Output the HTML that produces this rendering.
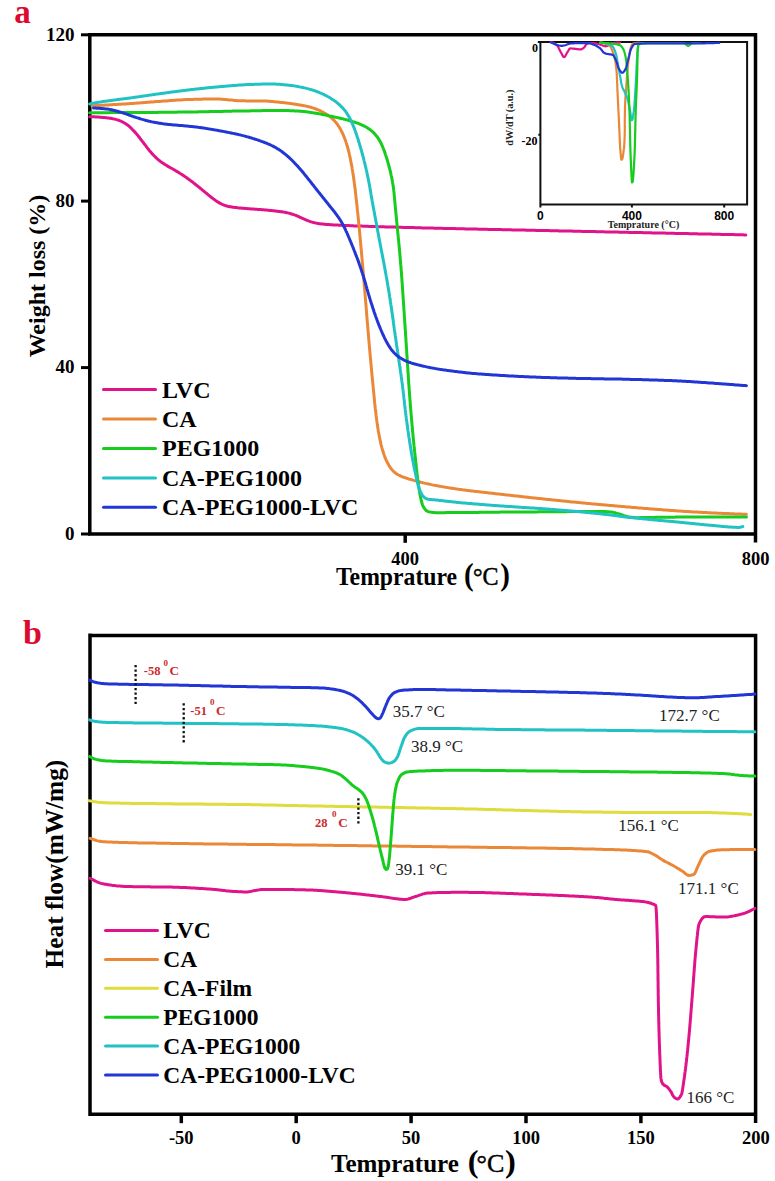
<!DOCTYPE html>
<html><head><meta charset="utf-8"><style>
html,body{margin:0;padding:0;background:#fff;}
body{width:775px;height:1181px;overflow:hidden;}
svg{display:block;}

</style></head><body>
<svg width="775" height="1181" viewBox="0 0 775 1181">
<rect width="775" height="1181" fill="#fff"/>
<text x="14.2" y="23" font-family="Liberation Serif" font-weight="bold" font-size="33" fill="#dc0a2e">a</text>
<path d="M89.8 34.8 H755.5 V542.5 M89.8 33 V534 H757.2" stroke="#000" stroke-width="3.5" fill="none"/>
<line x1="81" y1="34.8" x2="90" y2="34.8" stroke="#000" stroke-width="3"/>
<line x1="81" y1="201.1" x2="90" y2="201.1" stroke="#000" stroke-width="3"/>
<line x1="81" y1="367.6" x2="90" y2="367.6" stroke="#000" stroke-width="3"/>
<line x1="81" y1="534.0" x2="90" y2="534.0" stroke="#000" stroke-width="3"/>
<line x1="405.2" y1="534" x2="405.2" y2="542.8" stroke="#000" stroke-width="3.5"/>
<text x="74.6" y="41.0" font-family="Liberation Serif" font-weight="bold" font-size="19" text-anchor="end">120</text>
<text x="74.6" y="207.1" font-family="Liberation Serif" font-weight="bold" font-size="19" text-anchor="end">80</text>
<text x="74.6" y="373.0" font-family="Liberation Serif" font-weight="bold" font-size="19" text-anchor="end">40</text>
<text x="74.6" y="539.8" font-family="Liberation Serif" font-weight="bold" font-size="19" text-anchor="end">0</text>
<text x="405.2" y="564.5" font-family="Liberation Serif" font-weight="bold" font-size="18.5" text-anchor="middle">400</text>
<text x="755.7" y="564.5" font-family="Liberation Serif" font-weight="bold" font-size="18.5" text-anchor="middle">800</text>
<g transform="translate(0 585.4) scale(1 1.08)"><text x="336" y="0" font-family="Liberation Serif" font-weight="bold" font-size="23.7">Temprature</text><text x="464" y="-0.7" font-family="Liberation Serif" font-weight="bold" font-size="29">(</text><text x="473" y="0" font-family="Liberation Serif" font-size="24" stroke="#000" stroke-width="0.45">°C</text><text x="500.2" y="-0.7" font-family="Liberation Serif" font-weight="bold" font-size="29">)</text></g>
<text transform="translate(45.4 276) rotate(-90)" x="0" y="0" font-family="Liberation Serif" font-weight="bold" font-size="24" text-anchor="middle">Weight loss (%)</text>
<path d="M89.6 116.7 L90.6 116.7 L91.6 116.7 L92.6 116.8 L93.6 116.8 L94.6 116.8 L95.6 116.9 L96.6 117.0 L97.6 117.0 L98.6 117.1 L99.6 117.2 L100.6 117.2 L101.6 117.3 L102.6 117.4 L103.6 117.5 L104.6 117.6 L105.6 117.7 L106.6 117.8 L107.6 117.9 L108.6 118.0 L109.6 118.2 L110.6 118.3 L111.6 118.5 L112.6 118.7 L113.6 118.9 L114.6 119.1 L115.6 119.3 L116.5 119.6 L117.5 119.9 L118.5 120.2 L119.4 120.6 L120.4 120.9 L121.3 121.3 L122.2 121.8 L123.1 122.2 L124.0 122.7 L124.8 123.2 L125.7 123.8 L126.5 124.3 L127.4 124.9 L128.2 125.5 L129.0 126.2 L129.7 126.8 L130.5 127.5 L131.2 128.2 L131.9 128.9 L132.6 129.7 L133.3 130.4 L134.0 131.1 L134.7 131.9 L135.4 132.6 L136.1 133.4 L136.7 134.2 L137.4 134.9 L138.0 135.7 L138.6 136.5 L139.3 137.3 L139.9 138.2 L140.5 139.0 L141.1 139.8 L141.7 140.6 L142.4 141.4 L143.0 142.2 L143.6 143.0 L144.2 143.8 L144.8 144.6 L145.5 145.4 L146.1 146.2 L146.7 147.1 L147.3 147.9 L147.9 148.7 L148.6 149.5 L149.2 150.3 L149.8 151.1 L150.5 151.8 L151.2 152.6 L151.8 153.4 L152.5 154.1 L153.2 154.8 L153.9 155.6 L154.6 156.3 L155.3 157.0 L156.1 157.7 L156.8 158.4 L157.6 159.1 L158.3 159.8 L159.1 160.4 L159.9 161.0 L160.7 161.6 L161.5 162.2 L162.4 162.8 L163.2 163.4 L164.1 163.9 L164.9 164.5 L165.8 165.0 L166.6 165.5 L167.5 166.1 L168.4 166.6 L169.3 167.1 L170.1 167.6 L171.0 168.0 L171.9 168.5 L172.8 169.0 L173.7 169.5 L174.5 170.0 L175.4 170.6 L176.3 171.1 L177.2 171.6 L178.0 172.1 L178.9 172.6 L179.7 173.2 L180.6 173.7 L181.5 174.2 L182.3 174.8 L183.1 175.4 L184.0 175.9 L184.8 176.5 L185.7 177.1 L186.5 177.6 L187.3 178.2 L188.1 178.8 L188.9 179.4 L189.8 180.0 L190.6 180.6 L191.4 181.2 L192.2 181.8 L193.0 182.4 L193.8 183.1 L194.6 183.7 L195.4 184.3 L196.2 185.0 L197.0 185.6 L197.8 186.2 L198.6 186.9 L199.4 187.5 L200.1 188.1 L200.9 188.8 L201.7 189.4 L202.5 190.1 L203.3 190.7 L204.0 191.3 L204.8 192.0 L205.6 192.6 L206.4 193.3 L207.2 193.9 L207.9 194.6 L208.7 195.2 L209.5 195.9 L210.3 196.5 L211.1 197.1 L211.9 197.8 L212.7 198.4 L213.5 199.0 L214.3 199.5 L215.1 200.1 L215.9 200.7 L216.8 201.3 L217.6 201.9 L218.5 202.4 L219.4 202.9 L220.3 203.4 L221.2 203.8 L222.1 204.3 L223.0 204.7 L224.0 205.0 L224.9 205.4 L225.9 205.7 L226.8 206.0 L227.8 206.3 L228.8 206.5 L229.8 206.7 L230.8 206.8 L231.8 207.0 L232.8 207.2 L233.8 207.3 L234.8 207.4 L235.8 207.5 L236.8 207.6 L237.8 207.8 L238.8 207.9 L239.8 208.0 L240.8 208.1 L241.8 208.2 L242.8 208.3 L243.8 208.3 L244.8 208.4 L245.8 208.5 L246.8 208.6 L247.8 208.7 L248.8 208.7 L249.8 208.8 L250.8 208.9 L251.8 209.0 L252.8 209.0 L253.8 209.1 L254.8 209.2 L255.8 209.2 L256.8 209.3 L257.8 209.4 L258.8 209.4 L259.8 209.5 L260.8 209.6 L261.8 209.7 L262.8 209.8 L263.8 209.8 L264.8 209.9 L265.8 210.0 L266.8 210.1 L267.8 210.2 L268.8 210.3 L269.8 210.4 L270.8 210.5 L271.8 210.6 L272.8 210.7 L273.8 210.8 L274.8 210.9 L275.8 211.0 L276.8 211.2 L277.8 211.3 L278.8 211.4 L279.8 211.5 L280.8 211.7 L281.8 211.8 L282.8 212.0 L283.8 212.1 L284.8 212.3 L285.8 212.5 L286.8 212.7 L287.8 212.9 L288.7 213.1 L289.7 213.4 L290.7 213.7 L291.7 214.0 L292.6 214.3 L293.6 214.6 L294.5 214.9 L295.5 215.2 L296.4 215.6 L297.3 216.0 L298.3 216.4 L299.2 216.9 L300.1 217.3 L301.0 217.7 L301.9 218.1 L302.9 218.5 L303.8 218.9 L304.7 219.3 L305.6 219.7 L306.5 220.1 L307.5 220.5 L308.4 220.9 L309.3 221.2 L310.3 221.6 L311.3 221.9 L312.2 222.2 L313.2 222.4 L314.2 222.7 L315.2 222.9 L316.2 223.1 L317.1 223.3 L318.1 223.5 L319.1 223.7 L320.1 223.8 L321.1 223.9 L322.1 224.0 L323.1 224.1 L324.1 224.2 L325.1 224.3 L326.1 224.4 L327.1 224.5 L328.1 224.6 L329.1 224.6 L330.1 224.7 L331.1 224.8 L332.1 224.8 L333.1 224.9 L334.1 224.9 L335.1 225.0 L336.1 225.0 L337.1 225.1 L338.1 225.1 L339.1 225.2 L340.1 225.2 L341.1 225.3 L342.1 225.3 L343.1 225.4 L344.1 225.4 L345.1 225.5 L346.1 225.5 L347.1 225.6 L348.1 225.6 L349.1 225.6 L350.1 225.7 L351.1 225.7 L352.1 225.8 L353.1 225.8 L354.1 225.9 L355.1 225.9 L356.1 225.9 L357.1 226.0 L358.1 226.0 L359.1 226.0 L360.1 226.1 L361.1 226.1 L362.1 226.1 L363.1 226.2 L364.1 226.2 L365.1 226.2 L366.1 226.3 L367.1 226.3 L368.1 226.3 L369.1 226.4 L370.1 226.4 L371.1 226.4 L372.1 226.5 L373.1 226.5 L374.1 226.5 L375.1 226.6 L376.1 226.6 L377.1 226.6 L378.1 226.7 L379.1 226.7 L380.1 226.7 L381.1 226.7 L382.1 226.8 L383.1 226.8 L384.1 226.8 L385.1 226.9 L386.1 226.9 L387.1 226.9 L388.1 226.9 L389.1 227.0 L390.1 227.0 L391.1 227.0 L392.1 227.0 L393.1 227.1 L394.1 227.1 L395.1 227.1 L396.1 227.2 L397.1 227.2 L398.1 227.2 L399.1 227.2 L400.1 227.3 L401.1 227.3 L402.1 227.3 L403.1 227.4 L404.1 227.4 L405.1 227.4 L406.1 227.4 L407.1 227.5 L408.1 227.5 L409.1 227.5 L410.1 227.5 L411.1 227.6 L412.1 227.6 L413.1 227.6 L414.1 227.6 L415.1 227.7 L416.1 227.7 L417.1 227.7 L418.1 227.8 L419.1 227.8 L420.1 227.8 L421.1 227.8 L422.1 227.9 L423.1 227.9 L424.1 227.9 L425.1 227.9 L426.1 228.0 L427.1 228.0 L428.1 228.0 L429.1 228.0 L430.1 228.1 L431.1 228.1 L432.1 228.1 L433.1 228.1 L434.1 228.2 L435.1 228.2 L436.1 228.2 L437.1 228.2 L438.1 228.3 L439.1 228.3 L440.1 228.3 L441.1 228.3 L442.1 228.3 L443.1 228.4 L444.1 228.4 L445.1 228.4 L446.1 228.4 L447.1 228.5 L448.1 228.5 L449.1 228.5 L450.1 228.5 L451.1 228.6 L452.1 228.6 L453.1 228.6 L454.1 228.6 L455.1 228.6 L456.1 228.7 L457.1 228.7 L458.1 228.7 L459.1 228.7 L460.1 228.8 L461.1 228.8 L462.1 228.8 L463.1 228.8 L464.1 228.8 L465.1 228.9 L466.1 228.9 L467.1 228.9 L468.1 228.9 L469.1 229.0 L470.1 229.0 L471.1 229.0 L472.1 229.0 L473.1 229.0 L474.1 229.1 L475.1 229.1 L476.1 229.1 L477.1 229.1 L478.1 229.2 L479.1 229.2 L480.1 229.2 L481.1 229.2 L482.1 229.2 L483.1 229.3 L484.1 229.3 L485.1 229.3 L486.1 229.3 L487.1 229.3 L488.1 229.4 L489.1 229.4 L490.1 229.4 L491.1 229.4 L492.1 229.5 L493.1 229.5 L494.1 229.5 L495.1 229.5 L496.1 229.5 L497.1 229.6 L498.1 229.6 L499.1 229.6 L500.1 229.6 L501.1 229.6 L502.1 229.7 L503.1 229.7 L504.1 229.7 L505.1 229.7 L506.1 229.7 L507.1 229.8 L508.1 229.8 L509.1 229.8 L510.1 229.8 L511.1 229.8 L512.1 229.9 L513.1 229.9 L514.1 229.9 L515.1 229.9 L516.1 230.0 L517.1 230.0 L518.1 230.0 L519.1 230.0 L520.1 230.0 L521.1 230.1 L522.1 230.1 L523.1 230.1 L524.1 230.1 L525.1 230.1 L526.1 230.2 L527.1 230.2 L528.1 230.2 L529.1 230.2 L530.1 230.2 L531.1 230.3 L532.1 230.3 L533.1 230.3 L534.1 230.3 L535.1 230.3 L536.1 230.4 L537.1 230.4 L538.1 230.4 L539.1 230.4 L540.1 230.5 L541.1 230.5 L542.1 230.5 L543.1 230.5 L544.1 230.5 L545.1 230.6 L546.1 230.6 L547.1 230.6 L548.1 230.6 L549.1 230.6 L550.1 230.7 L551.1 230.7 L552.1 230.7 L553.1 230.7 L554.1 230.8 L555.1 230.8 L556.1 230.8 L557.1 230.8 L558.1 230.8 L559.1 230.9 L560.1 230.9 L561.1 230.9 L562.1 230.9 L563.1 231.0 L564.1 231.0 L565.1 231.0 L566.1 231.0 L567.1 231.0 L568.1 231.1 L569.1 231.1 L570.1 231.1 L571.1 231.1 L572.1 231.1 L573.1 231.2 L574.1 231.2 L575.1 231.2 L576.1 231.2 L577.1 231.3 L578.1 231.3 L579.1 231.3 L580.1 231.3 L581.1 231.3 L582.1 231.4 L583.1 231.4 L584.1 231.4 L585.1 231.4 L586.1 231.5 L587.1 231.5 L588.1 231.5 L589.1 231.5 L590.1 231.5 L591.1 231.6 L592.1 231.6 L593.1 231.6 L594.1 231.6 L595.1 231.6 L596.1 231.7 L597.1 231.7 L598.1 231.7 L599.1 231.7 L600.1 231.8 L601.1 231.8 L602.1 231.8 L603.1 231.8 L604.1 231.8 L605.1 231.9 L606.1 231.9 L607.1 231.9 L608.1 231.9 L609.1 231.9 L610.1 232.0 L611.1 232.0 L612.1 232.0 L613.1 232.0 L614.1 232.1 L615.1 232.1 L616.1 232.1 L617.1 232.1 L618.1 232.1 L619.1 232.2 L620.1 232.2 L621.1 232.2 L622.1 232.2 L623.1 232.2 L624.1 232.3 L625.1 232.3 L626.1 232.3 L627.1 232.3 L628.1 232.3 L629.1 232.4 L630.1 232.4 L631.1 232.4 L632.1 232.4 L633.1 232.5 L634.1 232.5 L635.1 232.5 L636.1 232.5 L637.1 232.5 L638.1 232.6 L639.1 232.6 L640.1 232.6 L641.1 232.6 L642.1 232.6 L643.1 232.7 L644.1 232.7 L645.1 232.7 L646.1 232.7 L647.1 232.8 L648.1 232.8 L649.1 232.8 L650.1 232.8 L651.1 232.8 L652.1 232.9 L653.1 232.9 L654.1 232.9 L655.1 232.9 L656.1 232.9 L657.1 233.0 L658.1 233.0 L659.1 233.0 L660.1 233.0 L661.1 233.1 L662.1 233.1 L663.1 233.1 L664.1 233.1 L665.1 233.1 L666.1 233.2 L667.1 233.2 L668.1 233.2 L669.1 233.2 L670.1 233.3 L671.1 233.3 L672.1 233.3 L673.1 233.3 L674.1 233.3 L675.1 233.4 L676.1 233.4 L677.1 233.4 L678.1 233.4 L679.1 233.4 L680.1 233.5 L681.1 233.5 L682.1 233.5 L683.1 233.5 L684.1 233.6 L685.1 233.6 L686.1 233.6 L687.1 233.6 L688.1 233.6 L689.1 233.7 L690.1 233.7 L691.1 233.7 L692.1 233.7 L693.1 233.8 L694.1 233.8 L695.1 233.8 L696.1 233.8 L697.1 233.8 L698.1 233.9 L699.1 233.9 L700.1 233.9 L701.1 233.9 L702.1 233.9 L703.1 234.0 L704.1 234.0 L705.1 234.0 L706.1 234.0 L707.1 234.1 L708.1 234.1 L709.1 234.1 L710.1 234.1 L711.1 234.1 L712.1 234.2 L713.1 234.2 L714.1 234.2 L715.1 234.2 L716.1 234.3 L717.1 234.3 L718.1 234.3 L719.1 234.3 L720.1 234.3 L721.1 234.4 L722.1 234.4 L723.1 234.4 L724.1 234.4 L725.1 234.4 L726.1 234.5 L727.1 234.5 L728.1 234.5 L729.1 234.5 L730.1 234.6 L731.1 234.6 L732.1 234.6 L733.1 234.6 L734.1 234.6 L735.1 234.7 L736.1 234.7 L737.1 234.7 L738.1 234.7 L739.1 234.8 L740.1 234.8 L741.1 234.8 L742.1 234.8 L743.1 234.8 L744.1 234.9 L745.1 234.9 L745.8 234.9" stroke="#e0138a" stroke-width="3.0" fill="none" stroke-linecap="round" stroke-linejoin="round"/>
<path d="M92.0 105.9 L93.0 105.8 L94.0 105.8 L95.0 105.7 L96.0 105.6 L97.0 105.6 L98.0 105.5 L99.0 105.5 L100.0 105.4 L101.0 105.3 L102.0 105.3 L103.0 105.2 L104.0 105.2 L105.0 105.1 L106.0 105.0 L107.0 105.0 L108.0 104.9 L109.0 104.9 L110.0 104.8 L111.0 104.7 L112.0 104.7 L113.0 104.6 L114.0 104.6 L115.0 104.5 L116.0 104.5 L117.0 104.4 L118.0 104.3 L119.0 104.3 L120.0 104.2 L121.0 104.2 L122.0 104.1 L123.0 104.1 L124.0 104.0 L125.0 103.9 L126.0 103.9 L127.0 103.8 L128.0 103.8 L129.0 103.7 L130.0 103.6 L131.0 103.6 L132.0 103.5 L133.0 103.4 L134.0 103.3 L135.0 103.3 L136.0 103.2 L137.0 103.1 L138.0 103.1 L139.0 103.0 L140.0 102.9 L141.0 102.8 L142.0 102.7 L143.0 102.7 L144.0 102.6 L145.0 102.5 L146.0 102.4 L147.0 102.3 L148.0 102.3 L149.0 102.2 L150.0 102.1 L151.0 102.0 L152.0 101.9 L153.0 101.9 L154.0 101.8 L155.0 101.7 L156.0 101.6 L157.0 101.6 L158.0 101.5 L159.0 101.4 L160.0 101.4 L161.0 101.3 L162.0 101.2 L163.0 101.1 L164.0 101.1 L165.0 101.0 L166.0 100.9 L167.0 100.9 L168.0 100.8 L169.0 100.7 L170.0 100.6 L171.0 100.6 L172.0 100.5 L173.0 100.4 L174.0 100.3 L175.0 100.3 L176.0 100.2 L177.0 100.1 L178.0 100.1 L179.0 100.0 L180.0 99.9 L181.0 99.9 L182.0 99.8 L183.0 99.7 L184.0 99.7 L185.0 99.6 L186.0 99.6 L187.0 99.5 L188.0 99.5 L189.0 99.5 L190.0 99.4 L191.0 99.4 L192.0 99.4 L193.0 99.4 L194.0 99.3 L195.0 99.3 L196.0 99.3 L197.0 99.3 L198.0 99.2 L199.0 99.2 L200.0 99.2 L201.0 99.2 L202.0 99.2 L203.0 99.1 L204.0 99.1 L205.0 99.1 L206.0 99.1 L207.0 99.1 L208.0 99.1 L209.0 99.1 L210.0 99.0 L211.0 99.0 L212.0 99.0 L213.0 99.0 L214.0 99.0 L215.0 99.0 L216.0 99.0 L217.0 99.0 L218.0 99.0 L219.0 99.1 L220.0 99.1 L221.0 99.2 L222.0 99.2 L223.0 99.3 L224.0 99.4 L225.0 99.5 L226.0 99.6 L227.0 99.7 L228.0 99.8 L229.0 99.9 L230.0 99.9 L231.0 100.0 L232.0 100.1 L233.0 100.2 L234.0 100.4 L235.0 100.5 L236.0 100.6 L237.0 100.7 L238.0 100.7 L239.0 100.7 L240.0 100.8 L241.0 100.8 L242.0 100.8 L243.0 100.8 L244.0 100.8 L245.0 100.8 L246.0 100.9 L247.0 100.9 L248.0 100.9 L249.0 100.9 L250.0 100.9 L251.0 100.9 L252.0 100.9 L253.0 100.9 L254.0 100.9 L255.0 100.9 L256.0 100.9 L257.0 100.9 L258.0 100.9 L259.0 100.9 L260.0 100.9 L261.0 100.9 L262.0 100.9 L263.0 100.9 L264.0 101.0 L265.0 101.0 L266.0 101.1 L267.0 101.1 L268.0 101.2 L269.0 101.3 L270.0 101.3 L271.0 101.4 L272.0 101.5 L273.0 101.6 L274.0 101.7 L275.0 101.8 L276.0 101.9 L277.0 102.0 L278.0 102.1 L279.0 102.2 L280.0 102.3 L281.0 102.4 L282.0 102.5 L283.0 102.6 L284.0 102.7 L285.0 102.8 L286.0 102.9 L287.0 103.1 L288.0 103.2 L289.0 103.3 L290.0 103.5 L291.0 103.6 L292.0 103.7 L293.0 103.9 L294.0 104.0 L295.0 104.2 L296.0 104.3 L297.0 104.5 L298.0 104.7 L299.0 104.8 L300.0 105.0 L301.0 105.2 L302.0 105.3 L303.0 105.5 L304.0 105.7 L305.0 105.9 L306.0 106.1 L307.0 106.3 L307.9 106.6 L308.9 106.8 L309.9 107.0 L310.9 107.3 L311.9 107.6 L312.8 107.9 L313.8 108.2 L314.7 108.5 L315.7 108.9 L316.6 109.3 L317.6 109.6 L318.5 110.0 L319.4 110.4 L320.3 110.8 L321.3 111.3 L322.2 111.7 L323.1 112.2 L323.9 112.7 L324.8 113.2 L325.7 113.7 L326.5 114.3 L327.4 114.8 L328.2 115.4 L329.0 116.0 L329.9 116.6 L330.7 117.2 L331.4 117.9 L332.2 118.6 L332.9 119.3 L333.7 120.0 L334.4 120.7 L335.0 121.5 L335.7 122.2 L336.3 123.0 L337.0 123.8 L337.6 124.7 L338.1 125.5 L338.7 126.4 L339.2 127.2 L339.8 128.1 L340.3 129.0 L340.8 129.9 L341.3 130.8 L341.7 131.7 L342.2 132.6 L342.6 133.5 L343.1 134.5 L343.5 135.4 L343.9 136.4 L344.3 137.3 L344.6 138.3 L345.0 139.2 L345.4 140.2 L345.7 141.1 L346.0 142.1 L346.3 143.1 L346.6 144.0 L346.9 145.0 L347.2 146.0 L347.5 147.0 L347.8 148.0 L348.1 149.1 L348.3 150.0 L348.6 151.1 L348.8 152.0 L349.1 153.0 L349.3 154.1 L349.5 155.1 L349.8 156.1 L350.0 157.1 L350.2 158.1 L350.4 159.2 L350.6 160.2 L350.8 161.2 L351.0 162.2 L351.2 163.3 L351.4 164.3 L351.6 165.3 L351.8 166.3 L352.0 167.3 L352.1 168.4 L352.3 169.5 L352.5 170.5 L352.7 171.5 L352.8 172.5 L353.0 173.6 L353.1 174.6 L353.3 175.7 L353.5 176.7 L353.6 177.9 L353.8 178.8 L353.9 179.9 L354.0 180.9 L354.2 181.9 L354.3 183.0 L354.5 184.1 L354.6 185.2 L354.7 186.3 L354.9 187.4 L355.0 188.6 L355.2 189.7 L355.3 190.7 L355.4 191.8 L355.5 192.8 L355.6 193.8 L355.8 194.8 L355.9 195.9 L356.0 196.9 L356.1 198.0 L356.2 199.0 L356.4 200.1 L356.5 201.2 L356.6 202.3 L356.7 203.4 L356.8 204.6 L357.0 205.7 L357.1 206.9 L357.2 208.1 L357.3 209.2 L357.4 210.4 L357.6 211.6 L357.7 212.6 L357.8 213.6 L357.9 214.6 L358.0 215.6 L358.1 216.6 L358.2 217.6 L358.3 218.7 L358.4 219.7 L358.5 220.7 L358.6 221.7 L358.7 222.7 L358.8 223.7 L358.9 224.8 L359.0 225.8 L359.1 226.8 L359.2 227.9 L359.3 228.9 L359.4 230.0 L359.5 231.0 L359.6 232.1 L359.7 233.1 L359.8 234.2 L359.9 235.3 L360.0 236.3 L360.1 237.4 L360.2 238.5 L360.3 239.6 L360.4 240.7 L360.5 241.7 L360.6 242.8 L360.7 243.9 L360.8 245.0 L360.9 246.1 L361.0 247.2 L361.1 248.3 L361.2 249.4 L361.3 250.5 L361.4 251.6 L361.5 252.8 L361.6 253.9 L361.7 255.0 L361.8 256.1 L361.9 257.3 L362.0 258.4 L362.1 259.5 L362.2 260.7 L362.3 261.8 L362.4 262.9 L362.5 264.1 L362.6 265.2 L362.7 266.4 L362.8 267.5 L362.9 268.7 L363.0 269.8 L363.1 271.0 L363.2 272.1 L363.3 273.3 L363.4 274.5 L363.5 275.6 L363.6 276.8 L363.7 278.0 L363.8 279.2 L363.9 280.3 L364.0 281.5 L364.1 282.7 L364.2 283.9 L364.3 285.1 L364.4 286.3 L364.5 287.5 L364.6 288.7 L364.7 289.9 L364.8 291.1 L364.9 292.3 L365.0 293.5 L365.1 294.7 L365.2 295.9 L365.3 297.1 L365.4 298.3 L365.5 299.6 L365.6 300.8 L365.7 302.0 L365.8 303.2 L365.9 304.5 L366.0 305.7 L366.1 307.0 L366.2 308.2 L366.3 309.4 L366.4 310.7 L366.5 311.9 L366.6 313.1 L366.7 314.4 L366.8 315.6 L366.9 316.8 L367.0 318.0 L367.1 319.2 L367.2 320.4 L367.3 321.6 L367.4 322.8 L367.5 324.0 L367.6 325.2 L367.7 326.4 L367.8 327.6 L367.9 328.8 L368.0 330.0 L368.1 331.2 L368.2 332.4 L368.3 333.5 L368.4 334.7 L368.5 335.9 L368.6 337.1 L368.7 338.2 L368.8 339.4 L368.9 340.6 L369.0 341.7 L369.1 342.9 L369.2 344.0 L369.3 345.2 L369.4 346.3 L369.5 347.5 L369.6 348.6 L369.7 349.7 L369.8 350.9 L369.9 352.0 L370.0 353.1 L370.1 354.2 L370.2 355.4 L370.3 356.5 L370.4 357.6 L370.5 358.7 L370.6 359.8 L370.7 360.9 L370.8 362.0 L370.9 363.1 L371.0 364.2 L371.1 365.3 L371.2 366.4 L371.3 367.5 L371.4 368.6 L371.5 369.7 L371.6 370.8 L371.7 371.8 L371.8 372.9 L371.9 374.0 L372.0 375.1 L372.1 376.1 L372.2 377.2 L372.3 378.2 L372.4 379.3 L372.5 380.3 L372.6 381.4 L372.7 382.4 L372.8 383.4 L372.9 384.5 L373.0 385.5 L373.1 386.5 L373.2 387.5 L373.3 388.6 L373.4 389.6 L373.5 390.6 L373.6 391.6 L373.7 392.7 L373.8 393.7 L373.9 394.7 L374.0 395.7 L374.1 396.7 L374.2 397.7 L374.3 398.7 L374.4 399.9 L374.5 401.1 L374.6 402.3 L374.7 403.4 L374.9 404.6 L375.0 405.7 L375.1 406.8 L375.2 407.9 L375.3 408.9 L375.5 410.0 L375.6 411.0 L375.7 412.1 L375.9 413.3 L376.0 414.4 L376.1 415.5 L376.3 416.6 L376.4 417.7 L376.6 418.8 L376.7 419.9 L376.8 420.9 L377.0 422.0 L377.1 423.0 L377.3 424.0 L377.4 425.1 L377.6 426.2 L377.7 427.3 L377.9 428.4 L378.1 429.4 L378.2 430.4 L378.4 431.5 L378.6 432.5 L378.8 433.5 L379.0 434.6 L379.2 435.7 L379.4 436.7 L379.6 437.7 L379.8 438.7 L380.0 439.7 L380.2 440.8 L380.4 441.8 L380.7 442.8 L380.9 443.9 L381.1 444.9 L381.4 445.9 L381.7 446.9 L381.9 447.9 L382.2 448.9 L382.5 449.8 L382.8 450.8 L383.1 451.8 L383.4 452.8 L383.7 453.8 L384.1 454.8 L384.4 455.7 L384.8 456.7 L385.1 457.6 L385.5 458.6 L385.9 459.5 L386.3 460.5 L386.8 461.4 L387.2 462.3 L387.7 463.2 L388.2 464.1 L388.7 465.0 L389.2 465.9 L389.8 466.7 L390.3 467.6 L390.9 468.4 L391.5 469.2 L392.2 470.0 L392.9 470.7 L393.6 471.4 L394.4 472.1 L395.2 472.8 L396.0 473.4 L396.8 473.9 L397.7 474.5 L398.6 475.0 L399.5 475.4 L400.4 475.9 L401.3 476.3 L402.2 476.7 L403.2 477.0 L404.1 477.4 L405.1 477.7 L406.1 478.0 L407.0 478.3 L408.0 478.7 L408.9 479.0 L409.9 479.3 L410.9 479.5 L411.8 479.8 L412.8 480.1 L413.8 480.4 L414.8 480.6 L415.8 480.9 L416.7 481.1 L417.7 481.4 L418.7 481.7 L419.7 481.9 L420.7 482.2 L421.6 482.4 L422.6 482.7 L423.6 482.9 L424.6 483.1 L425.6 483.4 L426.5 483.6 L427.5 483.8 L428.5 484.0 L429.5 484.2 L430.5 484.4 L431.4 484.6 L432.4 484.9 L433.4 485.1 L434.4 485.3 L435.4 485.5 L436.4 485.6 L437.4 485.8 L438.4 486.0 L439.4 486.2 L440.4 486.4 L441.4 486.6 L442.4 486.7 L443.4 486.9 L444.4 487.1 L445.4 487.2 L446.4 487.4 L447.4 487.6 L448.4 487.7 L449.4 487.9 L450.4 488.0 L451.4 488.2 L452.4 488.3 L453.4 488.5 L454.4 488.6 L455.4 488.8 L456.4 488.9 L457.4 489.1 L458.4 489.2 L459.4 489.4 L460.4 489.5 L461.4 489.6 L462.4 489.8 L463.4 489.9 L464.4 490.0 L465.4 490.2 L466.4 490.3 L467.4 490.4 L468.4 490.5 L469.4 490.7 L470.4 490.8 L471.4 490.9 L472.4 491.0 L473.4 491.1 L474.4 491.3 L475.4 491.4 L476.4 491.5 L477.4 491.6 L478.4 491.7 L479.4 491.8 L480.4 491.9 L481.4 492.1 L482.4 492.2 L483.4 492.3 L484.4 492.4 L485.4 492.5 L486.4 492.6 L487.4 492.7 L488.4 492.9 L489.4 493.0 L490.4 493.1 L491.4 493.2 L492.4 493.3 L493.4 493.4 L494.4 493.5 L495.4 493.7 L496.4 493.8 L497.4 493.9 L498.4 494.0 L499.4 494.1 L500.4 494.2 L501.4 494.3 L502.4 494.5 L503.4 494.6 L504.4 494.7 L505.4 494.8 L506.4 494.9 L507.4 495.0 L508.4 495.1 L509.4 495.2 L510.4 495.3 L511.4 495.5 L512.4 495.6 L513.4 495.7 L514.4 495.8 L515.4 495.9 L516.4 496.0 L517.4 496.1 L518.4 496.2 L519.4 496.3 L520.4 496.5 L521.4 496.6 L522.4 496.7 L523.4 496.8 L524.4 496.9 L525.4 497.0 L526.4 497.1 L527.4 497.2 L528.4 497.3 L529.4 497.4 L530.4 497.6 L531.4 497.7 L532.4 497.8 L533.4 497.9 L534.4 498.0 L535.4 498.1 L536.4 498.2 L537.4 498.3 L538.4 498.4 L539.4 498.5 L540.4 498.6 L541.4 498.7 L542.4 498.8 L543.4 498.9 L544.4 499.1 L545.4 499.2 L546.4 499.3 L547.4 499.4 L548.4 499.5 L549.4 499.6 L550.4 499.7 L551.4 499.8 L552.4 499.9 L553.4 500.0 L554.4 500.1 L555.4 500.2 L556.4 500.3 L557.4 500.4 L558.4 500.5 L559.4 500.6 L560.4 500.7 L561.4 500.8 L562.4 500.9 L563.4 501.0 L564.4 501.1 L565.4 501.2 L566.4 501.3 L567.4 501.5 L568.4 501.6 L569.4 501.7 L570.4 501.8 L571.4 501.9 L572.4 502.0 L573.4 502.1 L574.4 502.1 L575.4 502.2 L576.4 502.3 L577.4 502.4 L578.4 502.5 L579.4 502.6 L580.4 502.7 L581.4 502.8 L582.4 502.9 L583.4 503.0 L584.4 503.1 L585.4 503.2 L586.4 503.3 L587.4 503.4 L588.4 503.5 L589.4 503.6 L590.4 503.7 L591.4 503.8 L592.4 503.9 L593.4 503.9 L594.4 504.0 L595.4 504.1 L596.4 504.2 L597.4 504.3 L598.4 504.4 L599.4 504.5 L600.4 504.6 L601.4 504.7 L602.4 504.8 L603.4 504.8 L604.4 504.9 L605.4 505.0 L606.4 505.1 L607.4 505.2 L608.4 505.3 L609.4 505.4 L610.4 505.5 L611.4 505.6 L612.4 505.6 L613.4 505.7 L614.4 505.8 L615.4 505.9 L616.4 506.0 L617.4 506.1 L618.4 506.2 L619.4 506.2 L620.4 506.3 L621.4 506.4 L622.4 506.5 L623.4 506.6 L624.4 506.7 L625.4 506.8 L626.4 506.9 L627.4 506.9 L628.4 507.0 L629.4 507.1 L630.4 507.2 L631.4 507.3 L632.4 507.4 L633.4 507.5 L634.4 507.5 L635.4 507.6 L636.4 507.7 L637.4 507.8 L638.4 507.9 L639.4 508.0 L640.4 508.0 L641.4 508.1 L642.4 508.2 L643.4 508.3 L644.4 508.4 L645.4 508.5 L646.4 508.5 L647.4 508.6 L648.4 508.7 L649.4 508.8 L650.4 508.9 L651.4 508.9 L652.4 509.0 L653.4 509.1 L654.4 509.2 L655.4 509.3 L656.4 509.3 L657.4 509.4 L658.4 509.5 L659.4 509.6 L660.4 509.6 L661.4 509.7 L662.4 509.8 L663.4 509.9 L664.4 509.9 L665.4 510.0 L666.4 510.1 L667.4 510.2 L668.4 510.2 L669.4 510.3 L670.4 510.4 L671.4 510.5 L672.4 510.5 L673.4 510.6 L674.4 510.7 L675.4 510.8 L676.4 510.8 L677.4 510.9 L678.4 511.0 L679.4 511.0 L680.4 511.1 L681.4 511.2 L682.4 511.2 L683.4 511.3 L684.4 511.4 L685.4 511.4 L686.4 511.5 L687.4 511.6 L688.4 511.6 L689.4 511.7 L690.4 511.7 L691.4 511.8 L692.4 511.9 L693.4 511.9 L694.4 512.0 L695.4 512.0 L696.4 512.1 L697.4 512.1 L698.4 512.2 L699.4 512.2 L700.4 512.3 L701.4 512.3 L702.4 512.4 L703.4 512.5 L704.4 512.5 L705.4 512.6 L706.4 512.6 L707.4 512.7 L708.4 512.7 L709.4 512.8 L710.4 512.8 L711.4 512.9 L712.4 512.9 L713.4 513.0 L714.4 513.0 L715.4 513.1 L716.4 513.1 L717.4 513.2 L718.4 513.2 L719.4 513.3 L720.4 513.3 L721.4 513.3 L722.4 513.4 L723.4 513.4 L724.4 513.5 L725.4 513.5 L726.4 513.6 L727.4 513.6 L728.4 513.6 L729.4 513.7 L730.4 513.7 L731.4 513.8 L732.4 513.8 L733.4 513.8 L734.4 513.9 L735.4 513.9 L736.4 514.0 L737.4 514.0 L738.4 514.0 L739.4 514.1 L740.4 514.1 L741.4 514.1 L742.4 514.2 L743.4 514.2 L744.4 514.2 L745.4 514.3 L746.4 514.3" stroke="#ea8838" stroke-width="3.0" fill="none" stroke-linecap="round" stroke-linejoin="round"/>
<path d="M89.6 112.8 L90.6 112.8 L91.6 112.8 L92.6 112.8 L93.6 112.8 L94.6 112.8 L95.6 112.7 L96.6 112.7 L97.6 112.7 L98.6 112.7 L99.6 112.7 L100.6 112.7 L101.6 112.7 L102.6 112.7 L103.6 112.7 L104.6 112.7 L105.6 112.7 L106.6 112.7 L107.6 112.7 L108.6 112.7 L109.6 112.6 L110.6 112.6 L111.6 112.6 L112.6 112.6 L113.6 112.6 L114.6 112.6 L115.6 112.6 L116.6 112.6 L117.6 112.6 L118.6 112.6 L119.6 112.6 L120.6 112.6 L121.6 112.6 L122.6 112.6 L123.6 112.6 L124.6 112.6 L125.6 112.6 L126.6 112.6 L127.6 112.6 L128.6 112.5 L129.6 112.5 L130.6 112.5 L131.6 112.5 L132.6 112.5 L133.6 112.5 L134.6 112.5 L135.6 112.5 L136.6 112.5 L137.6 112.5 L138.6 112.5 L139.6 112.5 L140.6 112.5 L141.6 112.5 L142.6 112.5 L143.6 112.5 L144.6 112.5 L145.6 112.5 L146.6 112.4 L147.6 112.4 L148.6 112.4 L149.6 112.4 L150.6 112.4 L151.6 112.4 L152.6 112.4 L153.6 112.4 L154.6 112.4 L155.6 112.4 L156.6 112.4 L157.6 112.4 L158.6 112.3 L159.6 112.3 L160.6 112.3 L161.6 112.3 L162.6 112.3 L163.6 112.3 L164.6 112.3 L165.6 112.3 L166.6 112.3 L167.6 112.3 L168.6 112.2 L169.6 112.2 L170.6 112.2 L171.6 112.2 L172.6 112.2 L173.6 112.2 L174.6 112.2 L175.6 112.2 L176.6 112.2 L177.6 112.1 L178.6 112.1 L179.6 112.1 L180.6 112.1 L181.6 112.1 L182.6 112.1 L183.6 112.1 L184.6 112.1 L185.6 112.0 L186.6 112.0 L187.6 112.0 L188.6 112.0 L189.6 112.0 L190.6 112.0 L191.6 112.0 L192.6 112.0 L193.6 111.9 L194.6 111.9 L195.6 111.9 L196.6 111.9 L197.6 111.9 L198.6 111.8 L199.6 111.8 L200.6 111.8 L201.6 111.8 L202.6 111.8 L203.6 111.8 L204.6 111.7 L205.6 111.7 L206.6 111.7 L207.6 111.7 L208.6 111.7 L209.6 111.6 L210.6 111.6 L211.6 111.6 L212.6 111.6 L213.6 111.5 L214.6 111.5 L215.6 111.5 L216.6 111.5 L217.6 111.5 L218.6 111.4 L219.6 111.4 L220.6 111.4 L221.6 111.4 L222.6 111.4 L223.6 111.3 L224.6 111.3 L225.6 111.3 L226.6 111.3 L227.6 111.2 L228.6 111.2 L229.6 111.2 L230.6 111.2 L231.6 111.2 L232.6 111.1 L233.6 111.1 L234.6 111.1 L235.6 111.1 L236.6 111.1 L237.6 111.0 L238.6 111.0 L239.6 111.0 L240.6 111.0 L241.6 111.0 L242.6 111.0 L243.6 110.9 L244.6 110.9 L245.6 110.9 L246.6 110.9 L247.6 110.9 L248.6 110.9 L249.6 110.9 L250.6 110.8 L251.6 110.8 L252.6 110.8 L253.6 110.8 L254.6 110.8 L255.6 110.8 L256.6 110.7 L257.6 110.7 L258.6 110.7 L259.6 110.7 L260.6 110.7 L261.6 110.7 L262.6 110.6 L263.6 110.6 L264.6 110.6 L265.6 110.6 L266.6 110.6 L267.6 110.6 L268.6 110.6 L269.6 110.5 L270.6 110.5 L271.6 110.5 L272.6 110.5 L273.6 110.5 L274.6 110.5 L275.6 110.5 L276.6 110.5 L277.6 110.5 L278.6 110.5 L279.6 110.5 L280.6 110.5 L281.6 110.5 L282.6 110.5 L283.6 110.5 L284.6 110.5 L285.6 110.5 L286.6 110.6 L287.6 110.6 L288.6 110.6 L289.6 110.7 L290.6 110.7 L291.6 110.7 L292.6 110.8 L293.6 110.8 L294.6 110.9 L295.6 110.9 L296.6 111.0 L297.6 111.1 L298.6 111.1 L299.6 111.2 L300.6 111.2 L301.6 111.3 L302.6 111.4 L303.6 111.5 L304.6 111.6 L305.6 111.7 L306.6 111.8 L307.6 112.0 L308.6 112.1 L309.6 112.3 L310.6 112.4 L311.6 112.6 L312.6 112.7 L313.6 112.9 L314.6 113.0 L315.6 113.2 L316.6 113.3 L317.6 113.5 L318.6 113.7 L319.6 113.9 L320.6 114.1 L321.6 114.3 L322.6 114.5 L323.6 114.7 L324.6 114.9 L325.5 115.1 L326.5 115.3 L327.5 115.5 L328.5 115.7 L329.5 115.9 L330.4 116.1 L331.4 116.3 L332.4 116.5 L333.4 116.7 L334.4 117.0 L335.3 117.2 L336.3 117.4 L337.3 117.6 L338.3 117.8 L339.3 118.0 L340.2 118.3 L341.2 118.5 L342.2 118.7 L343.2 118.9 L344.2 119.2 L345.1 119.4 L346.1 119.7 L347.1 119.9 L348.1 120.2 L349.1 120.5 L350.0 120.8 L351.0 121.0 L352.0 121.3 L352.9 121.6 L353.9 121.9 L354.9 122.2 L355.8 122.6 L356.8 122.9 L357.7 123.2 L358.7 123.6 L359.6 124.0 L360.5 124.4 L361.5 124.8 L362.4 125.2 L363.3 125.6 L364.2 126.1 L365.1 126.5 L366.0 127.0 L366.9 127.5 L367.7 128.1 L368.6 128.6 L369.4 129.2 L370.2 129.8 L371.0 130.4 L371.8 131.1 L372.5 131.7 L373.3 132.4 L374.0 133.1 L374.7 133.9 L375.4 134.6 L376.0 135.4 L376.7 136.2 L377.3 137.0 L377.9 137.8 L378.4 138.7 L379.0 139.6 L379.5 140.4 L380.0 141.3 L380.5 142.2 L380.9 143.1 L381.4 144.0 L381.8 145.0 L382.3 145.9 L382.7 146.8 L383.0 147.7 L383.4 148.7 L383.8 149.7 L384.1 150.6 L384.5 151.6 L384.8 152.6 L385.2 153.6 L385.5 154.6 L385.8 155.5 L386.1 156.5 L386.5 157.5 L386.8 158.5 L387.1 159.5 L387.4 160.5 L387.6 161.5 L387.9 162.4 L388.2 163.4 L388.5 164.4 L388.8 165.4 L389.0 166.5 L389.3 167.5 L389.6 168.5 L389.8 169.5 L390.1 170.5 L390.3 171.5 L390.6 172.5 L390.8 173.6 L391.0 174.6 L391.2 175.6 L391.5 176.6 L391.7 177.7 L391.9 178.7 L392.1 179.7 L392.3 180.7 L392.5 181.7 L392.6 182.7 L392.8 183.8 L393.0 184.9 L393.2 186.0 L393.3 187.1 L393.5 188.1 L393.6 189.1 L393.7 190.2 L393.9 191.4 L394.0 192.4 L394.1 193.6 L394.2 194.8 L394.3 195.8 L394.4 196.9 L394.5 198.0 L394.6 199.1 L394.7 200.2 L394.8 201.3 L394.9 202.4 L395.0 203.5 L395.1 204.6 L395.2 205.7 L395.3 206.8 L395.4 207.8 L395.5 208.9 L395.6 209.9 L395.7 211.0 L395.8 212.0 L395.9 213.1 L396.0 214.1 L396.1 215.2 L396.2 216.2 L396.3 217.3 L396.4 218.3 L396.5 219.3 L396.6 220.4 L396.7 221.4 L396.8 222.4 L396.9 223.5 L397.0 224.5 L397.1 225.5 L397.2 226.5 L397.3 227.5 L397.4 228.5 L397.5 229.5 L397.6 230.5 L397.7 231.6 L397.8 232.6 L397.9 233.6 L398.0 234.6 L398.1 235.6 L398.2 236.6 L398.3 237.7 L398.4 238.7 L398.5 239.7 L398.6 240.7 L398.7 241.7 L398.8 242.8 L398.9 243.8 L399.0 244.8 L399.1 245.9 L399.2 246.9 L399.3 248.0 L399.4 249.0 L399.5 250.1 L399.6 251.2 L399.7 252.3 L399.8 253.4 L399.9 254.6 L400.0 255.7 L400.1 256.9 L400.2 258.1 L400.3 259.3 L400.4 260.5 L400.5 261.7 L400.6 262.9 L400.7 264.2 L400.8 265.2 L400.9 266.2 L401.0 267.2 L401.1 268.3 L401.1 269.3 L401.2 270.3 L401.3 271.4 L401.4 272.5 L401.5 273.5 L401.5 274.6 L401.6 275.7 L401.7 276.8 L401.8 277.9 L401.9 279.1 L401.9 280.2 L402.0 281.3 L402.1 282.5 L402.2 283.6 L402.3 284.8 L402.3 285.9 L402.4 287.1 L402.5 288.3 L402.6 289.4 L402.7 290.6 L402.7 291.8 L402.8 293.0 L402.9 294.1 L403.0 295.3 L403.1 296.5 L403.1 297.7 L403.2 298.8 L403.3 300.0 L403.4 301.2 L403.5 302.4 L403.5 303.6 L403.6 304.7 L403.7 305.9 L403.8 307.1 L403.9 308.3 L403.9 309.5 L404.0 310.7 L404.1 311.9 L404.2 313.1 L404.3 314.3 L404.3 315.5 L404.4 316.8 L404.5 318.0 L404.6 319.2 L404.7 320.4 L404.7 321.6 L404.8 322.8 L404.9 324.1 L405.0 325.3 L405.1 326.5 L405.1 327.7 L405.2 329.0 L405.3 330.2 L405.4 331.4 L405.5 332.6 L405.5 333.8 L405.6 335.1 L405.7 336.3 L405.8 337.5 L405.9 338.8 L405.9 340.0 L406.0 341.2 L406.1 342.5 L406.2 343.7 L406.3 344.9 L406.3 346.2 L406.4 347.4 L406.5 348.7 L406.6 349.9 L406.7 351.1 L406.7 352.4 L406.8 353.6 L406.9 354.9 L407.0 356.1 L407.1 357.3 L407.1 358.5 L407.2 359.8 L407.3 361.0 L407.4 362.2 L407.5 363.4 L407.5 364.7 L407.6 365.9 L407.7 367.1 L407.8 368.3 L407.9 369.6 L407.9 370.8 L408.0 372.1 L408.1 373.3 L408.2 374.5 L408.3 375.7 L408.3 377.0 L408.4 378.2 L408.5 379.4 L408.6 380.6 L408.7 381.8 L408.7 383.0 L408.8 384.2 L408.9 385.3 L409.0 386.5 L409.1 387.6 L409.1 388.7 L409.2 389.8 L409.3 390.9 L409.4 392.0 L409.5 393.1 L409.5 394.2 L409.6 395.2 L409.7 396.3 L409.8 397.3 L409.9 398.4 L409.9 399.4 L410.0 400.4 L410.1 401.5 L410.2 402.5 L410.3 403.5 L410.3 404.5 L410.4 405.5 L410.5 406.8 L410.6 408.0 L410.7 409.2 L410.8 410.4 L410.9 411.7 L411.0 412.9 L411.1 414.0 L411.2 415.2 L411.3 416.4 L411.4 417.6 L411.5 418.7 L411.6 419.9 L411.7 421.0 L411.8 422.2 L411.9 423.3 L412.0 424.4 L412.1 425.6 L412.2 426.7 L412.3 427.8 L412.4 428.9 L412.5 430.0 L412.6 431.0 L412.7 432.1 L412.8 433.2 L412.9 434.3 L413.0 435.3 L413.1 436.4 L413.2 437.4 L413.3 438.4 L413.4 439.5 L413.5 440.5 L413.6 441.5 L413.7 442.5 L413.8 443.5 L413.9 444.5 L414.0 445.7 L414.2 446.9 L414.3 448.1 L414.4 449.2 L414.5 450.4 L414.6 451.5 L414.8 452.7 L414.9 453.8 L415.0 455.0 L415.1 456.1 L415.2 457.3 L415.4 458.4 L415.5 459.5 L415.6 460.6 L415.7 461.7 L415.8 462.8 L416.0 463.9 L416.1 465.0 L416.2 466.1 L416.3 467.2 L416.4 468.2 L416.6 469.3 L416.7 470.3 L416.8 471.4 L416.9 472.4 L417.0 473.4 L417.2 474.5 L417.3 475.7 L417.5 476.8 L417.6 477.9 L417.7 479.0 L417.9 480.1 L418.0 481.2 L418.2 482.3 L418.3 483.4 L418.4 484.4 L418.6 485.5 L418.7 486.5 L418.9 487.5 L419.0 488.5 L419.2 489.6 L419.3 490.7 L419.5 491.7 L419.7 492.8 L419.8 493.8 L420.0 494.8 L420.3 495.9 L420.5 496.9 L420.7 497.9 L420.9 498.9 L421.2 500.0 L421.4 501.0 L421.7 502.0 L421.9 503.0 L422.2 504.0 L422.5 505.0 L422.9 506.0 L423.4 506.9 L424.0 507.7 L424.5 508.6 L425.2 509.3 L425.8 510.1 L426.6 510.8 L427.5 511.3 L428.4 511.7 L429.4 511.9 L430.4 512.1 L431.4 512.2 L432.4 512.4 L433.4 512.5 L434.4 512.6 L435.4 512.7 L436.4 512.7 L437.4 512.7 L438.4 512.7 L439.4 512.7 L440.4 512.7 L441.4 512.7 L442.4 512.7 L443.4 512.7 L444.4 512.7 L445.4 512.7 L446.4 512.6 L447.4 512.6 L448.4 512.6 L449.4 512.6 L450.4 512.6 L451.4 512.6 L452.4 512.6 L453.4 512.6 L454.4 512.6 L455.4 512.6 L456.4 512.6 L457.4 512.6 L458.4 512.5 L459.4 512.5 L460.4 512.5 L461.4 512.5 L462.4 512.5 L463.4 512.5 L464.4 512.5 L465.4 512.5 L466.4 512.5 L467.4 512.5 L468.4 512.5 L469.4 512.4 L470.4 512.4 L471.4 512.4 L472.4 512.4 L473.4 512.4 L474.4 512.4 L475.4 512.4 L476.4 512.4 L477.4 512.4 L478.4 512.4 L479.4 512.3 L480.4 512.3 L481.4 512.3 L482.4 512.3 L483.4 512.3 L484.4 512.3 L485.4 512.3 L486.4 512.3 L487.4 512.3 L488.4 512.3 L489.4 512.2 L490.4 512.2 L491.4 512.2 L492.4 512.2 L493.4 512.2 L494.4 512.2 L495.4 512.2 L496.4 512.2 L497.4 512.2 L498.4 512.2 L499.4 512.2 L500.4 512.1 L501.4 512.1 L502.4 512.1 L503.4 512.1 L504.4 512.1 L505.4 512.1 L506.4 512.1 L507.4 512.1 L508.4 512.1 L509.4 512.1 L510.4 512.1 L511.4 512.1 L512.4 512.0 L513.4 512.0 L514.4 512.0 L515.4 512.0 L516.4 512.0 L517.4 512.0 L518.4 512.0 L519.4 512.0 L520.4 512.0 L521.4 512.0 L522.4 512.0 L523.4 512.0 L524.4 511.9 L525.4 511.9 L526.4 511.9 L527.4 511.9 L528.4 511.9 L529.4 511.9 L530.4 511.9 L531.4 511.9 L532.4 511.9 L533.4 511.9 L534.4 511.9 L535.4 511.9 L536.4 511.9 L537.4 511.9 L538.4 511.8 L539.4 511.8 L540.4 511.8 L541.4 511.8 L542.4 511.8 L543.4 511.8 L544.4 511.8 L545.4 511.8 L546.4 511.8 L547.4 511.8 L548.4 511.8 L549.4 511.8 L550.4 511.8 L551.4 511.8 L552.4 511.8 L553.4 511.7 L554.4 511.7 L555.4 511.7 L556.4 511.7 L557.4 511.7 L558.4 511.7 L559.4 511.7 L560.4 511.7 L561.4 511.7 L562.4 511.7 L563.4 511.7 L564.4 511.7 L565.4 511.7 L566.4 511.7 L567.4 511.6 L568.4 511.6 L569.4 511.6 L570.4 511.6 L571.4 511.6 L572.4 511.6 L573.4 511.6 L574.4 511.6 L575.4 511.6 L576.4 511.6 L577.4 511.6 L578.4 511.6 L579.4 511.6 L580.4 511.6 L581.4 511.6 L582.4 511.6 L583.4 511.6 L584.4 511.5 L585.4 511.5 L586.4 511.5 L587.4 511.5 L588.4 511.5 L589.4 511.5 L590.4 511.5 L591.4 511.5 L592.4 511.5 L593.4 511.5 L594.4 511.5 L595.4 511.5 L596.4 511.5 L597.4 511.5 L598.4 511.5 L599.4 511.5 L600.4 511.5 L601.4 511.5 L602.4 511.5 L603.4 511.6 L604.4 511.6 L605.4 511.6 L606.4 511.7 L607.4 511.7 L608.4 511.8 L609.4 511.9 L610.4 511.9 L611.4 512.0 L612.4 512.2 L613.4 512.4 L614.4 512.6 L615.4 512.8 L616.3 513.1 L617.3 513.4 L618.3 513.6 L619.3 513.9 L620.2 514.2 L621.2 514.5 L622.1 514.9 L623.1 515.2 L624.0 515.6 L625.0 515.9 L625.9 516.3 L626.9 516.5 L627.9 516.8 L628.9 516.9 L629.9 517.1 L630.9 517.2 L631.9 517.3 L632.9 517.4 L633.9 517.5 L634.9 517.6 L635.9 517.7 L636.9 517.7 L637.9 517.7 L638.9 517.7 L639.9 517.6 L640.9 517.6 L641.9 517.6 L642.9 517.6 L643.9 517.6 L644.9 517.6 L645.9 517.6 L646.9 517.5 L647.9 517.5 L648.9 517.5 L649.9 517.5 L650.9 517.4 L651.9 517.4 L652.9 517.4 L653.9 517.4 L654.9 517.4 L655.9 517.3 L656.9 517.3 L657.9 517.3 L658.9 517.3 L659.9 517.3 L660.9 517.3 L661.9 517.3 L662.9 517.3 L663.9 517.2 L664.9 517.2 L665.9 517.2 L666.9 517.2 L667.9 517.2 L668.9 517.2 L669.9 517.2 L670.9 517.2 L671.9 517.2 L672.9 517.2 L673.9 517.2 L674.9 517.2 L675.9 517.1 L676.9 517.1 L677.9 517.1 L678.9 517.1 L679.9 517.1 L680.9 517.1 L681.9 517.1 L682.9 517.1 L683.9 517.1 L684.9 517.1 L685.9 517.1 L686.9 517.1 L687.9 517.1 L688.9 517.1 L689.9 517.1 L690.9 517.1 L691.9 517.0 L692.9 517.0 L693.9 517.0 L694.9 517.0 L695.9 517.0 L696.9 517.0 L697.9 517.0 L698.9 517.0 L699.9 517.0 L700.9 517.0 L701.9 517.0 L702.9 517.0 L703.9 517.0 L704.9 517.0 L705.9 517.0 L706.9 517.0 L707.9 517.0 L708.9 517.0 L709.9 517.0 L710.9 517.0 L711.9 517.0 L712.9 517.0 L713.9 517.0 L714.9 517.0 L715.9 517.0 L716.9 517.0 L717.9 517.0 L718.9 517.0 L719.9 517.0 L720.9 517.0 L721.9 517.0 L722.9 517.0 L723.9 517.0 L724.9 517.0 L725.9 517.0 L726.9 517.0 L727.9 517.0 L728.9 517.0 L729.9 517.0 L730.9 517.0 L731.9 517.0 L732.9 517.0 L733.9 517.0 L734.9 517.0 L735.9 517.0 L736.9 517.0 L737.9 517.0 L738.9 517.0 L739.9 517.0 L740.9 517.0 L741.9 517.0 L742.9 517.0 L743.9 517.0 L744.9 517.0 L745.9 517.0 L746.4 517.0" stroke="#16cc1c" stroke-width="3.0" fill="none" stroke-linecap="round" stroke-linejoin="round"/>
<path d="M89.6 103.9 L90.6 103.7 L91.6 103.5 L92.6 103.3 L93.6 103.1 L94.6 103.0 L95.6 102.8 L96.6 102.6 L97.6 102.4 L98.6 102.3 L99.6 102.1 L100.6 101.9 L101.6 101.8 L102.6 101.6 L103.6 101.5 L104.6 101.3 L105.6 101.2 L106.6 101.1 L107.6 100.9 L108.6 100.8 L109.6 100.7 L110.6 100.5 L111.6 100.4 L112.6 100.3 L113.6 100.1 L114.6 100.0 L115.6 99.9 L116.6 99.7 L117.6 99.6 L118.6 99.5 L119.6 99.3 L120.6 99.2 L121.6 99.1 L122.6 98.9 L123.6 98.8 L124.6 98.7 L125.6 98.6 L126.6 98.4 L127.6 98.3 L128.6 98.2 L129.6 98.0 L130.6 97.9 L131.6 97.8 L132.6 97.6 L133.6 97.5 L134.6 97.3 L135.6 97.2 L136.6 97.0 L137.6 96.9 L138.6 96.8 L139.6 96.6 L140.6 96.5 L141.6 96.3 L142.6 96.2 L143.6 96.0 L144.6 95.9 L145.6 95.7 L146.6 95.6 L147.6 95.4 L148.6 95.3 L149.6 95.1 L150.6 95.0 L151.6 94.9 L152.6 94.7 L153.6 94.6 L154.6 94.4 L155.6 94.3 L156.6 94.1 L157.6 94.0 L158.6 93.9 L159.6 93.7 L160.6 93.6 L161.6 93.5 L162.6 93.3 L163.6 93.2 L164.6 93.0 L165.6 92.9 L166.6 92.8 L167.6 92.6 L168.6 92.5 L169.6 92.4 L170.6 92.2 L171.6 92.1 L172.6 92.0 L173.6 91.8 L174.6 91.7 L175.6 91.6 L176.6 91.4 L177.6 91.3 L178.6 91.2 L179.6 91.0 L180.6 90.9 L181.6 90.8 L182.6 90.7 L183.6 90.5 L184.6 90.4 L185.6 90.3 L186.6 90.2 L187.6 90.0 L188.6 89.9 L189.6 89.8 L190.6 89.7 L191.6 89.6 L192.6 89.5 L193.6 89.4 L194.6 89.2 L195.6 89.1 L196.6 89.0 L197.6 88.9 L198.6 88.8 L199.6 88.7 L200.6 88.6 L201.6 88.5 L202.6 88.4 L203.6 88.3 L204.6 88.2 L205.6 88.0 L206.6 87.9 L207.6 87.8 L208.6 87.7 L209.6 87.6 L210.6 87.5 L211.6 87.4 L212.6 87.3 L213.6 87.2 L214.6 87.2 L215.6 87.1 L216.6 87.0 L217.6 86.9 L218.6 86.8 L219.6 86.7 L220.6 86.6 L221.6 86.5 L222.6 86.4 L223.6 86.4 L224.6 86.3 L225.6 86.2 L226.6 86.1 L227.6 86.0 L228.6 85.9 L229.6 85.8 L230.6 85.8 L231.6 85.7 L232.6 85.6 L233.6 85.5 L234.6 85.4 L235.6 85.4 L236.6 85.3 L237.6 85.2 L238.6 85.1 L239.6 85.1 L240.6 85.0 L241.6 84.9 L242.6 84.9 L243.6 84.8 L244.6 84.7 L245.6 84.7 L246.6 84.6 L247.6 84.6 L248.6 84.5 L249.6 84.5 L250.6 84.5 L251.6 84.4 L252.6 84.4 L253.6 84.4 L254.6 84.3 L255.6 84.3 L256.6 84.3 L257.6 84.2 L258.6 84.2 L259.6 84.2 L260.6 84.2 L261.6 84.1 L262.6 84.1 L263.6 84.1 L264.6 84.1 L265.6 84.0 L266.6 84.0 L267.6 84.0 L268.6 84.0 L269.6 84.0 L270.6 84.0 L271.6 84.0 L272.6 84.0 L273.6 84.0 L274.6 84.1 L275.6 84.1 L276.6 84.2 L277.6 84.2 L278.6 84.3 L279.6 84.3 L280.6 84.4 L281.6 84.5 L282.6 84.6 L283.6 84.7 L284.6 84.8 L285.6 84.9 L286.6 85.0 L287.6 85.1 L288.6 85.2 L289.6 85.3 L290.6 85.4 L291.6 85.5 L292.6 85.6 L293.6 85.8 L294.6 85.9 L295.6 86.1 L296.6 86.3 L297.6 86.5 L298.6 86.7 L299.6 86.9 L300.6 87.1 L301.6 87.3 L302.6 87.5 L303.6 87.7 L304.5 87.9 L305.5 88.1 L306.5 88.4 L307.5 88.6 L308.5 88.9 L309.4 89.2 L310.4 89.4 L311.4 89.7 L312.3 90.0 L313.3 90.3 L314.3 90.6 L315.2 91.0 L316.2 91.3 L317.1 91.7 L318.1 92.0 L319.0 92.4 L319.9 92.8 L320.9 93.2 L321.8 93.6 L322.7 94.0 L323.6 94.4 L324.5 94.9 L325.4 95.3 L326.3 95.8 L327.2 96.3 L328.1 96.8 L329.0 97.3 L329.9 97.8 L330.7 98.3 L331.6 98.9 L332.4 99.4 L333.3 100.0 L334.1 100.5 L334.9 101.1 L335.8 101.7 L336.6 102.4 L337.4 103.0 L338.1 103.7 L338.9 104.3 L339.7 105.0 L340.4 105.7 L341.1 106.4 L341.8 107.1 L342.5 107.8 L343.2 108.6 L343.9 109.3 L344.5 110.1 L345.2 110.9 L345.8 111.7 L346.3 112.5 L346.9 113.4 L347.5 114.3 L348.0 115.1 L348.5 116.0 L349.1 116.9 L349.6 117.8 L350.0 118.7 L350.5 119.6 L351.0 120.5 L351.4 121.5 L351.8 122.4 L352.2 123.3 L352.6 124.3 L353.0 125.2 L353.4 126.2 L353.8 127.1 L354.2 128.1 L354.5 129.1 L354.9 130.0 L355.3 131.0 L355.6 132.0 L355.9 132.9 L356.3 133.9 L356.6 134.9 L356.9 135.8 L357.2 136.8 L357.6 137.8 L357.9 138.8 L358.2 139.8 L358.5 140.8 L358.8 141.8 L359.1 142.8 L359.4 143.7 L359.7 144.7 L360.0 145.7 L360.3 146.7 L360.6 147.8 L360.9 148.7 L361.2 149.7 L361.5 150.7 L361.7 151.7 L362.0 152.7 L362.3 153.8 L362.6 154.8 L362.8 155.8 L363.1 156.8 L363.4 157.8 L363.6 158.8 L363.9 159.8 L364.1 160.8 L364.4 161.9 L364.7 162.9 L364.9 163.9 L365.1 164.9 L365.4 165.9 L365.6 166.9 L365.9 168.0 L366.1 169.0 L366.3 170.1 L366.6 171.0 L366.8 172.0 L367.0 173.1 L367.2 174.1 L367.4 175.2 L367.7 176.2 L367.9 177.2 L368.1 178.2 L368.3 179.2 L368.5 180.3 L368.7 181.3 L368.9 182.3 L369.1 183.4 L369.3 184.5 L369.5 185.5 L369.7 186.6 L369.9 187.7 L370.1 188.8 L370.2 189.8 L370.4 190.8 L370.6 191.8 L370.8 192.9 L371.0 193.9 L371.1 195.0 L371.3 196.0 L371.5 197.1 L371.7 198.1 L371.9 199.2 L372.0 200.2 L372.2 201.3 L372.4 202.3 L372.6 203.3 L372.8 204.3 L372.9 205.3 L373.1 206.3 L373.3 207.3 L373.5 208.2 L373.7 209.2 L373.9 210.3 L374.1 211.4 L374.3 212.5 L374.5 213.6 L374.7 214.7 L374.9 215.7 L375.1 216.8 L375.3 217.9 L375.5 219.0 L375.7 220.1 L375.9 221.1 L376.1 222.2 L376.3 223.3 L376.5 224.4 L376.7 225.5 L376.9 226.5 L377.1 227.6 L377.3 228.7 L377.5 229.8 L377.7 230.8 L377.9 231.9 L378.1 233.0 L378.3 234.0 L378.5 235.1 L378.7 236.2 L378.9 237.2 L379.1 238.3 L379.3 239.4 L379.5 240.4 L379.7 241.5 L379.9 242.5 L380.1 243.6 L380.3 244.7 L380.5 245.7 L380.7 246.7 L380.9 247.8 L381.1 248.8 L381.3 249.9 L381.5 250.9 L381.7 251.9 L381.9 253.0 L382.1 254.0 L382.3 255.0 L382.5 256.1 L382.7 257.1 L382.9 258.1 L383.1 259.2 L383.3 260.2 L383.5 261.2 L383.7 262.3 L383.9 263.3 L384.1 264.4 L384.3 265.5 L384.5 266.5 L384.7 267.6 L384.9 268.7 L385.1 269.8 L385.2 270.8 L385.4 271.8 L385.6 272.7 L385.8 273.7 L386.0 274.7 L386.1 275.7 L386.3 276.7 L386.5 277.7 L386.7 278.7 L386.9 279.7 L387.0 280.8 L387.2 281.8 L387.4 282.8 L387.6 283.9 L387.8 284.9 L387.9 286.0 L388.1 287.0 L388.3 288.1 L388.5 289.2 L388.7 290.3 L388.8 291.4 L389.0 292.4 L389.2 293.4 L389.3 294.4 L389.5 295.4 L389.6 296.4 L389.8 297.5 L390.0 298.5 L390.1 299.6 L390.3 300.6 L390.4 301.7 L390.6 302.7 L390.8 303.8 L390.9 304.9 L391.1 306.0 L391.2 307.1 L391.4 308.2 L391.6 309.2 L391.7 310.3 L391.9 311.4 L392.0 312.6 L392.2 313.7 L392.4 314.8 L392.5 315.8 L392.6 316.8 L392.8 317.8 L392.9 318.8 L393.1 319.8 L393.2 320.9 L393.3 321.9 L393.5 322.9 L393.6 323.9 L393.8 325.0 L393.9 326.0 L394.0 327.0 L394.2 328.0 L394.3 329.0 L394.5 330.0 L394.6 331.0 L394.8 332.1 L394.9 333.3 L395.1 334.4 L395.2 335.5 L395.4 336.6 L395.6 337.7 L395.7 338.8 L395.9 340.0 L396.0 341.1 L396.2 342.2 L396.4 343.3 L396.5 344.4 L396.7 345.5 L396.8 346.6 L397.0 347.7 L397.2 348.8 L397.3 349.9 L397.5 350.9 L397.6 352.0 L397.8 353.1 L398.0 354.2 L398.1 355.3 L398.3 356.4 L398.4 357.4 L398.6 358.5 L398.8 359.6 L398.9 360.6 L399.1 361.7 L399.2 362.7 L399.4 363.8 L399.6 364.9 L399.7 365.9 L399.9 367.0 L400.0 368.1 L400.2 369.2 L400.4 370.3 L400.5 371.4 L400.7 372.5 L400.8 373.5 L401.0 374.5 L401.1 375.5 L401.2 376.5 L401.4 377.6 L401.5 378.6 L401.7 379.6 L401.8 380.6 L401.9 381.7 L402.1 382.7 L402.2 383.8 L402.4 384.8 L402.5 385.9 L402.6 387.0 L402.8 388.1 L402.9 389.2 L403.1 390.3 L403.2 391.5 L403.3 392.5 L403.4 393.5 L403.6 394.6 L403.7 395.7 L403.8 396.7 L403.9 397.8 L404.0 398.9 L404.2 400.0 L404.3 401.1 L404.4 402.2 L404.5 403.3 L404.6 404.4 L404.8 405.5 L404.9 406.6 L405.0 407.6 L405.1 408.7 L405.2 409.7 L405.4 410.7 L405.5 411.9 L405.6 413.0 L405.8 414.1 L405.9 415.2 L406.1 416.3 L406.2 417.4 L406.3 418.5 L406.5 419.6 L406.6 420.6 L406.8 421.7 L406.9 422.7 L407.0 423.8 L407.2 424.8 L407.3 425.8 L407.5 426.9 L407.6 427.9 L407.7 428.9 L407.9 429.9 L408.0 431.0 L408.2 432.1 L408.4 433.2 L408.5 434.3 L408.7 435.4 L408.8 436.5 L409.0 437.5 L409.2 438.6 L409.3 439.6 L409.5 440.7 L409.6 441.7 L409.8 442.8 L410.0 443.8 L410.1 444.8 L410.3 445.8 L410.4 446.8 L410.6 447.8 L410.8 448.9 L411.0 450.0 L411.1 451.1 L411.3 452.1 L411.5 453.2 L411.7 454.2 L411.9 455.3 L412.0 456.3 L412.2 457.3 L412.4 458.3 L412.6 459.3 L412.8 460.4 L413.0 461.5 L413.2 462.5 L413.4 463.6 L413.6 464.6 L413.8 465.6 L414.0 466.6 L414.2 467.6 L414.4 468.6 L414.6 469.6 L414.8 470.7 L415.1 471.7 L415.3 472.8 L415.5 473.8 L415.7 474.9 L415.9 475.9 L416.2 477.0 L416.4 478.0 L416.6 479.1 L416.8 480.1 L417.0 481.0 L417.3 482.1 L417.5 483.1 L417.8 484.0 L418.1 485.0 L418.4 486.0 L418.7 487.0 L419.0 488.0 L419.4 488.9 L419.7 489.9 L420.1 490.9 L420.5 491.8 L420.9 492.8 L421.4 493.7 L421.9 494.6 L422.5 495.4 L423.2 496.2 L423.9 496.9 L424.6 497.6 L425.4 498.2 L426.3 498.7 L427.2 499.0 L428.2 499.2 L429.2 499.4 L430.2 499.5 L431.2 499.6 L432.2 499.7 L433.2 499.8 L434.2 499.8 L435.2 499.9 L436.2 500.0 L437.2 500.1 L438.2 500.2 L439.2 500.4 L440.2 500.5 L441.2 500.6 L442.2 500.7 L443.2 500.8 L444.2 500.9 L445.2 501.0 L446.2 501.2 L447.2 501.3 L448.2 501.4 L449.2 501.5 L450.2 501.6 L451.2 501.7 L452.2 501.8 L453.2 501.9 L454.2 502.0 L455.2 502.1 L456.2 502.3 L457.2 502.4 L458.2 502.5 L459.2 502.6 L460.2 502.7 L461.2 502.8 L462.2 502.9 L463.2 503.0 L464.2 503.0 L465.2 503.1 L466.2 503.2 L467.2 503.3 L468.2 503.4 L469.2 503.5 L470.2 503.6 L471.2 503.6 L472.2 503.7 L473.2 503.8 L474.2 503.9 L475.2 504.0 L476.2 504.0 L477.2 504.1 L478.2 504.2 L479.2 504.3 L480.2 504.4 L481.2 504.4 L482.2 504.5 L483.2 504.6 L484.2 504.7 L485.2 504.8 L486.2 504.8 L487.2 504.9 L488.2 505.0 L489.2 505.1 L490.2 505.2 L491.2 505.2 L492.2 505.3 L493.2 505.4 L494.2 505.5 L495.2 505.5 L496.2 505.6 L497.2 505.7 L498.2 505.8 L499.2 505.8 L500.2 505.9 L501.2 506.0 L502.2 506.0 L503.2 506.1 L504.2 506.2 L505.2 506.2 L506.2 506.3 L507.2 506.4 L508.2 506.4 L509.2 506.5 L510.2 506.6 L511.2 506.6 L512.2 506.7 L513.2 506.8 L514.2 506.8 L515.2 506.9 L516.2 507.0 L517.2 507.0 L518.2 507.1 L519.2 507.2 L520.2 507.2 L521.2 507.3 L522.2 507.4 L523.2 507.4 L524.2 507.5 L525.2 507.5 L526.2 507.6 L527.2 507.7 L528.2 507.7 L529.2 507.8 L530.2 507.9 L531.2 507.9 L532.2 508.0 L533.2 508.1 L534.2 508.1 L535.2 508.2 L536.2 508.3 L537.2 508.3 L538.2 508.4 L539.2 508.5 L540.2 508.6 L541.2 508.6 L542.2 508.7 L543.2 508.8 L544.2 508.8 L545.2 508.9 L546.2 509.0 L547.2 509.1 L548.2 509.1 L549.2 509.2 L550.2 509.3 L551.2 509.4 L552.2 509.5 L553.2 509.5 L554.2 509.6 L555.2 509.7 L556.2 509.8 L557.2 509.8 L558.2 509.9 L559.2 510.0 L560.2 510.1 L561.2 510.2 L562.2 510.2 L563.2 510.3 L564.2 510.4 L565.2 510.5 L566.2 510.6 L567.2 510.7 L568.2 510.7 L569.2 510.8 L570.2 510.9 L571.2 511.0 L572.2 511.1 L573.2 511.2 L574.2 511.3 L575.2 511.3 L576.2 511.4 L577.2 511.5 L578.2 511.6 L579.2 511.7 L580.2 511.8 L581.2 511.9 L582.2 512.0 L583.2 512.1 L584.2 512.2 L585.2 512.3 L586.2 512.4 L587.2 512.5 L588.2 512.6 L589.2 512.7 L590.2 512.8 L591.2 512.9 L592.2 513.0 L593.2 513.1 L594.2 513.2 L595.2 513.3 L596.2 513.4 L597.2 513.5 L598.2 513.6 L599.2 513.7 L600.2 513.8 L601.2 513.9 L602.2 514.0 L603.2 514.2 L604.2 514.3 L605.2 514.4 L606.2 514.5 L607.2 514.6 L608.2 514.7 L609.2 514.8 L610.2 515.0 L611.2 515.1 L612.2 515.2 L613.2 515.3 L614.2 515.5 L615.2 515.6 L616.2 515.7 L617.2 515.9 L618.2 516.0 L619.2 516.1 L620.2 516.3 L621.2 516.4 L622.2 516.5 L623.2 516.7 L624.2 516.8 L625.2 516.9 L626.2 517.0 L627.2 517.2 L628.2 517.3 L629.2 517.4 L630.2 517.5 L631.2 517.6 L632.2 517.7 L633.2 517.8 L634.2 517.9 L635.2 518.0 L636.2 518.1 L637.2 518.2 L638.2 518.3 L639.2 518.4 L640.2 518.5 L641.2 518.6 L642.2 518.7 L643.2 518.8 L644.2 518.9 L645.2 519.0 L646.2 519.1 L647.2 519.2 L648.2 519.3 L649.2 519.4 L650.2 519.5 L651.2 519.6 L652.2 519.7 L653.2 519.8 L654.2 519.9 L655.2 520.0 L656.2 520.1 L657.2 520.2 L658.2 520.3 L659.2 520.4 L660.2 520.4 L661.2 520.5 L662.2 520.6 L663.2 520.7 L664.2 520.8 L665.2 520.9 L666.2 521.0 L667.2 521.1 L668.2 521.2 L669.2 521.2 L670.2 521.3 L671.2 521.4 L672.2 521.5 L673.2 521.6 L674.2 521.7 L675.2 521.8 L676.2 521.9 L677.2 522.0 L678.2 522.1 L679.2 522.2 L680.2 522.3 L681.2 522.4 L682.2 522.5 L683.2 522.6 L684.2 522.7 L685.2 522.8 L686.2 522.9 L687.2 523.0 L688.2 523.1 L689.2 523.2 L690.2 523.3 L691.2 523.4 L692.2 523.5 L693.2 523.6 L694.2 523.7 L695.2 523.8 L696.2 523.9 L697.2 524.0 L698.2 524.1 L699.2 524.2 L700.2 524.3 L701.2 524.4 L702.2 524.5 L703.2 524.6 L704.2 524.7 L705.2 524.8 L706.2 524.9 L707.2 525.0 L708.2 525.1 L709.2 525.2 L710.2 525.3 L711.2 525.3 L712.2 525.4 L713.2 525.5 L714.2 525.6 L715.2 525.7 L716.2 525.8 L717.2 525.9 L718.2 526.0 L719.2 526.1 L720.2 526.2 L721.2 526.3 L722.2 526.4 L723.2 526.5 L724.2 526.6 L725.2 526.7 L726.2 526.8 L727.2 526.8 L728.2 526.9 L729.2 527.0 L730.2 527.1 L731.2 527.1 L732.2 527.2 L733.2 527.2 L734.2 527.3 L735.2 527.3 L736.2 527.3 L737.2 527.4 L738.2 527.4 L739.2 527.4 L740.2 527.2 L741.2 527.0 L742.2 526.7 L742.8 526.5" stroke="#20c2c4" stroke-width="3.0" fill="none" stroke-linecap="round" stroke-linejoin="round"/>
<path d="M93.5 108.1 L94.5 108.1 L95.5 108.1 L96.5 108.2 L97.5 108.2 L98.5 108.3 L99.5 108.3 L100.5 108.4 L101.5 108.5 L102.5 108.6 L103.5 108.7 L104.5 108.8 L105.5 108.9 L106.5 109.0 L107.5 109.1 L108.5 109.2 L109.5 109.4 L110.5 109.6 L111.5 109.7 L112.5 110.0 L113.5 110.2 L114.4 110.4 L115.4 110.7 L116.4 111.0 L117.4 111.2 L118.4 111.5 L119.3 111.8 L120.3 112.1 L121.3 112.4 L122.2 112.6 L123.2 113.0 L124.2 113.3 L125.1 113.6 L126.1 113.9 L127.0 114.3 L128.0 114.6 L129.0 115.0 L129.9 115.3 L130.9 115.7 L131.8 116.0 L132.8 116.4 L133.8 116.7 L134.7 117.0 L135.7 117.3 L136.6 117.6 L137.6 117.9 L138.6 118.2 L139.5 118.5 L140.5 118.8 L141.4 119.1 L142.4 119.4 L143.4 119.6 L144.3 119.9 L145.3 120.2 L146.3 120.5 L147.3 120.7 L148.3 121.0 L149.2 121.2 L150.2 121.4 L151.2 121.7 L152.2 121.9 L153.2 122.1 L154.2 122.3 L155.2 122.5 L156.2 122.6 L157.2 122.8 L158.2 123.0 L159.2 123.2 L160.2 123.3 L161.2 123.5 L162.2 123.6 L163.2 123.8 L164.2 123.9 L165.2 124.0 L166.2 124.2 L167.2 124.3 L168.2 124.4 L169.2 124.5 L170.2 124.6 L171.2 124.7 L172.2 124.8 L173.2 124.9 L174.2 125.0 L175.2 125.0 L176.2 125.1 L177.2 125.2 L178.2 125.3 L179.2 125.4 L180.2 125.5 L181.2 125.5 L182.2 125.6 L183.2 125.7 L184.2 125.8 L185.2 125.9 L186.2 126.0 L187.2 126.1 L188.2 126.2 L189.2 126.3 L190.2 126.4 L191.2 126.5 L192.2 126.6 L193.2 126.7 L194.2 126.8 L195.2 126.9 L196.2 127.0 L197.2 127.1 L198.2 127.3 L199.2 127.4 L200.2 127.5 L201.2 127.7 L202.2 127.8 L203.2 128.0 L204.2 128.1 L205.2 128.3 L206.2 128.4 L207.2 128.6 L208.2 128.8 L209.2 128.9 L210.2 129.1 L211.2 129.3 L212.2 129.4 L213.2 129.6 L214.2 129.8 L215.2 129.9 L216.2 130.1 L217.2 130.3 L218.2 130.5 L219.2 130.7 L220.2 130.9 L221.2 131.0 L222.2 131.2 L223.2 131.4 L224.2 131.6 L225.2 131.8 L226.2 132.0 L227.2 132.2 L228.2 132.4 L229.2 132.6 L230.2 132.8 L231.2 133.0 L232.2 133.2 L233.2 133.4 L234.2 133.6 L235.1 133.8 L236.1 134.0 L237.1 134.2 L238.1 134.4 L239.1 134.7 L240.0 134.9 L241.0 135.1 L242.0 135.4 L243.0 135.6 L244.0 135.9 L244.9 136.1 L245.9 136.4 L246.9 136.7 L247.9 136.9 L248.9 137.2 L249.8 137.5 L250.8 137.8 L251.8 138.1 L252.7 138.4 L253.7 138.7 L254.6 139.0 L255.6 139.3 L256.6 139.6 L257.5 139.9 L258.5 140.2 L259.4 140.6 L260.4 140.9 L261.4 141.3 L262.3 141.6 L263.2 142.0 L264.2 142.3 L265.1 142.7 L266.1 143.0 L267.0 143.4 L267.9 143.8 L268.9 144.2 L269.8 144.6 L270.7 145.0 L271.6 145.5 L272.5 145.9 L273.4 146.4 L274.3 146.9 L275.2 147.3 L276.1 147.8 L277.0 148.4 L277.8 148.9 L278.7 149.4 L279.5 150.0 L280.4 150.6 L281.2 151.1 L282.0 151.7 L282.8 152.3 L283.6 153.0 L284.4 153.6 L285.2 154.2 L286.0 154.9 L286.8 155.5 L287.5 156.2 L288.3 156.8 L289.0 157.5 L289.8 158.2 L290.5 158.9 L291.3 159.6 L292.0 160.3 L292.7 161.0 L293.4 161.7 L294.1 162.4 L294.8 163.2 L295.5 163.9 L296.2 164.7 L296.9 165.4 L297.6 166.1 L298.3 166.9 L299.0 167.7 L299.6 168.4 L300.3 169.2 L301.0 170.0 L301.6 170.7 L302.3 171.5 L302.9 172.3 L303.6 173.1 L304.2 173.9 L304.8 174.7 L305.5 175.5 L306.1 176.3 L306.8 177.1 L307.4 177.9 L308.0 178.7 L308.7 179.5 L309.3 180.3 L310.0 181.1 L310.6 181.9 L311.2 182.7 L311.8 183.5 L312.4 184.3 L313.1 185.1 L313.7 185.8 L314.3 186.6 L314.9 187.4 L315.5 188.2 L316.2 189.0 L316.8 189.8 L317.4 190.6 L318.1 191.4 L318.7 192.2 L319.4 193.0 L320.0 193.8 L320.6 194.6 L321.3 195.4 L321.9 196.2 L322.6 197.0 L323.2 197.8 L323.8 198.6 L324.5 199.4 L325.1 200.2 L325.8 201.0 L326.4 201.8 L327.0 202.6 L327.7 203.4 L328.3 204.2 L329.0 205.0 L329.6 205.8 L330.2 206.7 L330.9 207.4 L331.5 208.2 L332.2 209.0 L332.8 209.8 L333.4 210.6 L334.1 211.4 L334.7 212.2 L335.3 213.0 L335.9 213.8 L336.5 214.6 L337.1 215.5 L337.7 216.3 L338.3 217.1 L338.9 217.9 L339.4 218.8 L340.0 219.6 L340.5 220.5 L341.1 221.4 L341.6 222.3 L342.1 223.2 L342.6 224.1 L343.1 225.0 L343.6 225.9 L344.0 226.8 L344.5 227.7 L344.9 228.6 L345.4 229.5 L345.8 230.5 L346.2 231.4 L346.7 232.3 L347.1 233.3 L347.5 234.2 L347.9 235.1 L348.3 236.1 L348.7 237.0 L349.1 238.0 L349.5 238.9 L349.9 239.9 L350.3 240.8 L350.7 241.8 L351.1 242.7 L351.5 243.7 L351.8 244.6 L352.2 245.5 L352.6 246.5 L353.0 247.4 L353.4 248.4 L353.7 249.3 L354.1 250.3 L354.5 251.3 L354.9 252.2 L355.3 253.2 L355.6 254.2 L356.0 255.2 L356.4 256.1 L356.7 257.0 L357.1 258.0 L357.5 259.0 L357.8 259.9 L358.2 260.9 L358.5 261.9 L358.9 262.8 L359.2 263.8 L359.5 264.7 L359.9 265.7 L360.2 266.7 L360.6 267.7 L360.9 268.7 L361.2 269.6 L361.5 270.6 L361.8 271.6 L362.2 272.6 L362.5 273.6 L362.8 274.5 L363.1 275.5 L363.4 276.5 L363.7 277.5 L364.0 278.5 L364.3 279.5 L364.6 280.5 L364.9 281.5 L365.2 282.5 L365.5 283.5 L365.8 284.5 L366.1 285.6 L366.4 286.6 L366.7 287.6 L366.9 288.6 L367.2 289.5 L367.5 290.5 L367.8 291.5 L368.1 292.4 L368.3 293.4 L368.6 294.4 L368.9 295.4 L369.2 296.4 L369.5 297.4 L369.8 298.4 L370.1 299.4 L370.4 300.4 L370.7 301.3 L371.0 302.3 L371.3 303.3 L371.7 304.3 L372.0 305.3 L372.3 306.3 L372.6 307.3 L372.9 308.3 L373.3 309.2 L373.6 310.2 L373.9 311.2 L374.2 312.2 L374.6 313.2 L374.9 314.2 L375.3 315.1 L375.6 316.1 L375.9 317.0 L376.3 318.0 L376.7 319.0 L377.0 320.0 L377.4 321.0 L377.7 321.9 L378.1 322.9 L378.5 323.8 L378.8 324.8 L379.2 325.7 L379.6 326.7 L380.0 327.6 L380.4 328.6 L380.8 329.5 L381.2 330.5 L381.6 331.4 L382.0 332.3 L382.4 333.3 L382.8 334.2 L383.2 335.2 L383.7 336.1 L384.1 337.0 L384.5 337.9 L385.0 338.9 L385.5 339.8 L385.9 340.7 L386.4 341.6 L386.9 342.5 L387.4 343.4 L387.9 344.2 L388.4 345.1 L389.0 346.0 L389.5 346.9 L390.1 347.7 L390.6 348.6 L391.2 349.4 L391.9 350.2 L392.5 351.0 L393.2 351.7 L393.8 352.5 L394.5 353.2 L395.3 354.0 L396.0 354.7 L396.8 355.3 L397.5 356.0 L398.3 356.6 L399.2 357.2 L400.0 357.8 L400.9 358.3 L401.7 358.8 L402.6 359.3 L403.5 359.8 L404.4 360.3 L405.3 360.7 L406.2 361.1 L407.2 361.5 L408.1 361.9 L409.1 362.2 L410.0 362.5 L411.0 362.9 L411.9 363.2 L412.9 363.5 L413.9 363.8 L414.8 364.0 L415.8 364.3 L416.8 364.6 L417.8 364.8 L418.8 365.1 L419.7 365.3 L420.7 365.5 L421.7 365.8 L422.7 366.0 L423.7 366.2 L424.6 366.4 L425.6 366.6 L426.6 366.9 L427.6 367.1 L428.6 367.3 L429.5 367.5 L430.5 367.7 L431.5 367.9 L432.5 368.1 L433.5 368.2 L434.5 368.4 L435.5 368.6 L436.5 368.8 L437.5 368.9 L438.5 369.1 L439.5 369.3 L440.5 369.4 L441.5 369.6 L442.5 369.7 L443.5 369.9 L444.5 370.0 L445.5 370.1 L446.5 370.3 L447.5 370.4 L448.5 370.6 L449.5 370.7 L450.5 370.8 L451.5 371.0 L452.5 371.1 L453.5 371.2 L454.5 371.4 L455.5 371.5 L456.5 371.6 L457.5 371.7 L458.5 371.9 L459.5 372.0 L460.5 372.1 L461.5 372.2 L462.5 372.3 L463.5 372.4 L464.5 372.5 L465.5 372.7 L466.5 372.8 L467.5 372.9 L468.5 373.0 L469.5 373.1 L470.5 373.2 L471.5 373.3 L472.5 373.4 L473.5 373.5 L474.5 373.5 L475.5 373.6 L476.5 373.7 L477.5 373.8 L478.5 373.9 L479.5 374.0 L480.5 374.0 L481.5 374.1 L482.5 374.2 L483.5 374.3 L484.5 374.3 L485.5 374.4 L486.5 374.5 L487.5 374.5 L488.5 374.6 L489.5 374.7 L490.5 374.8 L491.5 374.8 L492.5 374.9 L493.5 375.0 L494.5 375.0 L495.5 375.1 L496.5 375.1 L497.5 375.2 L498.5 375.3 L499.5 375.3 L500.5 375.4 L501.5 375.5 L502.5 375.5 L503.5 375.6 L504.5 375.6 L505.5 375.7 L506.5 375.8 L507.5 375.8 L508.5 375.9 L509.5 375.9 L510.5 376.0 L511.5 376.0 L512.5 376.1 L513.5 376.1 L514.5 376.2 L515.5 376.2 L516.5 376.3 L517.5 376.3 L518.5 376.4 L519.5 376.4 L520.5 376.5 L521.5 376.5 L522.5 376.6 L523.5 376.6 L524.5 376.7 L525.5 376.7 L526.5 376.8 L527.5 376.8 L528.5 376.8 L529.5 376.9 L530.5 376.9 L531.5 377.0 L532.5 377.0 L533.5 377.1 L534.5 377.1 L535.5 377.1 L536.5 377.2 L537.5 377.2 L538.5 377.2 L539.5 377.3 L540.5 377.3 L541.5 377.4 L542.5 377.4 L543.5 377.4 L544.5 377.5 L545.5 377.5 L546.5 377.5 L547.5 377.6 L548.5 377.6 L549.5 377.6 L550.5 377.7 L551.5 377.7 L552.5 377.7 L553.5 377.8 L554.5 377.8 L555.5 377.8 L556.5 377.8 L557.5 377.9 L558.5 377.9 L559.5 377.9 L560.5 378.0 L561.5 378.0 L562.5 378.0 L563.5 378.0 L564.5 378.1 L565.5 378.1 L566.5 378.1 L567.5 378.1 L568.5 378.2 L569.5 378.2 L570.5 378.2 L571.5 378.2 L572.5 378.3 L573.5 378.3 L574.5 378.3 L575.5 378.3 L576.5 378.4 L577.5 378.4 L578.5 378.4 L579.5 378.4 L580.5 378.4 L581.5 378.5 L582.5 378.5 L583.5 378.5 L584.5 378.5 L585.5 378.5 L586.5 378.6 L587.5 378.6 L588.5 378.6 L589.5 378.6 L590.5 378.6 L591.5 378.7 L592.5 378.7 L593.5 378.7 L594.5 378.7 L595.5 378.7 L596.5 378.7 L597.5 378.7 L598.5 378.8 L599.5 378.8 L600.5 378.8 L601.5 378.8 L602.5 378.8 L603.5 378.8 L604.5 378.9 L605.5 378.9 L606.5 378.9 L607.5 378.9 L608.5 378.9 L609.5 378.9 L610.5 378.9 L611.5 379.0 L612.5 379.0 L613.5 379.0 L614.5 379.0 L615.5 379.0 L616.5 379.0 L617.5 379.1 L618.5 379.1 L619.5 379.1 L620.5 379.1 L621.5 379.1 L622.5 379.2 L623.5 379.2 L624.5 379.2 L625.5 379.2 L626.5 379.3 L627.5 379.3 L628.5 379.3 L629.5 379.3 L630.5 379.4 L631.5 379.4 L632.5 379.4 L633.5 379.4 L634.5 379.5 L635.5 379.5 L636.5 379.5 L637.5 379.5 L638.5 379.6 L639.5 379.6 L640.5 379.6 L641.5 379.6 L642.5 379.7 L643.5 379.7 L644.5 379.7 L645.5 379.7 L646.5 379.8 L647.5 379.8 L648.5 379.8 L649.5 379.9 L650.5 379.9 L651.5 379.9 L652.5 380.0 L653.5 380.0 L654.5 380.0 L655.5 380.1 L656.5 380.1 L657.5 380.1 L658.5 380.2 L659.5 380.2 L660.5 380.2 L661.5 380.3 L662.5 380.3 L663.5 380.3 L664.5 380.4 L665.5 380.4 L666.5 380.4 L667.5 380.5 L668.5 380.5 L669.5 380.6 L670.5 380.6 L671.5 380.6 L672.5 380.7 L673.5 380.7 L674.5 380.8 L675.5 380.8 L676.5 380.8 L677.5 380.9 L678.5 380.9 L679.5 381.0 L680.5 381.0 L681.5 381.1 L682.5 381.2 L683.5 381.2 L684.5 381.3 L685.5 381.3 L686.5 381.4 L687.5 381.5 L688.5 381.5 L689.5 381.6 L690.5 381.6 L691.5 381.7 L692.5 381.8 L693.5 381.8 L694.5 381.9 L695.5 382.0 L696.5 382.0 L697.5 382.1 L698.5 382.2 L699.5 382.2 L700.5 382.3 L701.5 382.4 L702.5 382.4 L703.5 382.5 L704.5 382.6 L705.5 382.6 L706.5 382.7 L707.5 382.8 L708.5 382.9 L709.5 382.9 L710.5 383.0 L711.5 383.1 L712.5 383.1 L713.5 383.2 L714.5 383.3 L715.5 383.4 L716.5 383.4 L717.5 383.5 L718.5 383.6 L719.5 383.7 L720.5 383.7 L721.5 383.8 L722.5 383.9 L723.5 384.0 L724.5 384.0 L725.5 384.1 L726.5 384.2 L727.5 384.3 L728.5 384.3 L729.5 384.4 L730.5 384.5 L731.5 384.6 L732.5 384.6 L733.5 384.7 L734.5 384.8 L735.5 384.9 L736.5 384.9 L737.5 385.0 L738.5 385.1 L739.5 385.2 L740.5 385.3 L741.5 385.3 L742.5 385.4 L743.5 385.5 L744.5 385.6 L745.5 385.6 L746.4 385.7" stroke="#2236d6" stroke-width="3.0" fill="none" stroke-linecap="round" stroke-linejoin="round"/>
<line x1="103.5" y1="389.5" x2="155.5" y2="389.5" stroke="#e0138a" stroke-width="3" stroke-linecap="round"/>
<text x="162" y="397.5" font-family="Liberation Serif" font-weight="bold" font-size="24">LVC</text>
<line x1="103.5" y1="418.9" x2="155.5" y2="418.9" stroke="#ea8838" stroke-width="3" stroke-linecap="round"/>
<text x="162" y="426.9" font-family="Liberation Serif" font-weight="bold" font-size="24">CA</text>
<line x1="103.5" y1="448.4" x2="155.5" y2="448.4" stroke="#16cc1c" stroke-width="3" stroke-linecap="round"/>
<text x="162" y="456.4" font-family="Liberation Serif" font-weight="bold" font-size="24">PEG1000</text>
<line x1="103.5" y1="477.9" x2="155.5" y2="477.9" stroke="#20c2c4" stroke-width="3" stroke-linecap="round"/>
<text x="162" y="485.9" font-family="Liberation Serif" font-weight="bold" font-size="24">CA-PEG1000</text>
<line x1="103.5" y1="507.3" x2="155.5" y2="507.3" stroke="#2236d6" stroke-width="3" stroke-linecap="round"/>
<text x="162" y="515.3" font-family="Liberation Serif" font-weight="bold" font-size="24">CA-PEG1000-LVC</text>
<path d="M537.8 42 H747.1 V204.6 H540.4 V207.5 M540.4 42 V204.6 M631.9 204.6 V207.4 M724.2 204.6 V207.4 M538.3 134.8 H540.4" stroke="#111" stroke-width="2" fill="none"/>
<path d="M550.6 42.2 L551.6 42.3 L552.6 42.6 L553.5 43.0 L554.4 43.5 L555.2 44.1 L556.0 44.7 L556.8 45.3 L557.5 46.1 L558.1 46.9 L558.6 47.8 L559.0 48.7 L559.5 49.6 L559.9 50.6 L560.4 51.5 L560.9 52.4 L561.4 53.2 L561.9 54.1 L562.3 55.1 L562.8 56.0 L563.4 56.8 L564.3 57.1 L565.1 56.4 L565.6 55.5 L566.0 54.6 L566.5 53.7 L567.0 52.8 L567.6 51.9 L568.1 51.1 L568.6 50.2 L569.1 49.3 L569.8 48.6 L570.8 48.4 L571.8 48.5 L572.8 48.6 L573.8 48.7 L574.8 48.8 L575.8 48.9 L576.8 49.1 L577.8 49.2 L578.8 49.3 L579.8 49.4 L580.8 49.4 L581.8 49.1 L582.7 48.6 L583.5 48.0 L584.3 47.3 L584.9 46.5 L585.4 45.6 L585.9 44.7 L586.7 44.1 L587.6 43.6 L588.5 43.2 L589.5 43.0 L590.5 43.0 L591.5 43.0 L592.5 43.1 L593.5 43.2 L594.5 43.3 L595.5 43.4 L596.5 43.6 L597.5 43.8 L598.4 44.0 L599.4 44.3 L600.4 44.7 L601.3 45.0 L602.3 45.3 L603.2 45.7 L604.2 46.0 L605.1 46.3 L606.1 46.2 L607.1 45.9 L608.0 45.5 L608.9 45.1 L609.8 44.5 L610.6 43.9 L611.4 43.4 L612.4 43.1 L613.4 43.0 L614.4 42.9 L615.4 42.8 L616.4 42.7 L617.4 42.7 L618.4 42.6 L619.4 42.6 L620.0 42.6" stroke="#e0138a" stroke-width="2.2" fill="none" stroke-linecap="round" stroke-linejoin="round"/>
<path d="M600.0 42.6 L601.0 42.6 L602.0 42.8 L603.0 42.9 L604.0 43.2 L604.9 43.5 L605.9 43.9 L606.8 44.3 L607.7 44.7 L608.6 45.2 L609.4 45.7 L610.2 46.4 L610.8 47.2 L611.3 48.1 L611.7 49.1 L612.1 50.0 L612.5 51.0 L612.8 51.9 L613.2 52.9 L613.5 53.9 L613.8 54.9 L614.1 55.9 L614.4 56.9 L614.6 57.9 L614.9 58.9 L615.1 59.9 L615.3 61.0 L615.5 62.0 L615.6 63.1 L615.8 64.2 L615.9 65.2 L616.1 66.4 L616.2 67.4 L616.3 68.5 L616.4 69.7 L616.5 70.7 L616.6 71.8 L616.7 73.1 L616.8 74.2 L616.8 75.3 L616.9 76.6 L616.9 77.9 L617.0 79.3 L617.1 80.7 L617.1 82.2 L617.2 83.6 L617.2 84.6 L617.3 85.7 L617.3 86.7 L617.3 87.7 L617.4 88.7 L617.4 90.2 L617.5 91.6 L617.6 93.0 L617.6 94.4 L617.7 95.7 L617.7 96.9 L617.8 98.1 L617.9 99.4 L617.9 100.6 L618.0 101.8 L618.0 103.0 L618.1 104.1 L618.2 105.3 L618.2 106.5 L618.3 107.7 L618.3 108.8 L618.4 110.0 L618.5 111.2 L618.5 112.3 L618.6 113.5 L618.6 114.7 L618.7 115.9 L618.8 117.1 L618.8 118.3 L618.9 119.5 L618.9 120.7 L619.0 121.9 L619.1 123.2 L619.1 124.5 L619.2 125.8 L619.2 127.2 L619.3 128.6 L619.4 130.0 L619.4 131.5 L619.5 132.9 L619.5 134.4 L619.6 135.8 L619.7 137.3 L619.7 138.7 L619.8 140.0 L619.8 141.4 L619.9 142.6 L620.0 143.9 L620.0 145.0 L620.1 146.1 L620.1 147.1 L620.2 148.3 L620.3 149.4 L620.4 150.6 L620.5 151.8 L620.6 153.0 L620.7 154.2 L620.8 155.3 L620.9 156.3 L621.0 157.4 L621.2 158.6 L621.3 159.7 L622.2 159.2 L622.5 158.2 L622.7 157.2 L622.9 156.2 L623.0 155.2 L623.2 154.1 L623.3 153.1 L623.5 152.0 L623.6 150.9 L623.7 149.9 L623.9 148.9 L624.0 147.9 L624.1 146.7 L624.2 145.6 L624.3 144.5 L624.4 143.5 L624.4 142.3 L624.5 140.9 L624.5 139.9 L624.6 138.7 L624.6 137.4 L624.7 136.0 L624.7 134.5 L624.7 132.8 L624.8 131.0 L624.8 124.8 L624.8 117.2 L624.9 114.9 L624.9 113.9 L624.9 111.9 L625.0 110.2 L625.0 108.5 L625.0 107.0 L625.1 105.6 L625.1 104.3 L625.2 103.1 L625.2 102.1 L625.3 100.6 L625.3 99.4 L625.4 98.3 L625.5 97.0 L625.5 96.0 L625.6 94.9 L625.7 93.9 L625.9 92.7 L626.0 91.6 L626.0 90.5 L626.1 89.3 L626.2 88.0 L626.3 86.7 L626.4 85.5 L626.4 84.2 L626.5 83.0 L626.6 81.8 L626.7 80.6 L626.8 79.5 L626.8 78.3 L626.9 77.2 L627.0 76.1 L627.1 75.0 L627.2 74.0 L627.2 73.0 L627.3 72.0 L627.4 70.8 L627.5 69.6 L627.6 68.5 L627.7 67.4 L627.8 66.4 L627.9 65.2 L628.1 64.1 L628.2 63.1 L628.3 62.1 L628.4 61.0 L628.6 59.9 L628.7 58.8 L628.9 57.8 L629.0 56.8 L629.2 55.7 L629.3 54.6 L629.5 53.6 L629.7 52.5 L629.8 51.6 L630.0 50.6 L630.3 49.6 L630.5 48.6 L630.8 47.6 L631.1 46.6 L631.5 45.6 L631.9 44.7 L632.5 43.9 L633.4 43.6 L634.4 43.3 L635.4 43.1 L636.4 43.0 L637.4 42.9 L638.4 42.8 L639.4 42.8 L640.0 42.8" stroke="#ea8838" stroke-width="2.2" fill="none" stroke-linecap="round" stroke-linejoin="round"/>
<path d="M600.0 42.8 L601.0 42.8 L602.0 42.9 L603.0 43.0 L604.0 43.1 L605.0 43.3 L606.0 43.5 L607.0 43.8 L607.9 44.1 L608.9 44.4 L609.8 44.8 L610.7 45.1 L611.7 45.6 L612.5 46.2 L613.1 47.0 L613.6 47.9 L614.0 48.8 L614.4 49.7 L614.8 50.7 L615.2 51.7 L615.5 52.6 L615.8 53.6 L616.1 54.6 L616.4 55.6 L616.6 56.6 L616.8 57.6 L617.0 58.6 L617.2 59.6 L617.3 60.7 L617.5 61.7 L617.7 62.8 L617.9 63.9 L618.1 65.0 L618.2 66.0 L618.4 67.1 L618.6 68.1 L618.8 69.1 L619.0 70.2 L619.2 71.2 L619.4 72.3 L619.6 73.3 L619.7 74.4 L619.9 75.4 L620.1 76.4 L620.3 77.5 L620.5 78.5 L620.6 79.5 L620.8 80.5 L621.0 81.6 L621.2 82.6 L621.4 83.7 L621.7 84.7 L621.9 85.6 L622.2 86.6 L622.5 87.6 L622.9 88.6 L623.4 89.5 L623.9 90.4 L624.4 91.3 L624.8 92.2 L625.2 93.1 L625.6 94.1 L626.1 95.0 L626.5 96.0 L626.8 96.9 L627.2 97.9 L627.5 98.9 L627.8 99.8 L628.0 100.9 L628.3 101.9 L628.5 102.9 L628.7 103.9 L628.9 104.9 L629.1 106.0 L629.3 107.0 L629.5 108.0 L629.7 109.0 L629.9 110.0 L630.1 111.1 L630.3 112.0 L630.5 113.1 L630.6 114.1 L630.7 115.1 L630.9 116.1 L631.0 117.2 L631.2 118.2 L631.4 119.3 L631.7 120.3 L632.4 119.6 L632.7 118.6 L632.9 117.6 L633.0 116.5 L633.2 115.4 L633.4 114.3 L633.5 113.3 L633.6 112.3 L633.8 111.2 L633.9 110.1 L634.0 109.1 L634.2 108.0 L634.3 106.9 L634.4 105.7 L634.5 104.5 L634.5 103.4 L634.6 102.3 L634.7 101.2 L634.8 100.0 L634.9 98.8 L634.9 97.5 L635.0 96.3 L635.1 95.0 L635.2 93.7 L635.3 92.3 L635.3 91.3 L635.4 90.3 L635.4 89.3 L635.5 88.3 L635.6 87.3 L635.6 86.2 L635.7 85.2 L635.7 84.2 L635.8 83.2 L635.9 82.2 L635.9 81.1 L636.0 79.9 L636.0 78.7 L636.1 77.4 L636.2 76.2 L636.2 74.8 L636.3 73.5 L636.3 72.2 L636.4 70.8 L636.5 69.5 L636.5 68.2 L636.6 66.9 L636.6 65.6 L636.7 64.3 L636.8 63.1 L636.8 62.0 L636.9 60.9 L636.9 59.8 L637.0 58.5 L637.1 57.4 L637.2 56.3 L637.3 55.2 L637.3 54.2 L637.4 53.1 L637.5 52.0 L637.6 51.0 L637.7 50.0 L637.8 48.8 L637.9 47.7 L638.0 46.6 L638.1 45.5 L638.4 44.5 L639.3 44.1 L640.2 43.7 L641.2 43.4 L642.2 43.2 L643.2 43.1 L644.2 43.0 L645.0 43.0" stroke="#20c2c4" stroke-width="2.2" fill="none" stroke-linecap="round" stroke-linejoin="round"/>
<path d="M600.0 42.8 L601.0 42.8 L602.0 42.8 L603.0 42.9 L604.0 42.9 L605.0 43.0 L606.0 43.1 L607.0 43.1 L608.0 43.2 L609.0 43.3 L610.0 43.4 L611.0 43.5 L612.0 43.7 L613.0 43.8 L614.0 43.9 L615.0 44.0 L616.0 44.2 L617.0 44.4 L618.0 44.6 L619.0 44.8 L619.9 45.2 L620.8 45.8 L621.5 46.5 L622.1 47.3 L622.7 48.1 L623.2 49.0 L623.7 49.9 L624.0 50.9 L624.4 51.8 L624.6 52.8 L624.9 53.8 L625.1 54.8 L625.4 55.9 L625.6 56.9 L625.8 57.9 L625.9 59.0 L626.1 60.0 L626.3 61.1 L626.4 62.2 L626.5 63.3 L626.7 64.4 L626.8 65.4 L626.9 66.5 L627.0 67.7 L627.1 68.8 L627.2 70.1 L627.2 71.1 L627.3 72.1 L627.4 73.2 L627.5 74.3 L627.6 75.4 L627.6 76.5 L627.7 77.6 L627.8 78.8 L627.9 79.9 L628.0 81.1 L628.0 82.3 L628.1 83.5 L628.2 84.7 L628.3 86.0 L628.4 87.3 L628.4 88.3 L628.5 89.3 L628.5 90.3 L628.6 91.4 L628.7 92.5 L628.7 93.7 L628.8 94.8 L628.8 96.0 L628.9 97.3 L629.0 98.5 L629.0 99.8 L629.1 101.2 L629.1 102.5 L629.2 104.0 L629.3 105.4 L629.3 106.9 L629.4 108.0 L629.4 109.0 L629.4 110.1 L629.5 111.3 L629.5 112.6 L629.6 114.0 L629.6 115.5 L629.6 117.0 L629.7 118.6 L629.7 120.3 L629.8 122.0 L629.8 123.7 L629.8 125.5 L629.9 127.3 L629.9 129.2 L630.0 131.0 L630.0 132.8 L630.0 134.7 L630.1 136.5 L630.1 138.3 L630.2 140.1 L630.2 141.8 L630.2 143.5 L630.3 145.2 L630.3 146.8 L630.4 148.3 L630.4 149.8 L630.4 151.2 L630.5 152.5 L630.5 153.7 L630.6 154.8 L630.6 156.3 L630.7 157.7 L630.7 159.1 L630.8 160.5 L630.9 161.9 L630.9 163.3 L631.0 164.7 L631.0 166.1 L631.1 167.4 L631.2 168.8 L631.2 170.1 L631.3 171.3 L631.3 172.5 L631.4 173.7 L631.5 174.8 L631.5 175.9 L631.6 176.9 L631.7 178.2 L631.7 179.4 L631.8 180.4 L631.9 181.5 L632.0 182.5 L632.8 181.7 L632.9 180.6 L633.0 179.4 L633.1 178.3 L633.2 177.1 L633.3 176.1 L633.4 175.0 L633.5 173.9 L633.6 172.6 L633.6 171.4 L633.7 170.1 L633.8 169.1 L633.8 168.1 L633.9 167.0 L634.0 166.0 L634.0 164.9 L634.1 163.8 L634.1 162.7 L634.2 161.6 L634.3 160.4 L634.3 159.3 L634.4 158.1 L634.4 157.0 L634.5 155.8 L634.6 154.5 L634.6 153.0 L634.7 152.0 L634.7 150.8 L634.7 149.6 L634.8 148.3 L634.8 146.9 L634.9 145.5 L634.9 144.0 L634.9 142.5 L635.0 140.9 L635.0 139.4 L635.1 137.7 L635.1 136.1 L635.1 134.4 L635.2 132.8 L635.2 131.1 L635.3 129.4 L635.3 127.7 L635.3 126.0 L635.4 124.4 L635.4 122.7 L635.5 121.1 L635.5 119.5 L635.5 117.9 L635.6 116.4 L635.6 115.0 L635.7 113.5 L635.7 112.2 L635.7 110.8 L635.8 109.6 L635.8 108.4 L635.9 107.3 L635.9 106.2 L635.9 105.1 L636.0 104.1 L636.0 103.1 L636.1 101.6 L636.1 100.2 L636.2 98.8 L636.3 97.5 L636.3 96.2 L636.4 94.9 L636.4 93.6 L636.5 92.3 L636.6 90.9 L636.6 89.6 L636.7 88.2 L636.7 86.8 L636.8 85.3 L636.8 84.3 L636.9 83.2 L636.9 82.1 L637.0 81.0 L637.0 79.8 L637.0 78.6 L637.1 77.3 L637.1 76.0 L637.2 74.5 L637.2 72.7 L637.2 70.8 L637.3 69.8 L637.3 68.7 L637.3 67.7 L637.3 66.6 L637.3 65.5 L637.4 64.4 L637.4 63.3 L637.4 62.3 L637.4 61.2 L637.4 60.2 L637.5 59.2 L637.5 57.2 L637.5 55.4 L637.6 53.9 L637.6 52.6 L637.7 51.6 L637.7 50.4 L637.8 49.3 L637.9 48.3 L638.1 47.2 L638.2 46.1 L638.4 45.0 L638.6 44.0 L639.6 43.7 L640.6 43.6 L641.6 43.5 L642.6 43.4 L643.6 43.3 L644.6 43.3 L645.6 43.3 L646.6 43.2 L647.6 43.2 L648.6 43.2 L649.6 43.2 L650.6 43.2 L651.6 43.2 L652.6 43.2 L653.6 43.2 L654.7 43.2 L655.7 43.2 L656.7 43.2 L657.7 43.2 L658.7 43.2 L659.8 43.2 L660.8 43.2 L661.8 43.2 L662.8 43.2 L663.8 43.2 L664.9 43.2 L665.9 43.2 L666.9 43.2 L667.9 43.2 L668.9 43.2 L670.0 43.2 L671.0 43.2 L672.0 43.2 L673.0 43.2 L674.0 43.2 L675.1 43.2 L676.1 43.2 L677.1 43.2 L678.1 43.2 L679.1 43.2 L680.2 43.2 L681.2 43.2 L682.2 43.2 L683.2 43.2 L684.2 43.2 L685.1 43.7 L685.9 44.3 L686.7 45.0 L687.5 45.6 L688.5 45.8 L689.4 45.3 L690.1 44.6 L690.8 43.9 L691.6 43.3 L692.6 43.2 L693.6 43.1 L694.6 43.1 L695.6 43.1 L696.6 43.0 L697.6 43.0 L698.6 43.0 L699.6 43.0 L700.0 43.0" stroke="#16cc1c" stroke-width="2.2" fill="none" stroke-linecap="round" stroke-linejoin="round"/>
<path d="M550.6 42.2 L551.5 42.7 L552.4 43.1 L553.3 43.5 L554.3 43.9 L555.2 44.3 L556.2 44.6 L557.1 44.9 L558.1 45.2 L559.1 45.5 L560.0 45.7 L561.0 45.8 L562.0 45.8 L563.0 45.6 L564.0 45.5 L565.0 45.3 L566.0 45.0 L566.9 44.6 L567.8 44.1 L568.8 43.8 L569.8 43.6 L570.8 43.5 L571.8 43.4 L572.8 43.3 L573.8 43.3 L574.8 43.2 L575.8 43.2 L576.8 43.2 L577.8 43.2 L578.8 43.2 L579.8 43.2 L580.8 43.2 L581.9 43.2 L582.9 43.2 L583.9 43.2 L584.9 43.2 L585.9 43.2 L587.0 43.2 L588.0 43.2 L589.0 43.3 L590.0 43.5 L590.9 43.7 L591.9 44.0 L592.9 44.4 L593.8 44.7 L594.7 45.1 L595.7 45.5 L596.6 46.0 L597.4 46.5 L598.3 47.0 L599.1 47.6 L600.0 48.2 L600.7 48.9 L601.4 49.7 L602.0 50.5 L602.6 51.3 L603.2 52.1 L604.0 52.8 L604.9 53.2 L605.8 53.6 L606.8 53.8 L607.8 54.0 L608.8 54.2 L609.8 54.3 L610.8 54.4 L611.8 54.6 L612.8 54.9 L613.5 55.5 L614.1 56.4 L614.5 57.3 L615.0 58.2 L615.4 59.2 L615.9 60.1 L616.3 61.0 L616.6 62.0 L616.9 63.0 L617.2 64.0 L617.5 65.0 L617.8 66.0 L618.1 67.0 L618.5 68.0 L618.9 68.9 L619.4 69.7 L620.0 70.6 L620.6 71.5 L621.2 72.2 L622.1 72.8 L623.1 72.5 L623.8 71.8 L624.4 71.0 L624.9 70.1 L625.4 69.2 L625.8 68.3 L626.2 67.3 L626.5 66.3 L626.7 65.3 L627.0 64.3 L627.2 63.3 L627.5 62.3 L627.7 61.2 L628.0 60.3 L628.3 59.2 L628.5 58.2 L628.8 57.3 L629.0 56.2 L629.3 55.2 L629.5 54.2 L629.7 53.2 L630.0 52.2 L630.3 51.2 L630.5 50.2 L630.9 49.3 L631.3 48.4 L631.8 47.5 L632.3 46.6 L632.8 45.8 L633.5 44.9 L634.2 44.2 L635.1 43.8 L636.1 43.8 L637.1 43.7 L638.1 43.7 L639.1 43.6 L640.1 43.6 L641.1 43.6 L642.1 43.5 L643.1 43.5 L644.1 43.5 L645.1 43.4 L646.1 43.4 L647.1 43.4 L648.1 43.4 L649.1 43.4 L650.1 43.4 L651.1 43.3 L652.1 43.3 L653.1 43.3 L654.1 43.3 L655.1 43.3 L656.1 43.3 L657.1 43.3 L658.1 43.3 L659.1 43.3 L660.1 43.3 L661.1 43.3 L662.1 43.3 L663.2 43.3 L664.2 43.3 L665.2 43.3 L666.2 43.3 L667.2 43.3 L668.3 43.3 L669.3 43.3 L670.3 43.3 L671.3 43.3 L672.3 43.3 L673.4 43.3 L674.4 43.3 L675.4 43.3 L676.4 43.3 L677.4 43.3 L678.5 43.3 L679.5 43.3 L680.5 43.3 L681.5 43.3 L682.5 43.3 L683.6 43.3 L684.6 43.3 L685.6 43.3 L686.6 43.3 L687.6 43.3 L688.7 43.3 L689.7 43.3 L690.7 43.3 L691.7 43.3 L692.7 43.3 L693.8 43.3 L694.8 43.3 L695.8 43.3 L696.8 43.3 L697.8 43.3 L698.9 43.3 L699.9 43.3 L700.9 43.3 L701.9 43.3 L702.9 43.3 L703.9 43.3 L704.9 43.3 L705.9 43.2 L706.9 43.2 L707.9 43.2 L708.9 43.2 L709.9 43.2 L710.9 43.1 L711.9 43.1 L712.9 43.1 L713.9 43.1 L714.9 43.0 L715.9 43.0 L716.9 43.0 L717.9 42.9 L718.9 42.9 L719.2 42.9" stroke="#2236d6" stroke-width="2.2" fill="none" stroke-linecap="round" stroke-linejoin="round"/>
<text x="538" y="51.5" font-family="Liberation Serif" font-weight="bold" font-size="12" text-anchor="end">0</text>
<text x="537.5" y="145" font-family="Liberation Serif" font-weight="bold" font-size="12" text-anchor="end">-20</text>
<text x="540.4" y="219.6" font-family="Liberation Sans" font-weight="bold" font-size="12" text-anchor="middle">0</text>
<text x="631.9" y="219.6" font-family="Liberation Sans" font-weight="bold" font-size="12" text-anchor="middle">400</text>
<text x="724.2" y="219.6" font-family="Liberation Sans" font-weight="bold" font-size="12" text-anchor="middle">800</text>
<text x="643.5" y="227.5" font-family="Liberation Serif" font-weight="bold" font-size="10" text-anchor="middle" fill="#222">Temprature (°C)</text>
<text transform="translate(512.6 117.6) rotate(-90)" font-family="Liberation Serif" font-weight="bold" font-size="10.2" text-anchor="middle" fill="#222">dW/dT (a.u.)</text>
<text x="23" y="644" font-family="Liberation Serif" font-weight="bold" font-size="34" fill="#dc0a2e">b</text>
<path d="M90 635.4 H755.6 V1123 M90 633.6 V1114.3 H757.3" stroke="#000" stroke-width="3.5" fill="none"/>
<line x1="181.3" y1="1114" x2="181.3" y2="1123.2" stroke="#000" stroke-width="3.5"/>
<text x="181.3" y="1144" font-family="Liberation Serif" font-weight="bold" font-size="18.5" text-anchor="middle">-50</text>
<line x1="296.2" y1="1114" x2="296.2" y2="1123.2" stroke="#000" stroke-width="3.5"/>
<text x="296.2" y="1144" font-family="Liberation Serif" font-weight="bold" font-size="18.5" text-anchor="middle">0</text>
<line x1="411.1" y1="1114" x2="411.1" y2="1123.2" stroke="#000" stroke-width="3.5"/>
<text x="411.1" y="1144" font-family="Liberation Serif" font-weight="bold" font-size="18.5" text-anchor="middle">50</text>
<line x1="526.0" y1="1114" x2="526.0" y2="1123.2" stroke="#000" stroke-width="3.5"/>
<text x="526.0" y="1144" font-family="Liberation Serif" font-weight="bold" font-size="18.5" text-anchor="middle">100</text>
<line x1="640.9" y1="1114" x2="640.9" y2="1123.2" stroke="#000" stroke-width="3.5"/>
<text x="640.9" y="1144" font-family="Liberation Serif" font-weight="bold" font-size="18.5" text-anchor="middle">150</text>
<text x="755.8" y="1144" font-family="Liberation Serif" font-weight="bold" font-size="18.5" text-anchor="middle">200</text>
<text x="331" y="1171.5" font-family="Liberation Serif" font-weight="bold" font-size="25">Temprature</text><text x="467.8" y="1171.5" font-family="Liberation Serif" font-weight="bold" font-size="32.5">(</text><text x="476.5" y="1172.3" font-family="Liberation Serif" font-size="26" stroke="#000" stroke-width="0.45">°C</text><text x="505" y="1171.5" font-family="Liberation Serif" font-weight="bold" font-size="32.5">)</text>
<text transform="translate(63 864.1) rotate(-90)" font-family="Liberation Serif" font-weight="bold" font-size="25.3" text-anchor="middle">Heat flow(mW/mg)</text>
<path d="M90.1 878.2 L91.0 878.7 L91.9 879.2 L92.7 879.7 L93.6 880.1 L94.5 880.6 L95.4 881.1 L96.3 881.5 L97.2 882.0 L98.2 882.4 L99.1 882.7 L100.1 883.1 L101.0 883.4 L102.0 883.6 L103.0 883.8 L104.0 884.0 L105.0 884.2 L106.0 884.3 L107.0 884.5 L108.0 884.7 L109.0 884.8 L110.0 885.0 L111.0 885.1 L112.0 885.3 L113.0 885.4 L114.0 885.5 L115.0 885.6 L116.0 885.8 L117.0 885.9 L118.0 886.0 L119.0 886.0 L120.0 886.1 L121.0 886.2 L122.0 886.3 L123.0 886.3 L124.0 886.4 L125.0 886.4 L126.0 886.5 L127.0 886.5 L128.0 886.5 L129.0 886.6 L130.0 886.6 L131.0 886.6 L132.0 886.6 L133.0 886.7 L134.0 886.7 L135.0 886.7 L136.0 886.7 L137.0 886.7 L138.0 886.7 L139.0 886.7 L140.0 886.8 L141.0 886.8 L142.0 886.8 L143.0 886.8 L144.0 886.8 L145.0 886.8 L146.0 886.8 L147.0 886.8 L148.0 886.8 L149.0 886.8 L150.0 886.8 L151.0 886.9 L152.0 886.9 L153.0 886.9 L154.0 886.9 L155.0 886.9 L156.0 886.9 L157.0 886.9 L158.0 886.9 L159.0 886.9 L160.0 886.9 L161.0 886.9 L162.0 887.0 L163.0 887.0 L164.0 887.0 L165.0 887.0 L166.0 887.0 L167.0 887.0 L168.0 887.0 L169.0 887.1 L170.0 887.1 L171.0 887.1 L172.0 887.1 L173.0 887.2 L174.0 887.2 L175.0 887.2 L176.0 887.2 L177.0 887.3 L178.0 887.3 L179.0 887.3 L180.0 887.4 L181.0 887.4 L182.0 887.5 L183.0 887.5 L184.0 887.5 L185.0 887.6 L186.0 887.6 L187.0 887.7 L188.0 887.7 L189.0 887.8 L190.0 887.8 L191.0 887.9 L192.0 887.9 L193.0 888.0 L194.0 888.1 L195.0 888.1 L196.0 888.2 L197.0 888.2 L198.0 888.3 L199.0 888.4 L200.0 888.4 L201.0 888.5 L202.0 888.6 L203.0 888.6 L204.0 888.7 L205.0 888.8 L206.0 888.8 L207.0 888.9 L208.0 889.0 L209.0 889.0 L210.0 889.1 L211.0 889.2 L212.0 889.2 L213.0 889.3 L214.0 889.4 L215.0 889.5 L216.0 889.6 L217.0 889.7 L218.0 889.8 L219.0 889.9 L220.0 890.0 L221.0 890.2 L222.0 890.3 L223.0 890.4 L224.0 890.5 L225.0 890.6 L226.0 890.8 L227.0 890.9 L228.0 891.0 L229.0 891.1 L230.0 891.2 L231.0 891.2 L232.0 891.3 L233.0 891.4 L234.0 891.4 L235.0 891.5 L236.0 891.5 L237.0 891.6 L238.0 891.7 L239.0 891.7 L240.0 891.8 L241.0 891.8 L242.0 891.8 L243.0 891.9 L244.0 891.9 L245.0 891.9 L246.0 891.9 L247.0 891.9 L248.0 891.9 L249.0 891.7 L250.0 891.6 L251.0 891.4 L252.0 891.2 L252.9 890.9 L253.9 890.7 L254.9 890.5 L255.9 890.4 L256.9 890.2 L257.9 890.1 L258.9 889.9 L259.9 889.7 L260.9 889.6 L261.9 889.5 L262.9 889.4 L263.9 889.4 L264.9 889.4 L265.9 889.4 L266.9 889.4 L267.9 889.4 L268.9 889.4 L269.9 889.4 L270.9 889.4 L271.9 889.4 L272.9 889.4 L273.9 889.4 L274.9 889.4 L275.9 889.4 L276.9 889.4 L277.9 889.4 L278.9 889.4 L279.9 889.5 L280.9 889.5 L281.9 889.5 L282.9 889.5 L283.9 889.5 L284.9 889.5 L285.9 889.5 L286.9 889.5 L287.9 889.6 L288.9 889.6 L289.9 889.6 L290.9 889.6 L291.9 889.6 L292.9 889.6 L293.9 889.6 L294.9 889.7 L295.9 889.7 L296.9 889.7 L297.9 889.7 L298.9 889.7 L299.9 889.7 L300.9 889.8 L301.9 889.8 L302.9 889.8 L303.9 889.8 L304.9 889.8 L305.9 889.9 L306.9 889.9 L307.9 889.9 L308.9 890.0 L309.9 890.0 L310.9 890.0 L311.9 890.1 L312.9 890.1 L313.9 890.2 L314.9 890.2 L315.9 890.3 L316.9 890.3 L317.9 890.4 L318.9 890.5 L319.9 890.5 L320.9 890.6 L321.9 890.7 L322.9 890.8 L323.9 890.8 L324.9 890.9 L325.9 891.0 L326.9 891.1 L327.9 891.2 L328.9 891.2 L329.9 891.3 L330.9 891.4 L331.9 891.5 L332.9 891.6 L333.9 891.7 L334.9 891.7 L335.9 891.8 L336.9 891.9 L337.9 892.0 L338.9 892.1 L339.9 892.2 L340.9 892.2 L341.9 892.3 L342.9 892.4 L343.9 892.5 L344.9 892.6 L345.9 892.7 L346.9 892.8 L347.9 892.9 L348.9 893.0 L349.9 893.1 L350.9 893.2 L351.9 893.3 L352.9 893.4 L353.9 893.5 L354.9 893.6 L355.9 893.7 L356.9 893.8 L357.9 893.9 L358.9 894.0 L359.9 894.1 L360.9 894.2 L361.9 894.3 L362.9 894.4 L363.9 894.6 L364.9 894.7 L365.9 894.8 L366.9 894.9 L367.9 895.0 L368.9 895.1 L369.9 895.2 L370.9 895.4 L371.9 895.5 L372.9 895.6 L373.9 895.7 L374.9 895.8 L375.9 895.9 L376.9 896.1 L377.9 896.2 L378.9 896.3 L379.9 896.4 L380.9 896.5 L381.9 896.6 L382.9 896.8 L383.9 896.9 L384.9 897.0 L385.9 897.2 L386.9 897.3 L387.9 897.5 L388.9 897.6 L389.9 897.8 L390.9 897.9 L391.9 898.1 L392.9 898.3 L393.9 898.4 L394.9 898.6 L395.9 898.7 L396.9 898.8 L397.9 899.0 L398.9 899.1 L399.9 899.2 L400.9 899.3 L401.9 899.3 L402.9 899.4 L403.9 899.4 L404.9 899.4 L405.9 899.4 L406.9 899.3 L407.9 899.1 L408.9 898.8 L409.8 898.5 L410.8 898.2 L411.7 897.8 L412.7 897.5 L413.6 897.1 L414.6 896.8 L415.5 896.5 L416.5 896.2 L417.5 895.9 L418.4 895.6 L419.4 895.2 L420.3 894.9 L421.3 894.6 L422.3 894.2 L423.2 893.9 L424.2 893.7 L425.2 893.4 L426.2 893.2 L427.2 893.1 L428.2 893.0 L429.2 892.9 L430.2 892.9 L431.2 892.9 L432.2 892.8 L433.2 892.8 L434.2 892.7 L435.2 892.7 L436.2 892.7 L437.2 892.6 L438.2 892.6 L439.2 892.6 L440.2 892.6 L441.2 892.5 L442.2 892.5 L443.2 892.5 L444.2 892.5 L445.2 892.4 L446.2 892.4 L447.2 892.4 L448.2 892.4 L449.2 892.4 L450.2 892.4 L451.2 892.3 L452.2 892.3 L453.2 892.3 L454.2 892.3 L455.2 892.3 L456.2 892.3 L457.2 892.3 L458.2 892.3 L459.2 892.3 L460.2 892.3 L461.2 892.3 L462.2 892.3 L463.2 892.3 L464.2 892.3 L465.2 892.3 L466.2 892.3 L467.2 892.3 L468.2 892.3 L469.2 892.4 L470.2 892.4 L471.2 892.4 L472.2 892.4 L473.2 892.4 L474.2 892.4 L475.2 892.4 L476.2 892.5 L477.2 892.5 L478.2 892.5 L479.2 892.5 L480.2 892.5 L481.2 892.6 L482.2 892.6 L483.2 892.6 L484.2 892.6 L485.2 892.7 L486.2 892.7 L487.2 892.7 L488.2 892.8 L489.2 892.8 L490.2 892.8 L491.2 892.8 L492.2 892.9 L493.2 892.9 L494.2 892.9 L495.2 893.0 L496.2 893.0 L497.2 893.0 L498.2 893.1 L499.2 893.1 L500.2 893.2 L501.2 893.2 L502.2 893.2 L503.2 893.3 L504.2 893.3 L505.2 893.3 L506.2 893.4 L507.2 893.4 L508.2 893.4 L509.2 893.5 L510.2 893.5 L511.2 893.6 L512.2 893.6 L513.2 893.6 L514.2 893.7 L515.2 893.7 L516.2 893.8 L517.2 893.8 L518.2 893.8 L519.2 893.9 L520.2 893.9 L521.2 894.0 L522.2 894.0 L523.2 894.0 L524.2 894.1 L525.2 894.1 L526.2 894.1 L527.2 894.2 L528.2 894.2 L529.2 894.3 L530.2 894.3 L531.2 894.3 L532.2 894.4 L533.2 894.4 L534.2 894.4 L535.2 894.5 L536.2 894.5 L537.2 894.5 L538.2 894.6 L539.2 894.6 L540.2 894.7 L541.2 894.7 L542.2 894.7 L543.2 894.8 L544.2 894.8 L545.2 894.8 L546.2 894.9 L547.2 894.9 L548.2 895.0 L549.2 895.0 L550.2 895.0 L551.2 895.1 L552.2 895.1 L553.2 895.2 L554.2 895.2 L555.2 895.2 L556.2 895.3 L557.2 895.3 L558.2 895.4 L559.2 895.4 L560.2 895.4 L561.2 895.5 L562.2 895.5 L563.2 895.6 L564.2 895.6 L565.2 895.7 L566.2 895.7 L567.2 895.8 L568.2 895.8 L569.2 895.9 L570.2 895.9 L571.2 896.0 L572.2 896.0 L573.2 896.1 L574.2 896.1 L575.2 896.2 L576.2 896.2 L577.2 896.3 L578.2 896.3 L579.2 896.4 L580.2 896.4 L581.2 896.5 L582.2 896.5 L583.2 896.6 L584.2 896.7 L585.2 896.7 L586.2 896.8 L587.2 896.8 L588.2 896.9 L589.2 897.0 L590.2 897.0 L591.2 897.1 L592.2 897.2 L593.2 897.2 L594.2 897.3 L595.2 897.4 L596.2 897.5 L597.2 897.6 L598.2 897.6 L599.2 897.7 L600.2 897.8 L601.2 897.9 L602.2 898.0 L603.2 898.1 L604.2 898.3 L605.2 898.4 L606.2 898.5 L607.2 898.6 L608.2 898.7 L609.2 898.8 L610.2 898.9 L611.2 899.0 L612.2 899.1 L613.2 899.2 L614.2 899.3 L615.2 899.4 L616.2 899.5 L617.2 899.6 L618.2 899.7 L619.2 899.7 L620.2 899.8 L621.2 899.9 L622.2 900.0 L623.2 900.0 L624.2 900.1 L625.2 900.2 L626.2 900.2 L627.2 900.3 L628.2 900.3 L629.2 900.4 L630.2 900.5 L631.2 900.6 L632.2 900.7 L633.2 900.8 L634.2 900.8 L635.2 900.9 L636.2 901.0 L637.2 901.0 L638.2 901.1 L639.2 901.2 L640.2 901.3 L641.2 901.4 L642.2 901.5 L643.2 901.6 L644.2 901.7 L645.2 901.9 L646.2 902.1 L647.2 902.3 L648.2 902.5 L649.1 902.7 L650.1 903.0 L651.1 903.3 L652.0 903.7 L653.0 904.0 L653.9 904.4 L654.8 904.9 L655.7 905.3 L655.9 906.4 L656.1 907.5 L656.1 908.6 L656.2 909.8 L656.3 910.8 L656.3 911.9 L656.4 913.0 L656.5 914.3 L656.5 915.7 L656.6 917.1 L656.6 918.6 L656.7 919.6 L656.7 920.7 L656.8 921.8 L656.8 922.9 L656.8 924.1 L656.9 925.2 L656.9 926.4 L657.0 927.7 L657.0 928.9 L657.0 930.2 L657.1 931.5 L657.1 932.8 L657.2 934.2 L657.2 935.5 L657.2 936.9 L657.3 938.3 L657.3 939.7 L657.4 941.2 L657.4 942.6 L657.4 944.1 L657.5 945.5 L657.5 947.0 L657.6 948.5 L657.6 950.0 L657.6 951.7 L657.7 953.6 L657.7 954.7 L657.7 955.9 L657.7 957.1 L657.8 958.4 L657.8 959.7 L657.8 961.1 L657.8 962.5 L657.8 963.9 L657.9 965.4 L657.9 967.0 L657.9 968.5 L657.9 970.1 L657.9 971.7 L658.0 973.3 L658.0 974.9 L658.0 976.6 L658.0 978.2 L658.0 979.8 L658.1 981.5 L658.1 983.1 L658.1 984.7 L658.1 986.3 L658.1 987.9 L658.2 989.5 L658.2 991.0 L658.2 992.5 L658.2 994.0 L658.2 995.4 L658.3 996.8 L658.3 998.1 L658.3 999.4 L658.3 1000.6 L658.3 1001.8 L658.4 1002.9 L658.4 1004.0 L658.4 1006.0 L658.5 1007.9 L658.5 1009.8 L658.5 1011.7 L658.6 1013.5 L658.6 1015.3 L658.7 1017.1 L658.7 1018.9 L658.7 1020.6 L658.8 1022.3 L658.8 1023.9 L658.9 1025.5 L658.9 1027.1 L658.9 1028.7 L659.0 1030.2 L659.0 1031.7 L659.1 1033.1 L659.1 1034.5 L659.1 1035.9 L659.2 1037.3 L659.2 1038.6 L659.3 1039.9 L659.3 1041.2 L659.3 1042.4 L659.4 1043.6 L659.4 1044.8 L659.5 1046.0 L659.5 1047.1 L659.5 1048.1 L659.6 1049.2 L659.6 1050.2 L659.7 1051.3 L659.7 1052.3 L659.7 1053.3 L659.8 1054.3 L659.8 1055.4 L659.9 1056.4 L659.9 1057.4 L659.9 1058.4 L660.0 1059.4 L660.0 1060.4 L660.1 1061.9 L660.1 1063.4 L660.2 1064.8 L660.3 1066.2 L660.3 1067.5 L660.4 1068.8 L660.4 1070.1 L660.5 1071.3 L660.6 1072.5 L660.6 1073.6 L660.7 1074.6 L660.8 1075.8 L660.8 1077.0 L660.9 1078.2 L661.1 1079.3 L661.3 1080.3 L661.6 1081.3 L661.9 1082.3 L662.4 1083.3 L662.9 1084.1 L663.6 1084.8 L664.5 1085.4 L665.4 1085.8 L666.3 1086.3 L667.1 1086.9 L667.8 1087.6 L668.5 1088.3 L669.1 1089.1 L669.7 1090.0 L670.3 1090.8 L670.9 1091.6 L671.4 1092.5 L671.9 1093.4 L672.3 1094.4 L672.8 1095.3 L673.3 1096.1 L673.9 1096.9 L674.7 1097.6 L675.5 1098.2 L676.4 1098.7 L677.3 1099.0 L678.3 1098.7 L679.1 1098.1 L679.7 1097.3 L680.3 1096.4 L680.8 1095.6 L681.3 1094.7 L681.7 1093.7 L682.0 1092.7 L682.2 1091.6 L682.4 1090.5 L682.6 1089.4 L682.7 1088.4 L682.9 1087.4 L683.0 1086.3 L683.2 1085.2 L683.4 1084.1 L683.5 1082.9 L683.7 1081.8 L683.8 1080.7 L684.0 1079.7 L684.2 1078.6 L684.3 1077.5 L684.5 1076.4 L684.6 1075.4 L684.8 1074.3 L684.9 1073.3 L685.0 1072.2 L685.2 1071.2 L685.3 1070.1 L685.5 1068.9 L685.6 1067.8 L685.7 1066.7 L685.9 1065.5 L686.0 1064.5 L686.1 1063.5 L686.2 1062.5 L686.4 1061.5 L686.5 1060.4 L686.6 1059.4 L686.7 1058.3 L686.8 1057.2 L687.0 1056.2 L687.1 1055.1 L687.2 1054.0 L687.3 1052.8 L687.4 1051.7 L687.6 1050.5 L687.7 1049.4 L687.8 1048.2 L687.9 1047.2 L688.0 1046.2 L688.1 1045.1 L688.2 1044.1 L688.3 1043.1 L688.4 1042.1 L688.5 1041.0 L688.6 1040.0 L688.7 1038.9 L688.8 1037.8 L688.9 1036.7 L689.0 1035.7 L689.1 1034.6 L689.2 1033.5 L689.3 1032.4 L689.4 1031.3 L689.5 1030.2 L689.6 1029.0 L689.7 1027.9 L689.8 1026.7 L689.9 1025.5 L690.0 1024.3 L690.1 1023.1 L690.2 1021.9 L690.3 1020.7 L690.4 1019.5 L690.5 1018.2 L690.6 1017.2 L690.7 1016.2 L690.7 1015.2 L690.8 1014.2 L690.9 1013.2 L691.0 1012.2 L691.1 1011.1 L691.1 1010.1 L691.2 1009.1 L691.3 1008.1 L691.4 1007.1 L691.5 1006.0 L691.5 1005.0 L691.6 1004.0 L691.7 1003.0 L691.8 1001.9 L691.9 1000.9 L691.9 999.9 L692.0 998.9 L692.1 997.9 L692.2 996.9 L692.3 995.9 L692.3 994.9 L692.4 993.8 L692.5 992.8 L692.6 991.8 L692.7 990.8 L692.7 989.7 L692.8 988.7 L692.9 987.6 L693.0 986.6 L693.1 985.5 L693.1 984.4 L693.2 983.4 L693.3 982.3 L693.4 981.2 L693.5 980.1 L693.5 979.0 L693.6 978.0 L693.7 976.9 L693.8 975.8 L693.9 974.7 L693.9 973.6 L694.0 972.6 L694.1 971.5 L694.2 970.4 L694.3 969.4 L694.3 968.3 L694.4 967.3 L694.5 966.3 L694.6 965.2 L694.7 964.2 L694.7 963.2 L694.8 962.2 L694.9 961.0 L695.0 959.7 L695.1 958.5 L695.2 957.4 L695.3 956.2 L695.4 955.1 L695.5 954.0 L695.6 952.9 L695.7 951.8 L695.8 950.8 L695.9 949.8 L696.0 948.8 L696.1 947.8 L696.2 946.8 L696.3 945.8 L696.4 944.7 L696.5 943.7 L696.6 942.6 L696.7 941.6 L696.8 940.6 L696.9 939.6 L697.0 938.5 L697.1 937.5 L697.2 936.4 L697.4 935.2 L697.5 934.1 L697.6 933.0 L697.7 931.9 L697.8 930.9 L698.0 929.8 L698.1 928.7 L698.3 927.6 L698.4 926.6 L698.6 925.6 L698.9 924.5 L699.2 923.6 L699.7 922.7 L700.1 921.7 L700.6 920.9 L701.1 920.0 L701.7 919.2 L702.3 918.4 L703.0 917.7 L703.8 917.0 L704.8 916.7 L705.8 916.6 L706.8 916.6 L707.8 916.6 L708.8 916.6 L709.8 916.7 L710.8 916.7 L711.8 916.7 L712.8 916.8 L713.8 916.8 L714.8 916.8 L715.8 916.9 L716.8 916.9 L717.8 917.0 L718.8 917.0 L719.8 917.0 L720.8 917.0 L721.8 917.1 L722.8 917.1 L723.8 917.1 L724.8 917.1 L725.8 917.0 L726.8 917.0 L727.8 916.9 L728.8 916.8 L729.8 916.6 L730.8 916.5 L731.8 916.3 L732.8 916.1 L733.8 915.9 L734.7 915.7 L735.7 915.5 L736.7 915.3 L737.7 915.1 L738.7 914.8 L739.6 914.6 L740.6 914.3 L741.6 914.1 L742.6 913.8 L743.6 913.5 L744.5 913.2 L745.5 912.9 L746.4 912.5 L747.4 912.1 L748.3 911.7 L749.2 911.3 L750.1 910.9 L751.0 910.4 L751.9 909.9 L752.8 909.5 L753.7 909.0 L754.6 908.5 L754.8 908.4" stroke="#e0138a" stroke-width="3.0" fill="none" stroke-linecap="round" stroke-linejoin="round"/>
<path d="M90.1 838.4 L91.1 838.7 L92.0 839.0 L93.0 839.3 L93.9 839.7 L94.9 840.0 L95.9 840.3 L96.8 840.6 L97.8 840.9 L98.8 841.1 L99.8 841.3 L100.8 841.5 L101.8 841.6 L102.8 841.7 L103.8 841.7 L104.8 841.8 L105.8 841.8 L106.8 841.9 L107.8 841.9 L108.8 842.0 L109.8 842.0 L110.8 842.1 L111.8 842.1 L112.8 842.2 L113.8 842.2 L114.8 842.2 L115.8 842.3 L116.8 842.3 L117.8 842.3 L118.8 842.4 L119.8 842.4 L120.8 842.4 L121.8 842.5 L122.8 842.5 L123.8 842.5 L124.8 842.6 L125.8 842.6 L126.8 842.6 L127.8 842.6 L128.8 842.7 L129.8 842.7 L130.8 842.7 L131.8 842.7 L132.8 842.8 L133.8 842.8 L134.8 842.8 L135.8 842.8 L136.8 842.8 L137.8 842.9 L138.8 842.9 L139.8 842.9 L140.8 842.9 L141.8 842.9 L142.8 843.0 L143.8 843.0 L144.8 843.0 L145.8 843.0 L146.8 843.0 L147.8 843.0 L148.8 843.0 L149.8 843.1 L150.8 843.1 L151.8 843.1 L152.8 843.1 L153.8 843.1 L154.8 843.1 L155.8 843.1 L156.8 843.2 L157.8 843.2 L158.8 843.2 L159.8 843.2 L160.8 843.2 L161.8 843.2 L162.8 843.2 L163.8 843.2 L164.8 843.3 L165.8 843.3 L166.8 843.3 L167.8 843.3 L168.8 843.3 L169.8 843.3 L170.8 843.4 L171.8 843.4 L172.8 843.4 L173.8 843.4 L174.8 843.4 L175.8 843.4 L176.8 843.5 L177.8 843.5 L178.8 843.5 L179.8 843.5 L180.8 843.5 L181.8 843.5 L182.8 843.6 L183.8 843.6 L184.8 843.6 L185.8 843.6 L186.8 843.6 L187.8 843.6 L188.8 843.6 L189.8 843.7 L190.8 843.7 L191.8 843.7 L192.8 843.7 L193.8 843.7 L194.8 843.7 L195.8 843.7 L196.8 843.8 L197.8 843.8 L198.8 843.8 L199.8 843.8 L200.8 843.8 L201.8 843.8 L202.8 843.8 L203.8 843.9 L204.8 843.9 L205.8 843.9 L206.8 843.9 L207.8 843.9 L208.8 843.9 L209.8 843.9 L210.8 843.9 L211.8 844.0 L212.8 844.0 L213.8 844.0 L214.8 844.0 L215.8 844.0 L216.8 844.0 L217.8 844.0 L218.8 844.0 L219.8 844.1 L220.8 844.1 L221.8 844.1 L222.8 844.1 L223.8 844.1 L224.8 844.1 L225.8 844.1 L226.8 844.1 L227.8 844.1 L228.8 844.2 L229.8 844.2 L230.8 844.2 L231.8 844.2 L232.8 844.2 L233.8 844.2 L234.8 844.2 L235.8 844.2 L236.8 844.2 L237.8 844.3 L238.8 844.3 L239.8 844.3 L240.8 844.3 L241.8 844.3 L242.8 844.3 L243.8 844.3 L244.8 844.3 L245.8 844.3 L246.8 844.4 L247.8 844.4 L248.8 844.4 L249.8 844.4 L250.8 844.4 L251.8 844.4 L252.8 844.4 L253.8 844.4 L254.8 844.4 L255.8 844.4 L256.8 844.5 L257.8 844.5 L258.8 844.5 L259.8 844.5 L260.8 844.5 L261.8 844.5 L262.8 844.5 L263.8 844.5 L264.8 844.5 L265.8 844.6 L266.8 844.6 L267.8 844.6 L268.8 844.6 L269.8 844.6 L270.8 844.6 L271.8 844.6 L272.8 844.6 L273.8 844.6 L274.8 844.6 L275.8 844.7 L276.8 844.7 L277.8 844.7 L278.8 844.7 L279.8 844.7 L280.8 844.7 L281.8 844.7 L282.8 844.7 L283.8 844.7 L284.8 844.8 L285.8 844.8 L286.8 844.8 L287.8 844.8 L288.8 844.8 L289.8 844.8 L290.8 844.8 L291.8 844.8 L292.8 844.9 L293.8 844.9 L294.8 844.9 L295.8 844.9 L296.8 844.9 L297.8 844.9 L298.8 844.9 L299.8 844.9 L300.8 844.9 L301.8 845.0 L302.8 845.0 L303.8 845.0 L304.8 845.0 L305.8 845.0 L306.8 845.0 L307.8 845.0 L308.8 845.0 L309.8 845.1 L310.8 845.1 L311.8 845.1 L312.8 845.1 L313.8 845.1 L314.8 845.1 L315.8 845.1 L316.8 845.1 L317.8 845.2 L318.8 845.2 L319.8 845.2 L320.8 845.2 L321.8 845.2 L322.8 845.2 L323.8 845.2 L324.8 845.2 L325.8 845.3 L326.8 845.3 L327.8 845.3 L328.8 845.3 L329.8 845.3 L330.8 845.3 L331.8 845.3 L332.8 845.3 L333.8 845.4 L334.8 845.4 L335.8 845.4 L336.8 845.4 L337.8 845.4 L338.8 845.4 L339.8 845.4 L340.8 845.4 L341.8 845.5 L342.8 845.5 L343.8 845.5 L344.8 845.5 L345.8 845.5 L346.8 845.5 L347.8 845.5 L348.8 845.5 L349.8 845.6 L350.8 845.6 L351.8 845.6 L352.8 845.6 L353.8 845.6 L354.8 845.6 L355.8 845.6 L356.8 845.6 L357.8 845.7 L358.8 845.7 L359.8 845.7 L360.8 845.7 L361.8 845.7 L362.8 845.7 L363.8 845.7 L364.8 845.8 L365.8 845.8 L366.8 845.8 L367.8 845.8 L368.8 845.8 L369.8 845.8 L370.8 845.8 L371.8 845.8 L372.8 845.9 L373.8 845.9 L374.8 845.9 L375.8 845.9 L376.8 845.9 L377.8 845.9 L378.8 845.9 L379.8 845.9 L380.8 846.0 L381.8 846.0 L382.8 846.0 L383.8 846.0 L384.8 846.0 L385.8 846.0 L386.8 846.0 L387.8 846.0 L388.8 846.1 L389.8 846.1 L390.8 846.1 L391.8 846.1 L392.8 846.1 L393.8 846.1 L394.8 846.1 L395.8 846.1 L396.8 846.2 L397.8 846.2 L398.8 846.2 L399.8 846.2 L400.8 846.2 L401.8 846.2 L402.8 846.2 L403.8 846.3 L404.8 846.3 L405.8 846.3 L406.8 846.3 L407.8 846.3 L408.8 846.3 L409.8 846.3 L410.8 846.3 L411.8 846.4 L412.8 846.4 L413.8 846.4 L414.8 846.4 L415.8 846.4 L416.8 846.4 L417.8 846.4 L418.8 846.5 L419.8 846.5 L420.8 846.5 L421.8 846.5 L422.8 846.5 L423.8 846.5 L424.8 846.5 L425.8 846.6 L426.8 846.6 L427.8 846.6 L428.8 846.6 L429.8 846.6 L430.8 846.6 L431.8 846.6 L432.8 846.7 L433.8 846.7 L434.8 846.7 L435.8 846.7 L436.8 846.7 L437.8 846.7 L438.8 846.7 L439.8 846.7 L440.8 846.8 L441.8 846.8 L442.8 846.8 L443.8 846.8 L444.8 846.8 L445.8 846.8 L446.8 846.8 L447.8 846.9 L448.8 846.9 L449.8 846.9 L450.8 846.9 L451.8 846.9 L452.8 846.9 L453.8 846.9 L454.8 847.0 L455.8 847.0 L456.8 847.0 L457.8 847.0 L458.8 847.0 L459.8 847.0 L460.8 847.0 L461.8 847.0 L462.8 847.1 L463.8 847.1 L464.8 847.1 L465.8 847.1 L466.8 847.1 L467.8 847.1 L468.8 847.1 L469.8 847.1 L470.8 847.2 L471.8 847.2 L472.8 847.2 L473.8 847.2 L474.8 847.2 L475.8 847.2 L476.8 847.2 L477.8 847.2 L478.8 847.3 L479.8 847.3 L480.8 847.3 L481.8 847.3 L482.8 847.3 L483.8 847.3 L484.8 847.3 L485.8 847.3 L486.8 847.3 L487.8 847.4 L488.8 847.4 L489.8 847.4 L490.8 847.4 L491.8 847.4 L492.8 847.4 L493.8 847.4 L494.8 847.4 L495.8 847.5 L496.8 847.5 L497.8 847.5 L498.8 847.5 L499.8 847.5 L500.8 847.5 L501.8 847.5 L502.8 847.5 L503.8 847.6 L504.8 847.6 L505.8 847.6 L506.8 847.6 L507.8 847.6 L508.8 847.6 L509.8 847.6 L510.8 847.6 L511.8 847.7 L512.8 847.7 L513.8 847.7 L514.8 847.7 L515.8 847.7 L516.8 847.7 L517.8 847.7 L518.8 847.8 L519.8 847.8 L520.8 847.8 L521.8 847.8 L522.8 847.8 L523.8 847.8 L524.8 847.8 L525.8 847.8 L526.8 847.9 L527.8 847.9 L528.8 847.9 L529.8 847.9 L530.8 847.9 L531.8 847.9 L532.8 847.9 L533.8 848.0 L534.8 848.0 L535.8 848.0 L536.8 848.0 L537.8 848.0 L538.8 848.0 L539.8 848.1 L540.8 848.1 L541.8 848.1 L542.8 848.1 L543.8 848.1 L544.8 848.1 L545.8 848.1 L546.8 848.2 L547.8 848.2 L548.8 848.2 L549.8 848.2 L550.8 848.2 L551.8 848.2 L552.8 848.3 L553.8 848.3 L554.8 848.3 L555.8 848.3 L556.8 848.3 L557.8 848.4 L558.8 848.4 L559.8 848.4 L560.8 848.4 L561.8 848.4 L562.8 848.4 L563.8 848.5 L564.8 848.5 L565.8 848.5 L566.8 848.5 L567.8 848.5 L568.8 848.6 L569.8 848.6 L570.8 848.6 L571.8 848.6 L572.8 848.6 L573.8 848.7 L574.8 848.7 L575.8 848.7 L576.8 848.7 L577.8 848.7 L578.8 848.8 L579.8 848.8 L580.8 848.8 L581.8 848.8 L582.8 848.9 L583.8 848.9 L584.8 848.9 L585.8 848.9 L586.8 848.9 L587.8 849.0 L588.8 849.0 L589.8 849.0 L590.8 849.0 L591.8 849.1 L592.8 849.1 L593.8 849.1 L594.8 849.1 L595.8 849.2 L596.8 849.2 L597.8 849.2 L598.8 849.2 L599.8 849.3 L600.8 849.3 L601.8 849.3 L602.8 849.4 L603.8 849.4 L604.8 849.4 L605.8 849.4 L606.8 849.5 L607.8 849.5 L608.8 849.5 L609.8 849.5 L610.8 849.6 L611.8 849.6 L612.8 849.6 L613.8 849.6 L614.8 849.7 L615.8 849.7 L616.8 849.7 L617.8 849.8 L618.8 849.8 L619.8 849.8 L620.8 849.9 L621.8 849.9 L622.8 850.0 L623.8 850.0 L624.8 850.0 L625.8 850.1 L626.8 850.1 L627.8 850.2 L628.8 850.2 L629.8 850.3 L630.8 850.3 L631.8 850.4 L632.8 850.5 L633.8 850.5 L634.8 850.6 L635.8 850.7 L636.8 850.7 L637.8 850.8 L638.8 850.9 L639.8 851.0 L640.8 851.1 L641.8 851.1 L642.8 851.2 L643.8 851.3 L644.8 851.4 L645.8 851.5 L646.8 851.7 L647.8 851.8 L648.7 852.0 L649.7 852.4 L650.6 852.8 L651.6 853.2 L652.5 853.7 L653.3 854.2 L654.2 854.7 L655.1 855.1 L656.0 855.6 L656.8 856.1 L657.7 856.7 L658.5 857.3 L659.3 857.9 L660.2 858.5 L661.0 859.0 L661.9 859.6 L662.7 860.1 L663.6 860.6 L664.5 861.1 L665.4 861.6 L666.3 862.0 L667.2 862.5 L668.1 862.9 L669.0 863.4 L669.9 863.9 L670.8 864.4 L671.7 864.8 L672.6 865.3 L673.4 865.8 L674.3 866.3 L675.2 866.8 L676.1 867.3 L677.0 867.9 L677.8 868.4 L678.7 868.9 L679.6 869.4 L680.4 869.9 L681.3 870.5 L682.1 871.0 L683.0 871.5 L683.8 872.2 L684.5 872.8 L685.3 873.5 L686.1 874.1 L686.9 874.7 L687.8 875.2 L688.8 875.4 L689.8 875.4 L690.8 875.2 L691.8 875.0 L692.7 874.7 L693.7 874.4 L694.5 873.8 L695.1 872.9 L695.5 872.0 L695.9 871.1 L696.3 870.1 L696.7 869.2 L697.1 868.2 L697.5 867.3 L697.9 866.4 L698.3 865.4 L698.8 864.5 L699.2 863.6 L699.6 862.7 L700.1 861.8 L700.5 860.9 L700.9 859.9 L701.4 859.0 L701.8 858.1 L702.3 857.2 L702.9 856.4 L703.5 855.6 L704.2 854.8 L704.9 854.2 L705.7 853.5 L706.5 852.9 L707.3 852.3 L708.2 851.8 L709.1 851.4 L710.1 851.2 L711.1 851.0 L712.1 850.8 L713.1 850.7 L714.1 850.5 L715.1 850.4 L716.1 850.2 L717.1 850.1 L718.1 850.0 L719.1 849.9 L720.1 849.9 L721.1 849.8 L722.1 849.8 L723.1 849.7 L724.1 849.7 L725.1 849.7 L726.1 849.7 L727.1 849.7 L728.1 849.7 L729.1 849.7 L730.1 849.6 L731.1 849.6 L732.1 849.6 L733.1 849.6 L734.1 849.6 L735.1 849.6 L736.1 849.6 L737.1 849.6 L738.1 849.6 L739.1 849.6 L740.1 849.5 L741.1 849.5 L742.1 849.5 L743.1 849.5 L744.1 849.5 L745.1 849.5 L746.1 849.5 L747.1 849.5 L748.1 849.5 L749.1 849.5 L750.1 849.5 L751.1 849.5 L752.1 849.5 L753.1 849.5 L754.1 849.5 L754.8 849.5" stroke="#ea8838" stroke-width="3.0" fill="none" stroke-linecap="round" stroke-linejoin="round"/>
<path d="M89.1 800.7 L90.1 800.9 L91.1 801.1 L92.1 801.3 L93.1 801.4 L94.1 801.6 L95.1 801.8 L96.1 802.0 L97.1 802.1 L98.1 802.3 L99.1 802.4 L100.1 802.5 L101.1 802.6 L102.1 802.6 L103.1 802.7 L104.1 802.7 L105.1 802.7 L106.1 802.8 L107.1 802.8 L108.1 802.8 L109.1 802.9 L110.1 802.9 L111.1 802.9 L112.1 803.0 L113.1 803.0 L114.1 803.0 L115.1 803.0 L116.1 803.1 L117.1 803.1 L118.1 803.1 L119.1 803.1 L120.1 803.2 L121.1 803.2 L122.1 803.2 L123.1 803.2 L124.1 803.2 L125.1 803.3 L126.1 803.3 L127.1 803.3 L128.1 803.3 L129.1 803.3 L130.1 803.3 L131.1 803.4 L132.1 803.4 L133.1 803.4 L134.1 803.4 L135.1 803.4 L136.1 803.4 L137.1 803.4 L138.1 803.5 L139.1 803.5 L140.1 803.5 L141.1 803.5 L142.1 803.5 L143.1 803.5 L144.1 803.5 L145.1 803.5 L146.1 803.5 L147.1 803.6 L148.1 803.6 L149.1 803.6 L150.1 803.6 L151.1 803.6 L152.1 803.6 L153.1 803.6 L154.1 803.6 L155.1 803.6 L156.1 803.7 L157.1 803.7 L158.1 803.7 L159.1 803.7 L160.1 803.7 L161.1 803.7 L162.1 803.7 L163.1 803.7 L164.1 803.7 L165.1 803.8 L166.1 803.8 L167.1 803.8 L168.1 803.8 L169.1 803.8 L170.1 803.8 L171.1 803.8 L172.1 803.8 L173.1 803.9 L174.1 803.9 L175.1 803.9 L176.1 803.9 L177.1 803.9 L178.1 803.9 L179.1 803.9 L180.1 803.9 L181.1 803.9 L182.1 804.0 L183.1 804.0 L184.1 804.0 L185.1 804.0 L186.1 804.0 L187.1 804.0 L188.1 804.0 L189.1 804.0 L190.1 804.0 L191.1 804.0 L192.1 804.0 L193.1 804.1 L194.1 804.1 L195.1 804.1 L196.1 804.1 L197.1 804.1 L198.1 804.1 L199.1 804.1 L200.1 804.1 L201.1 804.1 L202.1 804.1 L203.1 804.1 L204.1 804.2 L205.1 804.2 L206.1 804.2 L207.1 804.2 L208.1 804.2 L209.1 804.2 L210.1 804.2 L211.1 804.2 L212.1 804.2 L213.1 804.2 L214.1 804.2 L215.1 804.2 L216.1 804.3 L217.1 804.3 L218.1 804.3 L219.1 804.3 L220.1 804.3 L221.1 804.3 L222.1 804.3 L223.1 804.3 L224.1 804.3 L225.1 804.3 L226.1 804.3 L227.1 804.4 L228.1 804.4 L229.1 804.4 L230.1 804.4 L231.1 804.4 L232.1 804.4 L233.1 804.4 L234.1 804.4 L235.1 804.4 L236.1 804.5 L237.1 804.5 L238.1 804.5 L239.1 804.5 L240.1 804.5 L241.1 804.5 L242.1 804.5 L243.1 804.5 L244.1 804.6 L245.1 804.6 L246.1 804.6 L247.1 804.6 L248.1 804.6 L249.1 804.6 L250.1 804.6 L251.1 804.7 L252.1 804.7 L253.1 804.7 L254.1 804.7 L255.1 804.7 L256.1 804.8 L257.1 804.8 L258.1 804.8 L259.1 804.8 L260.1 804.8 L261.1 804.8 L262.1 804.9 L263.1 804.9 L264.1 804.9 L265.1 804.9 L266.1 805.0 L267.1 805.0 L268.1 805.0 L269.1 805.0 L270.1 805.0 L271.1 805.1 L272.1 805.1 L273.1 805.1 L274.1 805.1 L275.1 805.1 L276.1 805.2 L277.1 805.2 L278.1 805.2 L279.1 805.2 L280.1 805.3 L281.1 805.3 L282.1 805.3 L283.1 805.3 L284.1 805.4 L285.1 805.4 L286.1 805.4 L287.1 805.4 L288.1 805.4 L289.1 805.5 L290.1 805.5 L291.1 805.5 L292.1 805.5 L293.1 805.6 L294.1 805.6 L295.1 805.6 L296.1 805.6 L297.1 805.6 L298.1 805.7 L299.1 805.7 L300.1 805.7 L301.1 805.7 L302.1 805.7 L303.1 805.8 L304.1 805.8 L305.1 805.8 L306.1 805.8 L307.1 805.8 L308.1 805.9 L309.1 805.9 L310.1 805.9 L311.1 805.9 L312.1 805.9 L313.1 806.0 L314.1 806.0 L315.1 806.0 L316.1 806.0 L317.1 806.0 L318.1 806.0 L319.1 806.1 L320.1 806.1 L321.1 806.1 L322.1 806.1 L323.1 806.1 L324.1 806.2 L325.1 806.2 L326.1 806.2 L327.1 806.2 L328.1 806.2 L329.1 806.3 L330.1 806.3 L331.1 806.3 L332.1 806.3 L333.1 806.3 L334.1 806.3 L335.1 806.4 L336.1 806.4 L337.1 806.4 L338.1 806.4 L339.1 806.4 L340.1 806.5 L341.1 806.5 L342.1 806.5 L343.1 806.5 L344.1 806.5 L345.1 806.6 L346.1 806.6 L347.1 806.6 L348.1 806.6 L349.1 806.6 L350.1 806.6 L351.1 806.7 L352.1 806.7 L353.1 806.7 L354.1 806.7 L355.1 806.7 L356.1 806.8 L357.1 806.8 L358.1 806.8 L359.1 806.8 L360.1 806.8 L361.1 806.8 L362.1 806.9 L363.1 806.9 L364.1 806.9 L365.1 806.9 L366.1 806.9 L367.1 807.0 L368.1 807.0 L369.1 807.0 L370.1 807.0 L371.1 807.0 L372.1 807.0 L373.1 807.1 L374.1 807.1 L375.1 807.1 L376.1 807.1 L377.1 807.1 L378.1 807.2 L379.1 807.2 L380.1 807.2 L381.1 807.2 L382.1 807.2 L383.1 807.2 L384.1 807.3 L385.1 807.3 L386.1 807.3 L387.1 807.3 L388.1 807.3 L389.1 807.4 L390.1 807.4 L391.1 807.4 L392.1 807.4 L393.1 807.4 L394.1 807.4 L395.1 807.5 L396.1 807.5 L397.1 807.5 L398.1 807.5 L399.1 807.5 L400.1 807.6 L401.1 807.6 L402.1 807.6 L403.1 807.6 L404.1 807.6 L405.1 807.7 L406.1 807.7 L407.1 807.7 L408.1 807.7 L409.1 807.7 L410.1 807.7 L411.1 807.8 L412.1 807.8 L413.1 807.8 L414.1 807.8 L415.1 807.8 L416.1 807.9 L417.1 807.9 L418.1 807.9 L419.1 807.9 L420.1 807.9 L421.1 808.0 L422.1 808.0 L423.1 808.0 L424.1 808.0 L425.1 808.0 L426.1 808.1 L427.1 808.1 L428.1 808.1 L429.1 808.1 L430.1 808.1 L431.1 808.2 L432.1 808.2 L433.1 808.2 L434.1 808.2 L435.1 808.2 L436.1 808.3 L437.1 808.3 L438.1 808.3 L439.1 808.3 L440.1 808.3 L441.1 808.4 L442.1 808.4 L443.1 808.4 L444.1 808.4 L445.1 808.4 L446.1 808.5 L447.1 808.5 L448.1 808.5 L449.1 808.5 L450.1 808.5 L451.1 808.6 L452.1 808.6 L453.1 808.6 L454.1 808.6 L455.1 808.6 L456.1 808.7 L457.1 808.7 L458.1 808.7 L459.1 808.7 L460.1 808.7 L461.1 808.8 L462.1 808.8 L463.1 808.8 L464.1 808.8 L465.1 808.9 L466.1 808.9 L467.1 808.9 L468.1 808.9 L469.1 809.0 L470.1 809.0 L471.1 809.0 L472.1 809.0 L473.1 809.0 L474.1 809.1 L475.1 809.1 L476.1 809.1 L477.1 809.1 L478.1 809.2 L479.1 809.2 L480.1 809.2 L481.1 809.2 L482.1 809.3 L483.1 809.3 L484.1 809.3 L485.1 809.4 L486.1 809.4 L487.1 809.4 L488.1 809.4 L489.1 809.5 L490.1 809.5 L491.1 809.5 L492.1 809.5 L493.1 809.6 L494.1 809.6 L495.1 809.6 L496.1 809.7 L497.1 809.7 L498.1 809.7 L499.1 809.7 L500.1 809.8 L501.1 809.8 L502.1 809.8 L503.1 809.9 L504.1 809.9 L505.1 809.9 L506.1 809.9 L507.1 810.0 L508.1 810.0 L509.1 810.0 L510.1 810.0 L511.1 810.1 L512.1 810.1 L513.1 810.1 L514.1 810.2 L515.1 810.2 L516.1 810.2 L517.1 810.3 L518.1 810.3 L519.1 810.3 L520.1 810.3 L521.1 810.4 L522.1 810.4 L523.1 810.4 L524.1 810.5 L525.1 810.5 L526.1 810.5 L527.1 810.5 L528.1 810.6 L529.1 810.6 L530.1 810.6 L531.1 810.6 L532.1 810.7 L533.1 810.7 L534.1 810.7 L535.1 810.8 L536.1 810.8 L537.1 810.8 L538.1 810.8 L539.1 810.9 L540.1 810.9 L541.1 810.9 L542.1 811.0 L543.1 811.0 L544.1 811.0 L545.1 811.0 L546.1 811.1 L547.1 811.1 L548.1 811.1 L549.1 811.1 L550.1 811.2 L551.1 811.2 L552.1 811.2 L553.1 811.2 L554.1 811.3 L555.1 811.3 L556.1 811.3 L557.1 811.3 L558.1 811.4 L559.1 811.4 L560.1 811.4 L561.1 811.4 L562.1 811.5 L563.1 811.5 L564.1 811.5 L565.1 811.5 L566.1 811.5 L567.1 811.6 L568.1 811.6 L569.1 811.6 L570.1 811.6 L571.1 811.7 L572.1 811.7 L573.1 811.7 L574.1 811.7 L575.1 811.7 L576.1 811.8 L577.1 811.8 L578.1 811.8 L579.1 811.8 L580.1 811.8 L581.1 811.8 L582.1 811.9 L583.1 811.9 L584.1 811.9 L585.1 811.9 L586.1 811.9 L587.1 812.0 L588.1 812.0 L589.1 812.0 L590.1 812.0 L591.1 812.0 L592.1 812.0 L593.1 812.0 L594.1 812.1 L595.1 812.1 L596.1 812.1 L597.1 812.1 L598.1 812.1 L599.1 812.1 L600.1 812.1 L601.1 812.1 L602.1 812.1 L603.1 812.2 L604.1 812.2 L605.1 812.2 L606.1 812.2 L607.1 812.2 L608.1 812.2 L609.1 812.2 L610.1 812.2 L611.1 812.2 L612.1 812.3 L613.1 812.3 L614.1 812.3 L615.1 812.3 L616.1 812.3 L617.1 812.3 L618.1 812.3 L619.1 812.3 L620.1 812.3 L621.1 812.4 L622.1 812.4 L623.1 812.4 L624.1 812.4 L625.1 812.4 L626.1 812.4 L627.1 812.4 L628.1 812.4 L629.1 812.4 L630.1 812.4 L631.1 812.4 L632.1 812.5 L633.1 812.5 L634.1 812.5 L635.1 812.5 L636.1 812.5 L637.1 812.5 L638.1 812.5 L639.1 812.5 L640.1 812.5 L641.1 812.5 L642.1 812.5 L643.1 812.5 L644.1 812.5 L645.1 812.6 L646.1 812.6 L647.1 812.6 L648.1 812.6 L649.1 812.6 L650.1 812.6 L651.1 812.6 L652.1 812.6 L653.1 812.6 L654.1 812.6 L655.1 812.6 L656.1 812.6 L657.1 812.6 L658.1 812.6 L659.1 812.6 L660.1 812.6 L661.1 812.6 L662.1 812.6 L663.1 812.6 L664.1 812.6 L665.1 812.6 L666.1 812.6 L667.1 812.6 L668.1 812.6 L669.1 812.6 L670.1 812.6 L671.1 812.6 L672.1 812.6 L673.1 812.5 L674.1 812.5 L675.1 812.5 L676.1 812.5 L677.1 812.5 L678.1 812.5 L679.1 812.5 L680.1 812.5 L681.1 812.5 L682.1 812.5 L683.1 812.5 L684.1 812.4 L685.1 812.4 L686.1 812.4 L687.1 812.4 L688.1 812.4 L689.1 812.4 L690.1 812.4 L691.1 812.4 L692.1 812.4 L693.1 812.4 L694.1 812.4 L695.1 812.4 L696.1 812.4 L697.1 812.4 L698.1 812.4 L699.1 812.4 L700.1 812.4 L701.1 812.5 L702.1 812.5 L703.1 812.5 L704.1 812.5 L705.1 812.5 L706.1 812.5 L707.1 812.5 L708.1 812.6 L709.1 812.6 L710.1 812.6 L711.1 812.6 L712.1 812.7 L713.1 812.7 L714.1 812.7 L715.1 812.7 L716.1 812.8 L717.1 812.8 L718.1 812.8 L719.1 812.9 L720.1 812.9 L721.1 812.9 L722.1 813.0 L723.1 813.0 L724.1 813.1 L725.1 813.1 L726.1 813.1 L727.1 813.2 L728.1 813.2 L729.1 813.3 L730.1 813.3 L731.1 813.3 L732.1 813.4 L733.1 813.4 L734.1 813.5 L735.1 813.5 L736.1 813.6 L737.1 813.6 L738.1 813.7 L739.1 813.7 L740.1 813.8 L741.1 813.8 L742.1 813.9 L743.1 814.0 L744.1 814.0 L745.1 814.1 L746.1 814.1 L747.1 814.2 L748.1 814.2 L749.1 814.3 L750.1 814.4 L750.7 814.4" stroke="#e0dc3c" stroke-width="3.0" fill="none" stroke-linecap="round" stroke-linejoin="round"/>
<path d="M89.6 756.5 L90.5 757.0 L91.4 757.5 L92.3 758.0 L93.2 758.4 L94.1 758.8 L95.1 759.1 L96.1 759.4 L97.0 759.6 L98.0 759.8 L99.0 760.0 L100.0 760.2 L101.0 760.4 L102.0 760.5 L103.0 760.7 L104.0 760.8 L105.0 760.8 L106.0 760.9 L107.0 761.0 L108.0 761.0 L109.0 761.0 L110.0 761.1 L111.0 761.1 L112.0 761.2 L113.0 761.2 L114.0 761.2 L115.0 761.3 L116.0 761.3 L117.0 761.3 L118.0 761.4 L119.0 761.4 L120.0 761.4 L121.0 761.4 L122.0 761.4 L123.0 761.5 L124.0 761.5 L125.0 761.5 L126.0 761.5 L127.0 761.5 L128.0 761.6 L129.0 761.6 L130.0 761.6 L131.0 761.6 L132.0 761.6 L133.0 761.7 L134.0 761.7 L135.0 761.7 L136.0 761.7 L137.0 761.8 L138.0 761.8 L139.0 761.8 L140.0 761.8 L141.0 761.9 L142.0 761.9 L143.0 761.9 L144.0 761.9 L145.0 762.0 L146.0 762.0 L147.0 762.0 L148.0 762.0 L149.0 762.1 L150.0 762.1 L151.0 762.1 L152.0 762.1 L153.0 762.2 L154.0 762.2 L155.0 762.2 L156.0 762.2 L157.0 762.3 L158.0 762.3 L159.0 762.3 L160.0 762.3 L161.0 762.4 L162.0 762.4 L163.0 762.4 L164.0 762.4 L165.0 762.5 L166.0 762.5 L167.0 762.5 L168.0 762.5 L169.0 762.5 L170.0 762.6 L171.0 762.6 L172.0 762.6 L173.0 762.6 L174.0 762.7 L175.0 762.7 L176.0 762.7 L177.0 762.7 L178.0 762.7 L179.0 762.8 L180.0 762.8 L181.0 762.8 L182.0 762.8 L183.0 762.9 L184.0 762.9 L185.0 762.9 L186.0 762.9 L187.0 762.9 L188.0 763.0 L189.0 763.0 L190.0 763.0 L191.0 763.0 L192.0 763.0 L193.0 763.1 L194.0 763.1 L195.0 763.1 L196.0 763.1 L197.0 763.1 L198.0 763.2 L199.0 763.2 L200.0 763.2 L201.0 763.2 L202.0 763.3 L203.0 763.3 L204.0 763.3 L205.0 763.3 L206.0 763.3 L207.0 763.4 L208.0 763.4 L209.0 763.4 L210.0 763.4 L211.0 763.4 L212.0 763.5 L213.0 763.5 L214.0 763.5 L215.0 763.5 L216.0 763.5 L217.0 763.6 L218.0 763.6 L219.0 763.6 L220.0 763.6 L221.0 763.6 L222.0 763.7 L223.0 763.7 L224.0 763.7 L225.0 763.7 L226.0 763.7 L227.0 763.8 L228.0 763.8 L229.0 763.8 L230.0 763.8 L231.0 763.8 L232.0 763.9 L233.0 763.9 L234.0 763.9 L235.0 763.9 L236.0 763.9 L237.0 764.0 L238.0 764.0 L239.0 764.0 L240.0 764.0 L241.0 764.0 L242.0 764.1 L243.0 764.1 L244.0 764.1 L245.0 764.1 L246.0 764.1 L247.0 764.2 L248.0 764.2 L249.0 764.2 L250.0 764.2 L251.0 764.2 L252.0 764.3 L253.0 764.3 L254.0 764.3 L255.0 764.3 L256.0 764.3 L257.0 764.3 L258.0 764.4 L259.0 764.4 L260.0 764.4 L261.0 764.4 L262.0 764.4 L263.0 764.4 L264.0 764.5 L265.0 764.5 L266.0 764.5 L267.0 764.5 L268.0 764.5 L269.0 764.5 L270.0 764.6 L271.0 764.6 L272.0 764.6 L273.0 764.6 L274.0 764.7 L275.0 764.7 L276.0 764.7 L277.0 764.7 L278.0 764.8 L279.0 764.8 L280.0 764.8 L281.0 764.9 L282.0 764.9 L283.0 764.9 L284.0 765.0 L285.0 765.0 L286.0 765.1 L287.0 765.2 L288.0 765.2 L289.0 765.3 L290.0 765.4 L291.0 765.5 L292.0 765.5 L293.0 765.6 L294.0 765.7 L295.0 765.8 L296.0 765.9 L297.0 766.0 L298.0 766.1 L299.0 766.2 L300.0 766.2 L301.0 766.3 L302.0 766.4 L303.0 766.5 L304.0 766.6 L305.0 766.7 L306.0 766.8 L307.0 766.9 L308.0 767.0 L309.0 767.1 L310.0 767.2 L311.0 767.4 L312.0 767.5 L313.0 767.6 L314.0 767.7 L315.0 767.9 L316.0 768.0 L317.0 768.1 L318.0 768.3 L319.0 768.4 L320.0 768.6 L321.0 768.7 L322.0 768.9 L323.0 769.1 L324.0 769.3 L325.0 769.5 L325.9 769.8 L326.9 770.0 L327.9 770.3 L328.9 770.5 L329.9 770.8 L330.8 771.1 L331.8 771.4 L332.8 771.6 L333.7 772.0 L334.7 772.3 L335.6 772.6 L336.6 773.0 L337.5 773.4 L338.4 773.8 L339.3 774.2 L340.2 774.7 L341.1 775.3 L341.9 775.8 L342.7 776.5 L343.5 777.1 L344.3 777.8 L345.0 778.4 L345.8 779.1 L346.5 779.7 L347.3 780.4 L348.0 781.1 L348.8 781.8 L349.5 782.5 L350.2 783.2 L351.0 783.9 L351.7 784.6 L352.5 785.3 L353.3 785.9 L354.1 786.5 L355.0 787.1 L355.8 787.7 L356.6 788.2 L357.5 788.8 L358.3 789.4 L359.1 790.0 L359.9 790.7 L360.7 791.3 L361.4 792.0 L362.2 792.7 L362.8 793.4 L363.4 794.3 L364.0 795.1 L364.5 796.0 L365.0 796.9 L365.5 797.8 L365.9 798.7 L366.4 799.6 L366.8 800.5 L367.2 801.5 L367.6 802.5 L367.9 803.5 L368.3 804.4 L368.6 805.4 L368.9 806.4 L369.3 807.4 L369.6 808.4 L369.9 809.3 L370.2 810.3 L370.5 811.4 L370.8 812.3 L371.1 813.3 L371.4 814.3 L371.7 815.3 L372.0 816.3 L372.3 817.3 L372.6 818.3 L372.9 819.3 L373.1 820.3 L373.4 821.3 L373.7 822.3 L373.9 823.3 L374.2 824.3 L374.4 825.3 L374.7 826.4 L375.0 827.4 L375.2 828.4 L375.4 829.4 L375.7 830.3 L375.9 831.3 L376.2 832.3 L376.4 833.3 L376.6 834.3 L376.9 835.3 L377.1 836.4 L377.4 837.4 L377.6 838.5 L377.8 839.5 L378.1 840.6 L378.3 841.6 L378.6 842.6 L378.8 843.7 L379.0 844.7 L379.3 845.7 L379.5 846.7 L379.8 847.8 L380.0 848.8 L380.2 849.8 L380.5 850.9 L380.7 851.9 L381.0 852.9 L381.2 853.9 L381.4 854.9 L381.7 855.9 L381.9 857.0 L382.2 858.0 L382.5 859.0 L382.7 860.0 L383.0 861.1 L383.2 862.1 L383.4 863.1 L383.7 864.1 L383.9 865.2 L384.2 866.1 L384.5 867.1 L384.9 868.1 L385.5 868.9 L386.3 869.5 L387.2 869.1 L387.6 868.1 L388.0 867.2 L388.3 866.2 L388.4 865.1 L388.6 864.0 L388.7 862.9 L388.9 861.8 L389.0 860.7 L389.1 859.7 L389.2 858.6 L389.4 857.6 L389.5 856.4 L389.6 855.3 L389.7 854.2 L389.8 853.1 L389.9 852.0 L390.0 850.8 L390.1 849.6 L390.2 848.4 L390.3 847.2 L390.4 846.2 L390.5 845.1 L390.5 844.1 L390.6 843.1 L390.7 842.0 L390.8 841.0 L390.9 840.0 L390.9 838.9 L391.0 837.9 L391.1 836.9 L391.2 835.9 L391.3 834.8 L391.3 833.8 L391.4 832.7 L391.5 831.6 L391.6 830.5 L391.7 829.4 L391.7 828.3 L391.8 827.1 L391.9 826.0 L392.0 824.9 L392.1 823.8 L392.1 822.7 L392.2 821.6 L392.3 820.5 L392.4 819.5 L392.5 818.4 L392.5 817.4 L392.6 816.2 L392.7 814.9 L392.8 813.7 L392.9 812.7 L393.0 811.7 L393.1 810.7 L393.2 809.7 L393.2 808.7 L393.3 807.4 L393.4 806.2 L393.5 805.0 L393.6 803.9 L393.7 802.7 L393.8 801.6 L393.9 800.6 L394.0 799.6 L394.2 798.4 L394.3 797.4 L394.4 796.3 L394.6 795.2 L394.7 794.1 L394.9 793.1 L395.1 792.1 L395.2 791.0 L395.4 790.0 L395.6 788.9 L395.8 787.9 L396.0 786.9 L396.3 785.8 L396.5 784.8 L396.8 783.8 L397.1 782.8 L397.5 781.8 L397.9 780.8 L398.2 779.9 L398.7 779.0 L399.1 778.0 L399.6 777.1 L400.1 776.3 L400.7 775.5 L401.4 774.7 L402.2 774.1 L403.1 773.6 L404.0 773.1 L404.9 772.6 L405.8 772.3 L406.8 772.0 L407.8 771.9 L408.8 771.8 L409.8 771.6 L410.8 771.6 L411.8 771.5 L412.8 771.4 L413.8 771.3 L414.8 771.3 L415.8 771.2 L416.8 771.2 L417.8 771.1 L418.8 771.1 L419.8 771.0 L420.8 771.0 L421.8 771.0 L422.8 770.9 L423.8 770.9 L424.8 770.9 L425.8 770.8 L426.8 770.8 L427.8 770.8 L428.8 770.7 L429.8 770.7 L430.8 770.7 L431.8 770.6 L432.8 770.6 L433.8 770.6 L434.8 770.6 L435.8 770.5 L436.8 770.5 L437.8 770.5 L438.8 770.5 L439.8 770.4 L440.8 770.4 L441.8 770.4 L442.8 770.4 L443.8 770.3 L444.8 770.3 L445.8 770.3 L446.8 770.3 L447.8 770.3 L448.8 770.3 L449.8 770.3 L450.8 770.2 L451.8 770.2 L452.8 770.2 L453.8 770.2 L454.8 770.2 L455.8 770.2 L456.8 770.2 L457.8 770.2 L458.8 770.2 L459.8 770.2 L460.8 770.2 L461.8 770.2 L462.8 770.2 L463.8 770.2 L464.8 770.2 L465.8 770.2 L466.8 770.2 L467.8 770.2 L468.8 770.2 L469.8 770.2 L470.8 770.2 L471.8 770.2 L472.8 770.3 L473.8 770.3 L474.8 770.3 L475.8 770.3 L476.8 770.3 L477.8 770.3 L478.8 770.3 L479.8 770.3 L480.8 770.4 L481.8 770.4 L482.8 770.4 L483.8 770.4 L484.8 770.4 L485.8 770.4 L486.8 770.4 L487.8 770.4 L488.8 770.5 L489.8 770.5 L490.8 770.5 L491.8 770.5 L492.8 770.5 L493.8 770.5 L494.8 770.5 L495.8 770.6 L496.8 770.6 L497.8 770.6 L498.8 770.6 L499.8 770.6 L500.8 770.6 L501.8 770.6 L502.8 770.6 L503.8 770.6 L504.8 770.6 L505.8 770.7 L506.8 770.7 L507.8 770.7 L508.8 770.7 L509.8 770.7 L510.8 770.7 L511.8 770.7 L512.8 770.7 L513.8 770.7 L514.8 770.7 L515.8 770.8 L516.8 770.8 L517.8 770.8 L518.8 770.8 L519.8 770.8 L520.8 770.8 L521.8 770.8 L522.8 770.8 L523.8 770.8 L524.8 770.8 L525.8 770.8 L526.8 770.9 L527.8 770.9 L528.8 770.9 L529.8 770.9 L530.8 770.9 L531.8 770.9 L532.8 770.9 L533.8 770.9 L534.8 770.9 L535.8 770.9 L536.8 770.9 L537.8 771.0 L538.8 771.0 L539.8 771.0 L540.8 771.0 L541.8 771.0 L542.8 771.0 L543.8 771.0 L544.8 771.0 L545.8 771.0 L546.8 771.0 L547.8 771.0 L548.8 771.1 L549.8 771.1 L550.8 771.1 L551.8 771.1 L552.8 771.1 L553.8 771.1 L554.8 771.1 L555.8 771.1 L556.8 771.1 L557.8 771.1 L558.8 771.2 L559.8 771.2 L560.8 771.2 L561.8 771.2 L562.8 771.2 L563.8 771.2 L564.8 771.2 L565.8 771.2 L566.8 771.2 L567.8 771.2 L568.8 771.2 L569.8 771.3 L570.8 771.3 L571.8 771.3 L572.8 771.3 L573.8 771.3 L574.8 771.3 L575.8 771.3 L576.8 771.3 L577.8 771.3 L578.8 771.3 L579.8 771.4 L580.8 771.4 L581.8 771.4 L582.8 771.4 L583.8 771.4 L584.8 771.4 L585.8 771.4 L586.8 771.4 L587.8 771.4 L588.8 771.4 L589.8 771.5 L590.8 771.5 L591.8 771.5 L592.8 771.5 L593.8 771.5 L594.8 771.5 L595.8 771.5 L596.8 771.5 L597.8 771.5 L598.8 771.5 L599.8 771.6 L600.8 771.6 L601.8 771.6 L602.8 771.6 L603.8 771.6 L604.8 771.6 L605.8 771.6 L606.8 771.6 L607.8 771.6 L608.8 771.6 L609.8 771.7 L610.8 771.7 L611.8 771.7 L612.8 771.7 L613.8 771.7 L614.8 771.7 L615.8 771.7 L616.8 771.7 L617.8 771.7 L618.8 771.7 L619.8 771.8 L620.8 771.8 L621.8 771.8 L622.8 771.8 L623.8 771.8 L624.8 771.8 L625.8 771.8 L626.8 771.8 L627.8 771.8 L628.8 771.8 L629.8 771.9 L630.8 771.9 L631.8 771.9 L632.8 771.9 L633.8 771.9 L634.8 771.9 L635.8 771.9 L636.8 771.9 L637.8 771.9 L638.8 771.9 L639.8 772.0 L640.8 772.0 L641.8 772.0 L642.8 772.0 L643.8 772.0 L644.8 772.0 L645.8 772.0 L646.8 772.0 L647.8 772.0 L648.8 772.1 L649.8 772.1 L650.8 772.1 L651.8 772.1 L652.8 772.1 L653.8 772.1 L654.8 772.1 L655.8 772.1 L656.8 772.1 L657.8 772.2 L658.8 772.2 L659.8 772.2 L660.8 772.2 L661.8 772.2 L662.8 772.2 L663.8 772.2 L664.8 772.3 L665.8 772.3 L666.8 772.3 L667.8 772.3 L668.8 772.3 L669.8 772.3 L670.8 772.3 L671.8 772.3 L672.8 772.4 L673.8 772.4 L674.8 772.4 L675.8 772.4 L676.8 772.4 L677.8 772.4 L678.8 772.5 L679.8 772.5 L680.8 772.5 L681.8 772.5 L682.8 772.5 L683.8 772.5 L684.8 772.6 L685.8 772.6 L686.8 772.6 L687.8 772.6 L688.8 772.6 L689.8 772.6 L690.8 772.7 L691.8 772.7 L692.8 772.7 L693.8 772.7 L694.8 772.7 L695.8 772.8 L696.8 772.8 L697.8 772.8 L698.8 772.8 L699.8 772.8 L700.8 772.9 L701.8 772.9 L702.8 772.9 L703.8 772.9 L704.8 773.0 L705.8 773.0 L706.8 773.0 L707.8 773.0 L708.8 773.1 L709.8 773.1 L710.8 773.1 L711.8 773.2 L712.8 773.2 L713.8 773.2 L714.8 773.3 L715.8 773.3 L716.8 773.3 L717.8 773.4 L718.8 773.4 L719.8 773.4 L720.8 773.5 L721.8 773.5 L722.8 773.6 L723.8 773.6 L724.8 773.7 L725.8 773.7 L726.8 773.8 L727.8 773.9 L728.8 774.0 L729.8 774.1 L730.8 774.2 L731.8 774.4 L732.8 774.5 L733.8 774.6 L734.8 774.8 L735.8 774.9 L736.8 775.0 L737.8 775.1 L738.8 775.2 L739.8 775.4 L740.8 775.5 L741.8 775.5 L742.8 775.6 L743.8 775.7 L744.8 775.7 L745.8 775.8 L746.8 775.8 L747.8 775.8 L748.8 775.9 L749.8 775.9 L750.8 775.9 L751.8 776.0 L752.8 776.0 L753.8 776.0 L754.8 776.0" stroke="#16cc1c" stroke-width="3.0" fill="none" stroke-linecap="round" stroke-linejoin="round"/>
<path d="M89.6 719.9 L90.6 720.2 L91.5 720.5 L92.5 720.8 L93.5 721.1 L94.4 721.3 L95.4 721.5 L96.4 721.6 L97.4 721.7 L98.4 721.8 L99.4 721.9 L100.4 722.0 L101.4 722.1 L102.4 722.2 L103.4 722.2 L104.4 722.3 L105.4 722.3 L106.4 722.4 L107.4 722.4 L108.4 722.4 L109.4 722.4 L110.4 722.5 L111.4 722.5 L112.4 722.5 L113.4 722.5 L114.4 722.6 L115.4 722.6 L116.4 722.6 L117.4 722.6 L118.4 722.6 L119.4 722.7 L120.4 722.7 L121.4 722.7 L122.4 722.7 L123.4 722.7 L124.4 722.7 L125.4 722.8 L126.4 722.8 L127.4 722.8 L128.4 722.8 L129.4 722.8 L130.4 722.8 L131.4 722.8 L132.4 722.8 L133.4 722.9 L134.4 722.9 L135.4 722.9 L136.4 722.9 L137.4 722.9 L138.4 722.9 L139.4 722.9 L140.4 722.9 L141.4 722.9 L142.4 723.0 L143.4 723.0 L144.4 723.0 L145.4 723.0 L146.4 723.0 L147.4 723.0 L148.4 723.0 L149.4 723.0 L150.4 723.0 L151.4 723.0 L152.4 723.0 L153.4 723.1 L154.4 723.1 L155.4 723.1 L156.4 723.1 L157.4 723.1 L158.4 723.1 L159.4 723.1 L160.4 723.1 L161.4 723.1 L162.4 723.1 L163.4 723.2 L164.4 723.2 L165.4 723.2 L166.4 723.2 L167.4 723.2 L168.4 723.2 L169.4 723.2 L170.4 723.2 L171.4 723.2 L172.4 723.2 L173.4 723.3 L174.4 723.3 L175.4 723.3 L176.4 723.3 L177.4 723.3 L178.4 723.3 L179.4 723.3 L180.4 723.3 L181.4 723.3 L182.4 723.3 L183.4 723.4 L184.4 723.4 L185.4 723.4 L186.4 723.4 L187.4 723.4 L188.4 723.4 L189.4 723.4 L190.4 723.4 L191.4 723.4 L192.4 723.4 L193.4 723.4 L194.4 723.5 L195.4 723.5 L196.4 723.5 L197.4 723.5 L198.4 723.5 L199.4 723.5 L200.4 723.5 L201.4 723.5 L202.4 723.5 L203.4 723.5 L204.4 723.5 L205.4 723.5 L206.4 723.5 L207.4 723.6 L208.4 723.6 L209.4 723.6 L210.4 723.6 L211.4 723.6 L212.4 723.6 L213.4 723.6 L214.4 723.6 L215.4 723.6 L216.4 723.6 L217.4 723.6 L218.4 723.6 L219.4 723.7 L220.4 723.7 L221.4 723.7 L222.4 723.7 L223.4 723.7 L224.4 723.7 L225.4 723.7 L226.4 723.7 L227.4 723.7 L228.4 723.7 L229.4 723.7 L230.4 723.8 L231.4 723.8 L232.4 723.8 L233.4 723.8 L234.4 723.8 L235.4 723.8 L236.4 723.8 L237.4 723.8 L238.4 723.8 L239.4 723.9 L240.4 723.9 L241.4 723.9 L242.4 723.9 L243.4 723.9 L244.4 723.9 L245.4 723.9 L246.4 723.9 L247.4 723.9 L248.4 724.0 L249.4 724.0 L250.4 724.0 L251.4 724.0 L252.4 724.0 L253.4 724.0 L254.4 724.0 L255.4 724.0 L256.4 724.1 L257.4 724.1 L258.4 724.1 L259.4 724.1 L260.4 724.1 L261.4 724.1 L262.4 724.1 L263.4 724.2 L264.4 724.2 L265.4 724.2 L266.4 724.2 L267.4 724.2 L268.4 724.2 L269.4 724.2 L270.4 724.3 L271.4 724.3 L272.4 724.3 L273.4 724.3 L274.4 724.3 L275.4 724.4 L276.4 724.4 L277.4 724.4 L278.4 724.4 L279.4 724.4 L280.4 724.5 L281.4 724.5 L282.4 724.5 L283.4 724.5 L284.4 724.5 L285.4 724.6 L286.4 724.6 L287.4 724.6 L288.4 724.7 L289.4 724.7 L290.4 724.7 L291.4 724.7 L292.4 724.8 L293.4 724.8 L294.4 724.8 L295.4 724.9 L296.4 724.9 L297.4 724.9 L298.4 725.0 L299.4 725.0 L300.4 725.0 L301.4 725.1 L302.4 725.1 L303.4 725.2 L304.4 725.2 L305.4 725.2 L306.4 725.3 L307.4 725.3 L308.4 725.4 L309.4 725.4 L310.4 725.5 L311.4 725.5 L312.4 725.6 L313.4 725.6 L314.4 725.7 L315.4 725.7 L316.4 725.8 L317.4 725.9 L318.4 725.9 L319.4 726.0 L320.4 726.0 L321.4 726.1 L322.4 726.2 L323.4 726.2 L324.4 726.3 L325.4 726.4 L326.4 726.5 L327.4 726.7 L328.4 726.8 L329.4 726.9 L330.4 727.0 L331.4 727.1 L332.4 727.2 L333.4 727.4 L334.4 727.5 L335.4 727.6 L336.4 727.7 L337.4 727.9 L338.4 728.0 L339.4 728.2 L340.4 728.3 L341.4 728.5 L342.4 728.7 L343.4 728.9 L344.4 729.2 L345.4 729.4 L346.4 729.7 L347.3 730.0 L348.3 730.3 L349.2 730.6 L350.2 731.0 L351.1 731.3 L352.1 731.7 L353.0 732.0 L354.0 732.4 L354.9 732.8 L355.8 733.3 L356.7 733.7 L357.6 734.2 L358.4 734.7 L359.3 735.2 L360.2 735.8 L361.0 736.3 L361.9 736.9 L362.7 737.4 L363.5 738.0 L364.3 738.6 L365.1 739.3 L365.9 739.9 L366.7 740.6 L367.5 741.2 L368.2 741.9 L368.9 742.6 L369.7 743.3 L370.4 744.0 L371.1 744.7 L371.8 745.5 L372.5 746.2 L373.2 747.0 L373.8 747.8 L374.5 748.6 L375.1 749.4 L375.7 750.2 L376.3 751.0 L376.9 751.8 L377.4 752.7 L377.9 753.5 L378.5 754.4 L379.0 755.3 L379.5 756.2 L380.0 757.1 L380.6 757.9 L381.2 758.7 L381.9 759.5 L382.5 760.3 L383.2 761.0 L384.0 761.7 L384.9 762.2 L385.8 762.5 L386.8 762.8 L387.8 763.1 L388.8 763.2 L389.8 763.1 L390.8 762.9 L391.7 762.6 L392.6 762.1 L393.5 761.7 L394.4 761.1 L395.1 760.4 L395.7 759.6 L396.3 758.7 L396.9 757.9 L397.4 757.0 L397.8 756.1 L398.2 755.1 L398.5 754.2 L398.9 753.2 L399.2 752.2 L399.5 751.2 L399.8 750.3 L400.1 749.3 L400.5 748.3 L400.8 747.3 L401.2 746.3 L401.5 745.4 L401.9 744.4 L402.2 743.4 L402.6 742.4 L402.9 741.4 L403.3 740.4 L403.6 739.5 L404.0 738.5 L404.5 737.6 L405.0 736.7 L405.5 735.9 L406.1 735.0 L406.7 734.2 L407.3 733.4 L408.0 732.7 L408.8 732.0 L409.6 731.4 L410.5 730.9 L411.4 730.5 L412.3 730.0 L413.3 729.7 L414.2 729.4 L415.2 729.1 L416.2 728.9 L417.2 728.7 L418.2 728.5 L419.2 728.4 L420.2 728.4 L421.2 728.4 L422.2 728.4 L423.2 728.4 L424.2 728.4 L425.2 728.4 L426.2 728.4 L427.2 728.4 L428.2 728.4 L429.2 728.4 L430.2 728.4 L431.2 728.4 L432.2 728.4 L433.2 728.4 L434.2 728.4 L435.2 728.4 L436.2 728.4 L437.2 728.4 L438.2 728.4 L439.2 728.4 L440.2 728.5 L441.2 728.5 L442.2 728.5 L443.2 728.5 L444.2 728.5 L445.2 728.5 L446.2 728.5 L447.2 728.5 L448.2 728.5 L449.2 728.5 L450.2 728.5 L451.2 728.5 L452.2 728.6 L453.2 728.6 L454.2 728.6 L455.2 728.6 L456.2 728.6 L457.2 728.6 L458.2 728.6 L459.2 728.6 L460.2 728.6 L461.2 728.7 L462.2 728.7 L463.2 728.7 L464.2 728.7 L465.2 728.7 L466.2 728.7 L467.2 728.7 L468.2 728.8 L469.2 728.8 L470.2 728.8 L471.2 728.8 L472.2 728.9 L473.2 728.9 L474.2 728.9 L475.2 728.9 L476.2 728.9 L477.2 729.0 L478.2 729.0 L479.2 729.0 L480.2 729.0 L481.2 729.1 L482.2 729.1 L483.2 729.1 L484.2 729.1 L485.2 729.1 L486.2 729.2 L487.2 729.2 L488.2 729.2 L489.2 729.2 L490.2 729.3 L491.2 729.3 L492.2 729.3 L493.2 729.3 L494.2 729.3 L495.2 729.4 L496.2 729.4 L497.2 729.4 L498.2 729.4 L499.2 729.4 L500.2 729.4 L501.2 729.4 L502.2 729.4 L503.2 729.5 L504.2 729.5 L505.2 729.5 L506.2 729.5 L507.2 729.5 L508.2 729.5 L509.2 729.5 L510.2 729.5 L511.2 729.6 L512.2 729.6 L513.2 729.6 L514.2 729.6 L515.2 729.6 L516.2 729.6 L517.2 729.6 L518.2 729.6 L519.2 729.6 L520.2 729.6 L521.2 729.7 L522.2 729.7 L523.2 729.7 L524.2 729.7 L525.2 729.7 L526.2 729.7 L527.2 729.7 L528.2 729.7 L529.2 729.7 L530.2 729.7 L531.2 729.7 L532.2 729.8 L533.2 729.8 L534.2 729.8 L535.2 729.8 L536.2 729.8 L537.2 729.8 L538.2 729.8 L539.2 729.8 L540.2 729.8 L541.2 729.8 L542.2 729.8 L543.2 729.8 L544.2 729.8 L545.2 729.9 L546.2 729.9 L547.2 729.9 L548.2 729.9 L549.2 729.9 L550.2 729.9 L551.2 729.9 L552.2 729.9 L553.2 729.9 L554.2 729.9 L555.2 729.9 L556.2 729.9 L557.2 729.9 L558.2 729.9 L559.2 730.0 L560.2 730.0 L561.2 730.0 L562.2 730.0 L563.2 730.0 L564.2 730.0 L565.2 730.0 L566.2 730.0 L567.2 730.0 L568.2 730.0 L569.2 730.0 L570.2 730.0 L571.2 730.0 L572.2 730.1 L573.2 730.1 L574.2 730.1 L575.2 730.1 L576.2 730.1 L577.2 730.1 L578.2 730.1 L579.2 730.1 L580.2 730.1 L581.2 730.1 L582.2 730.1 L583.2 730.1 L584.2 730.1 L585.2 730.2 L586.2 730.2 L587.2 730.2 L588.2 730.2 L589.2 730.2 L590.2 730.2 L591.2 730.2 L592.2 730.2 L593.2 730.2 L594.2 730.2 L595.2 730.2 L596.2 730.2 L597.2 730.3 L598.2 730.3 L599.2 730.3 L600.2 730.3 L601.2 730.3 L602.2 730.3 L603.2 730.3 L604.2 730.3 L605.2 730.3 L606.2 730.3 L607.2 730.4 L608.2 730.4 L609.2 730.4 L610.2 730.4 L611.2 730.4 L612.2 730.4 L613.2 730.4 L614.2 730.4 L615.2 730.4 L616.2 730.4 L617.2 730.5 L618.2 730.5 L619.2 730.5 L620.2 730.5 L621.2 730.5 L622.2 730.5 L623.2 730.5 L624.2 730.5 L625.2 730.5 L626.2 730.6 L627.2 730.6 L628.2 730.6 L629.2 730.6 L630.2 730.6 L631.2 730.6 L632.2 730.6 L633.2 730.6 L634.2 730.6 L635.2 730.7 L636.2 730.7 L637.2 730.7 L638.2 730.7 L639.2 730.7 L640.2 730.7 L641.2 730.7 L642.2 730.7 L643.2 730.7 L644.2 730.8 L645.2 730.8 L646.2 730.8 L647.2 730.8 L648.2 730.8 L649.2 730.8 L650.2 730.8 L651.2 730.8 L652.2 730.8 L653.2 730.8 L654.2 730.9 L655.2 730.9 L656.2 730.9 L657.2 730.9 L658.2 730.9 L659.2 730.9 L660.2 730.9 L661.2 730.9 L662.2 730.9 L663.2 731.0 L664.2 731.0 L665.2 731.0 L666.2 731.0 L667.2 731.0 L668.2 731.0 L669.2 731.0 L670.2 731.0 L671.2 731.0 L672.2 731.1 L673.2 731.1 L674.2 731.1 L675.2 731.1 L676.2 731.1 L677.2 731.1 L678.2 731.1 L679.2 731.1 L680.2 731.1 L681.2 731.1 L682.2 731.2 L683.2 731.2 L684.2 731.2 L685.2 731.2 L686.2 731.2 L687.2 731.2 L688.2 731.2 L689.2 731.2 L690.2 731.2 L691.2 731.2 L692.2 731.2 L693.2 731.3 L694.2 731.3 L695.2 731.3 L696.2 731.3 L697.2 731.3 L698.2 731.3 L699.2 731.3 L700.2 731.3 L701.2 731.3 L702.2 731.3 L703.2 731.4 L704.2 731.4 L705.2 731.4 L706.2 731.4 L707.2 731.4 L708.2 731.4 L709.2 731.4 L710.2 731.4 L711.2 731.4 L712.2 731.4 L713.2 731.4 L714.2 731.5 L715.2 731.5 L716.2 731.5 L717.2 731.5 L718.2 731.5 L719.2 731.5 L720.2 731.5 L721.2 731.5 L722.2 731.5 L723.2 731.5 L724.2 731.5 L725.2 731.5 L726.2 731.6 L727.2 731.6 L728.2 731.6 L729.2 731.6 L730.2 731.6 L731.2 731.6 L732.2 731.6 L733.2 731.6 L734.2 731.6 L735.2 731.6 L736.2 731.6 L737.2 731.7 L738.2 731.7 L739.2 731.7 L740.2 731.7 L741.2 731.7 L742.2 731.7 L743.2 731.7 L744.2 731.7 L745.2 731.7 L746.2 731.7 L747.2 731.7 L748.2 731.7 L749.2 731.8 L750.2 731.8 L751.2 731.8 L752.2 731.8 L753.2 731.8 L754.2 731.8 L754.8 731.8" stroke="#20c2c4" stroke-width="3.0" fill="none" stroke-linecap="round" stroke-linejoin="round"/>
<path d="M89.6 680.1 L90.5 680.5 L91.4 681.0 L92.4 681.4 L93.3 681.7 L94.3 682.1 L95.2 682.3 L96.2 682.5 L97.2 682.7 L98.2 682.9 L99.2 683.1 L100.2 683.2 L101.2 683.4 L102.2 683.5 L103.2 683.6 L104.2 683.7 L105.2 683.7 L106.2 683.8 L107.2 683.8 L108.2 683.9 L109.2 683.9 L110.2 683.9 L111.2 684.0 L112.2 684.0 L113.2 684.0 L114.2 684.1 L115.2 684.1 L116.2 684.1 L117.2 684.1 L118.2 684.2 L119.2 684.2 L120.2 684.2 L121.2 684.2 L122.2 684.2 L123.2 684.3 L124.2 684.3 L125.2 684.3 L126.2 684.3 L127.2 684.3 L128.2 684.3 L129.2 684.4 L130.2 684.4 L131.2 684.4 L132.2 684.4 L133.2 684.4 L134.2 684.4 L135.2 684.5 L136.2 684.5 L137.2 684.5 L138.2 684.5 L139.2 684.5 L140.2 684.5 L141.2 684.6 L142.2 684.6 L143.2 684.6 L144.2 684.6 L145.2 684.6 L146.2 684.6 L147.2 684.6 L148.2 684.6 L149.2 684.7 L150.2 684.7 L151.2 684.7 L152.2 684.7 L153.2 684.7 L154.2 684.7 L155.2 684.7 L156.2 684.8 L157.2 684.8 L158.2 684.8 L159.2 684.8 L160.2 684.8 L161.2 684.8 L162.2 684.8 L163.2 684.9 L164.2 684.9 L165.2 684.9 L166.2 684.9 L167.2 684.9 L168.2 684.9 L169.2 685.0 L170.2 685.0 L171.2 685.0 L172.2 685.0 L173.2 685.0 L174.2 685.1 L175.2 685.1 L176.2 685.1 L177.2 685.1 L178.2 685.1 L179.2 685.2 L180.2 685.2 L181.2 685.2 L182.2 685.2 L183.2 685.2 L184.2 685.3 L185.2 685.3 L186.2 685.3 L187.2 685.3 L188.2 685.3 L189.2 685.4 L190.2 685.4 L191.2 685.4 L192.2 685.4 L193.2 685.5 L194.2 685.5 L195.2 685.5 L196.2 685.5 L197.2 685.6 L198.2 685.6 L199.2 685.6 L200.2 685.6 L201.2 685.7 L202.2 685.7 L203.2 685.7 L204.2 685.7 L205.2 685.7 L206.2 685.8 L207.2 685.8 L208.2 685.8 L209.2 685.8 L210.2 685.9 L211.2 685.9 L212.2 685.9 L213.2 685.9 L214.2 686.0 L215.2 686.0 L216.2 686.0 L217.2 686.0 L218.2 686.1 L219.2 686.1 L220.2 686.1 L221.2 686.1 L222.2 686.1 L223.2 686.2 L224.2 686.2 L225.2 686.2 L226.2 686.2 L227.2 686.3 L228.2 686.3 L229.2 686.3 L230.2 686.3 L231.2 686.4 L232.2 686.4 L233.2 686.4 L234.2 686.4 L235.2 686.4 L236.2 686.5 L237.2 686.5 L238.2 686.5 L239.2 686.5 L240.2 686.5 L241.2 686.6 L242.2 686.6 L243.2 686.6 L244.2 686.6 L245.2 686.6 L246.2 686.6 L247.2 686.7 L248.2 686.7 L249.2 686.7 L250.2 686.7 L251.2 686.7 L252.2 686.7 L253.2 686.8 L254.2 686.8 L255.2 686.8 L256.2 686.8 L257.2 686.8 L258.2 686.8 L259.2 686.9 L260.2 686.9 L261.2 686.9 L262.2 686.9 L263.2 686.9 L264.2 686.9 L265.2 686.9 L266.2 687.0 L267.2 687.0 L268.2 687.0 L269.2 687.0 L270.2 687.0 L271.2 687.0 L272.2 687.1 L273.2 687.1 L274.2 687.1 L275.2 687.1 L276.2 687.1 L277.2 687.1 L278.2 687.2 L279.2 687.2 L280.2 687.2 L281.2 687.2 L282.2 687.2 L283.2 687.2 L284.2 687.3 L285.2 687.3 L286.2 687.3 L287.2 687.3 L288.2 687.3 L289.2 687.3 L290.2 687.3 L291.2 687.4 L292.2 687.4 L293.2 687.4 L294.2 687.4 L295.2 687.4 L296.2 687.4 L297.2 687.4 L298.2 687.4 L299.2 687.5 L300.2 687.5 L301.2 687.5 L302.2 687.5 L303.2 687.5 L304.2 687.5 L305.2 687.5 L306.2 687.6 L307.2 687.6 L308.2 687.6 L309.2 687.6 L310.2 687.6 L311.2 687.7 L312.2 687.7 L313.2 687.7 L314.2 687.7 L315.2 687.8 L316.2 687.8 L317.2 687.8 L318.2 687.8 L319.2 687.9 L320.2 687.9 L321.2 688.0 L322.2 688.0 L323.2 688.0 L324.2 688.1 L325.2 688.2 L326.2 688.3 L327.2 688.4 L328.2 688.5 L329.2 688.6 L330.2 688.8 L331.2 688.9 L332.2 689.0 L333.2 689.2 L334.2 689.3 L335.2 689.5 L336.2 689.7 L337.2 689.9 L338.2 690.1 L339.2 690.3 L340.2 690.5 L341.2 690.7 L342.1 691.0 L343.1 691.2 L344.1 691.5 L345.0 691.9 L346.0 692.2 L346.9 692.6 L347.9 693.0 L348.8 693.4 L349.7 693.8 L350.6 694.2 L351.5 694.7 L352.4 695.2 L353.3 695.7 L354.1 696.3 L354.9 696.9 L355.8 697.5 L356.6 698.1 L357.4 698.7 L358.2 699.3 L358.9 700.0 L359.7 700.6 L360.5 701.3 L361.2 702.0 L361.9 702.7 L362.7 703.4 L363.4 704.2 L364.1 704.9 L364.8 705.6 L365.5 706.3 L366.2 707.1 L366.9 707.8 L367.5 708.6 L368.2 709.4 L368.9 710.1 L369.5 710.9 L370.2 711.7 L370.8 712.4 L371.5 713.2 L372.2 713.9 L372.9 714.7 L373.6 715.5 L374.3 716.2 L375.0 716.9 L375.7 717.6 L376.6 718.2 L377.5 718.6 L378.5 718.8 L379.5 718.4 L380.3 717.9 L380.9 717.0 L381.4 716.2 L381.8 715.3 L382.2 714.3 L382.7 713.4 L383.1 712.5 L383.5 711.5 L383.8 710.6 L384.2 709.6 L384.6 708.7 L384.9 707.7 L385.3 706.8 L385.7 705.8 L386.1 704.9 L386.5 703.9 L386.9 703.0 L387.3 702.0 L387.7 701.1 L388.1 700.2 L388.5 699.3 L389.0 698.4 L389.5 697.6 L390.1 696.8 L390.8 695.9 L391.4 695.2 L392.1 694.4 L392.8 693.7 L393.6 693.1 L394.5 692.6 L395.4 692.2 L396.3 691.8 L397.3 691.4 L398.2 691.1 L399.2 690.8 L400.2 690.6 L401.2 690.4 L402.2 690.3 L403.2 690.2 L404.2 690.1 L405.2 690.1 L406.2 690.0 L407.2 689.9 L408.2 689.9 L409.2 689.8 L410.2 689.7 L411.2 689.7 L412.2 689.7 L413.2 689.6 L414.2 689.6 L415.2 689.6 L416.2 689.5 L417.2 689.5 L418.2 689.5 L419.2 689.5 L420.2 689.5 L421.2 689.5 L422.2 689.5 L423.2 689.5 L424.2 689.5 L425.2 689.5 L426.2 689.5 L427.2 689.5 L428.2 689.5 L429.2 689.6 L430.2 689.6 L431.2 689.6 L432.2 689.6 L433.2 689.6 L434.2 689.6 L435.2 689.6 L436.2 689.7 L437.2 689.7 L438.2 689.7 L439.2 689.7 L440.2 689.7 L441.2 689.8 L442.2 689.8 L443.2 689.8 L444.2 689.8 L445.2 689.8 L446.2 689.9 L447.2 689.9 L448.2 689.9 L449.2 689.9 L450.2 689.9 L451.2 690.0 L452.2 690.0 L453.2 690.0 L454.2 690.0 L455.2 690.0 L456.2 690.1 L457.2 690.1 L458.2 690.1 L459.2 690.1 L460.2 690.1 L461.2 690.2 L462.2 690.2 L463.2 690.2 L464.2 690.2 L465.2 690.2 L466.2 690.2 L467.2 690.3 L468.2 690.3 L469.2 690.3 L470.2 690.3 L471.2 690.3 L472.2 690.4 L473.2 690.4 L474.2 690.4 L475.2 690.4 L476.2 690.4 L477.2 690.5 L478.2 690.5 L479.2 690.5 L480.2 690.5 L481.2 690.5 L482.2 690.6 L483.2 690.6 L484.2 690.6 L485.2 690.6 L486.2 690.6 L487.2 690.7 L488.2 690.7 L489.2 690.7 L490.2 690.7 L491.2 690.7 L492.2 690.8 L493.2 690.8 L494.2 690.8 L495.2 690.8 L496.2 690.8 L497.2 690.9 L498.2 690.9 L499.2 690.9 L500.2 690.9 L501.2 690.9 L502.2 691.0 L503.2 691.0 L504.2 691.0 L505.2 691.0 L506.2 691.0 L507.2 691.1 L508.2 691.1 L509.2 691.1 L510.2 691.1 L511.2 691.2 L512.2 691.2 L513.2 691.2 L514.2 691.2 L515.2 691.2 L516.2 691.3 L517.2 691.3 L518.2 691.3 L519.2 691.3 L520.2 691.3 L521.2 691.4 L522.2 691.4 L523.2 691.4 L524.2 691.4 L525.2 691.4 L526.2 691.5 L527.2 691.5 L528.2 691.5 L529.2 691.5 L530.2 691.5 L531.2 691.6 L532.2 691.6 L533.2 691.6 L534.2 691.6 L535.2 691.6 L536.2 691.7 L537.2 691.7 L538.2 691.7 L539.2 691.7 L540.2 691.7 L541.2 691.8 L542.2 691.8 L543.2 691.8 L544.2 691.8 L545.2 691.8 L546.2 691.9 L547.2 691.9 L548.2 691.9 L549.2 691.9 L550.2 692.0 L551.2 692.0 L552.2 692.0 L553.2 692.0 L554.2 692.0 L555.2 692.1 L556.2 692.1 L557.2 692.1 L558.2 692.1 L559.2 692.2 L560.2 692.2 L561.2 692.2 L562.2 692.2 L563.2 692.2 L564.2 692.3 L565.2 692.3 L566.2 692.3 L567.2 692.3 L568.2 692.4 L569.2 692.4 L570.2 692.4 L571.2 692.4 L572.2 692.5 L573.2 692.5 L574.2 692.5 L575.2 692.5 L576.2 692.6 L577.2 692.6 L578.2 692.6 L579.2 692.6 L580.2 692.7 L581.2 692.7 L582.2 692.7 L583.2 692.8 L584.2 692.8 L585.2 692.8 L586.2 692.8 L587.2 692.9 L588.2 692.9 L589.2 692.9 L590.2 693.0 L591.2 693.0 L592.2 693.0 L593.2 693.0 L594.2 693.1 L595.2 693.1 L596.2 693.1 L597.2 693.2 L598.2 693.2 L599.2 693.2 L600.2 693.3 L601.2 693.3 L602.2 693.3 L603.2 693.4 L604.2 693.4 L605.2 693.4 L606.2 693.5 L607.2 693.5 L608.2 693.6 L609.2 693.6 L610.2 693.6 L611.2 693.7 L612.2 693.7 L613.2 693.8 L614.2 693.8 L615.2 693.9 L616.2 693.9 L617.2 694.0 L618.2 694.0 L619.2 694.0 L620.2 694.1 L621.2 694.1 L622.2 694.2 L623.2 694.2 L624.2 694.3 L625.2 694.3 L626.2 694.4 L627.2 694.4 L628.2 694.5 L629.2 694.5 L630.2 694.6 L631.2 694.7 L632.2 694.7 L633.2 694.8 L634.2 694.8 L635.2 694.9 L636.2 694.9 L637.2 695.0 L638.2 695.0 L639.2 695.1 L640.2 695.1 L641.2 695.2 L642.2 695.2 L643.2 695.3 L644.2 695.4 L645.2 695.4 L646.2 695.5 L647.2 695.5 L648.2 695.6 L649.2 695.7 L650.2 695.7 L651.2 695.8 L652.2 695.9 L653.2 695.9 L654.2 696.0 L655.2 696.1 L656.2 696.2 L657.2 696.2 L658.2 696.3 L659.2 696.4 L660.2 696.4 L661.2 696.5 L662.2 696.6 L663.2 696.6 L664.2 696.7 L665.2 696.8 L666.2 696.8 L667.2 696.9 L668.2 696.9 L669.2 697.0 L670.2 697.0 L671.2 697.1 L672.2 697.1 L673.2 697.2 L674.2 697.2 L675.2 697.3 L676.2 697.3 L677.2 697.4 L678.2 697.4 L679.2 697.4 L680.2 697.5 L681.2 697.5 L682.2 697.6 L683.2 697.6 L684.2 697.6 L685.2 697.7 L686.2 697.7 L687.2 697.7 L688.2 697.8 L689.2 697.8 L690.2 697.8 L691.2 697.8 L692.2 697.8 L693.2 697.8 L694.2 697.8 L695.2 697.8 L696.2 697.8 L697.2 697.7 L698.2 697.7 L699.2 697.7 L700.2 697.6 L701.2 697.6 L702.2 697.5 L703.2 697.4 L704.2 697.4 L705.2 697.3 L706.2 697.2 L707.2 697.2 L708.2 697.1 L709.2 697.0 L710.2 696.9 L711.2 696.9 L712.2 696.8 L713.2 696.8 L714.2 696.7 L715.2 696.6 L716.2 696.6 L717.2 696.5 L718.2 696.5 L719.2 696.4 L720.2 696.4 L721.2 696.3 L722.2 696.2 L723.2 696.2 L724.2 696.1 L725.2 696.1 L726.2 696.0 L727.2 695.9 L728.2 695.9 L729.2 695.8 L730.2 695.7 L731.2 695.7 L732.2 695.6 L733.2 695.6 L734.2 695.5 L735.2 695.4 L736.2 695.4 L737.2 695.3 L738.2 695.2 L739.2 695.2 L740.2 695.1 L741.2 695.0 L742.2 695.0 L743.2 694.9 L744.2 694.8 L745.2 694.8 L746.2 694.7 L747.2 694.6 L748.2 694.6 L749.2 694.5 L750.2 694.4 L751.2 694.4 L752.2 694.3 L753.2 694.2 L754.2 694.1 L754.8 694.1" stroke="#2236d6" stroke-width="3.0" fill="none" stroke-linecap="round" stroke-linejoin="round"/>
<text x="392.8" y="716.5" font-family="Liberation Serif" font-size="17" fill="#222">35.7 °C</text>
<text x="410.9" y="752.1" font-family="Liberation Serif" font-size="17" fill="#222">38.9 °C</text>
<text x="659.1" y="720.9" font-family="Liberation Serif" font-size="17" fill="#222">172.7 °C</text>
<text x="618.2" y="831.4" font-family="Liberation Serif" font-size="17" fill="#222">156.1 °C</text>
<text x="395.2" y="874.6" font-family="Liberation Serif" font-size="17" fill="#222">39.1 °C</text>
<text x="678.1" y="893.9" font-family="Liberation Serif" font-size="17" fill="#222">171.1 °C</text>
<text x="686.4" y="1102.6" font-family="Liberation Serif" font-size="17" fill="#222">166 °C</text>
<line x1="135.6" y1="664.9" x2="135.6" y2="704.7" stroke="#111" stroke-width="2.3" stroke-dasharray="2.3 2.3"/>
<line x1="183.7" y1="703.3" x2="183.7" y2="742.5" stroke="#111" stroke-width="2.3" stroke-dasharray="2.3 2.3"/>
<line x1="358.4" y1="798.2" x2="358.4" y2="824.0" stroke="#111" stroke-width="2.3" stroke-dasharray="2.3 2.3"/>
<text x="143.8" y="675.2" font-family="Liberation Serif" font-weight="bold" font-size="12.5" fill="#cc2a2e">-58</text>
<text x="163.4" y="665.6" font-family="Liberation Serif" font-weight="bold" font-size="9" fill="#cc2a2e">0</text>
<text x="169.6" y="675.2" font-family="Liberation Serif" font-weight="bold" font-size="13.2" fill="#cc2a2e">C</text>
<text x="190.3" y="715.0" font-family="Liberation Serif" font-weight="bold" font-size="12.5" fill="#cc2a2e">-51</text>
<text x="209.9" y="705.4" font-family="Liberation Serif" font-weight="bold" font-size="9" fill="#cc2a2e">0</text>
<text x="216.1" y="715.0" font-family="Liberation Serif" font-weight="bold" font-size="13.2" fill="#cc2a2e">C</text>
<text x="314.9" y="826.5" font-family="Liberation Serif" font-weight="bold" font-size="12.5" fill="#cc2a2e">28</text>
<text x="332.0" y="816.9" font-family="Liberation Serif" font-weight="bold" font-size="9" fill="#cc2a2e">0</text>
<text x="338.2" y="826.5" font-family="Liberation Serif" font-weight="bold" font-size="13.2" fill="#cc2a2e">C</text>
<line x1="105.5" y1="930.5" x2="157.5" y2="930.5" stroke="#e0138a" stroke-width="3" stroke-linecap="round"/>
<text x="163.3" y="938.4" font-family="Liberation Serif" font-weight="bold" font-size="23.5">LVC</text>
<line x1="105.5" y1="959.4" x2="157.5" y2="959.4" stroke="#ea8838" stroke-width="3" stroke-linecap="round"/>
<text x="163.3" y="967.3" font-family="Liberation Serif" font-weight="bold" font-size="23.5">CA</text>
<line x1="105.5" y1="988.3" x2="157.5" y2="988.3" stroke="#e0dc3c" stroke-width="3" stroke-linecap="round"/>
<text x="163.3" y="996.2" font-family="Liberation Serif" font-weight="bold" font-size="23.5">CA-Film</text>
<line x1="105.5" y1="1017.2" x2="157.5" y2="1017.2" stroke="#16cc1c" stroke-width="3" stroke-linecap="round"/>
<text x="163.3" y="1025.1" font-family="Liberation Serif" font-weight="bold" font-size="23.5">PEG1000</text>
<line x1="105.5" y1="1046.1" x2="157.5" y2="1046.1" stroke="#20c2c4" stroke-width="3" stroke-linecap="round"/>
<text x="163.3" y="1054.0" font-family="Liberation Serif" font-weight="bold" font-size="23.5">CA-PEG1000</text>
<line x1="105.5" y1="1075.0" x2="157.5" y2="1075.0" stroke="#2236d6" stroke-width="3" stroke-linecap="round"/>
<text x="163.3" y="1082.9" font-family="Liberation Serif" font-weight="bold" font-size="23.5">CA-PEG1000-LVC</text>
</svg>
</body></html>
